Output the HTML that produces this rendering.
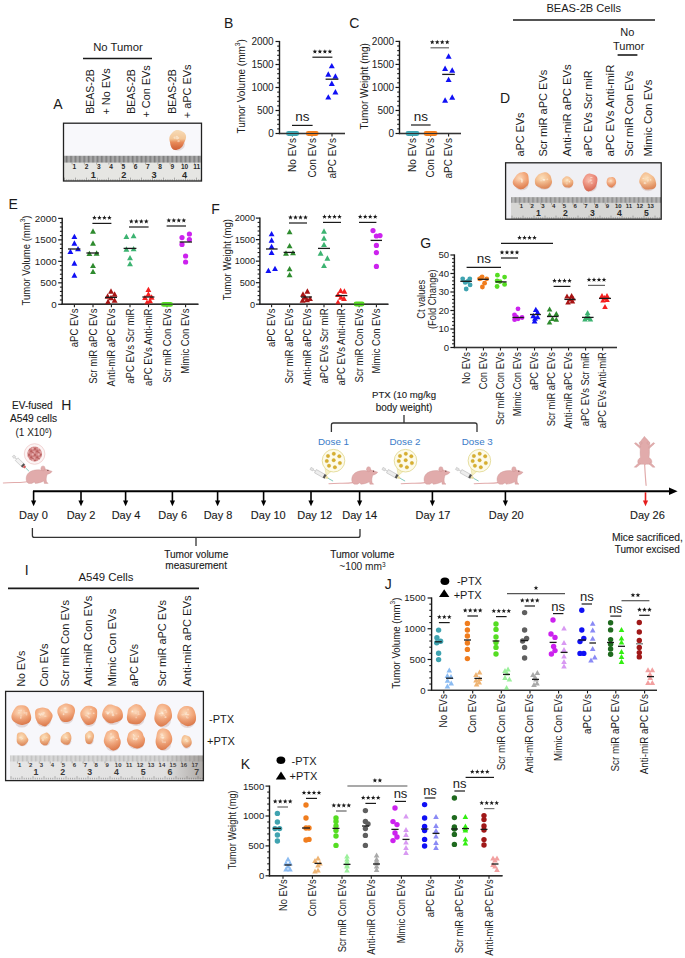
<!DOCTYPE html>
<html><head><meta charset="utf-8"><style>
html,body{margin:0;padding:0;background:#fff;overflow:hidden;width:685px;height:958px;}
svg{display:block;}
text{font-family:"Liberation Sans", sans-serif;}
</style></head><body>
<svg width="685" height="958" viewBox="0 0 685 958">
<rect width="685" height="958" fill="#fff"/>
<text x="53.30" y="109.00" font-size="14" fill="#1a1a1a">A</text>
<text x="224.00" y="28.00" font-size="14" fill="#1a1a1a">B</text>
<text x="349.30" y="28.00" font-size="14" fill="#1a1a1a">C</text>
<text x="499.90" y="103.00" font-size="14" fill="#1a1a1a">D</text>
<text x="8.50" y="208.90" font-size="14" fill="#1a1a1a">E</text>
<text x="211.30" y="213.60" font-size="14" fill="#1a1a1a">F</text>
<text x="420.30" y="248.00" font-size="14" fill="#1a1a1a">G</text>
<text x="61.30" y="410.00" font-size="14" fill="#1a1a1a">H</text>
<text x="24.70" y="575.00" font-size="14" fill="#1a1a1a">I</text>
<text x="384.70" y="588.50" font-size="14" fill="#1a1a1a">J</text>
<text x="240.80" y="768.60" font-size="14" fill="#1a1a1a">K</text>
<line x1="279.50" y1="134.10" x2="279.50" y2="40.90" stroke="#1a1a1a" stroke-width="1.4"/>
<line x1="275.50" y1="133.50" x2="279.50" y2="133.50" stroke="#1a1a1a" stroke-width="1.2"/>
<text x="273.70" y="137.10" font-size="10" fill="#1a1a1a" text-anchor="end">0</text>
<line x1="277.20" y1="128.90" x2="279.50" y2="128.90" stroke="#1a1a1a" stroke-width="1.1"/>
<line x1="277.20" y1="124.30" x2="279.50" y2="124.30" stroke="#1a1a1a" stroke-width="1.1"/>
<line x1="277.20" y1="119.70" x2="279.50" y2="119.70" stroke="#1a1a1a" stroke-width="1.1"/>
<line x1="277.20" y1="115.10" x2="279.50" y2="115.10" stroke="#1a1a1a" stroke-width="1.1"/>
<line x1="275.50" y1="110.50" x2="279.50" y2="110.50" stroke="#1a1a1a" stroke-width="1.2"/>
<text x="273.70" y="114.10" font-size="10" fill="#1a1a1a" text-anchor="end">500</text>
<line x1="277.20" y1="105.90" x2="279.50" y2="105.90" stroke="#1a1a1a" stroke-width="1.1"/>
<line x1="277.20" y1="101.30" x2="279.50" y2="101.30" stroke="#1a1a1a" stroke-width="1.1"/>
<line x1="277.20" y1="96.70" x2="279.50" y2="96.70" stroke="#1a1a1a" stroke-width="1.1"/>
<line x1="277.20" y1="92.10" x2="279.50" y2="92.10" stroke="#1a1a1a" stroke-width="1.1"/>
<line x1="275.50" y1="87.50" x2="279.50" y2="87.50" stroke="#1a1a1a" stroke-width="1.2"/>
<text x="273.70" y="91.10" font-size="10" fill="#1a1a1a" text-anchor="end">1000</text>
<line x1="277.20" y1="82.90" x2="279.50" y2="82.90" stroke="#1a1a1a" stroke-width="1.1"/>
<line x1="277.20" y1="78.30" x2="279.50" y2="78.30" stroke="#1a1a1a" stroke-width="1.1"/>
<line x1="277.20" y1="73.70" x2="279.50" y2="73.70" stroke="#1a1a1a" stroke-width="1.1"/>
<line x1="277.20" y1="69.10" x2="279.50" y2="69.10" stroke="#1a1a1a" stroke-width="1.1"/>
<line x1="275.50" y1="64.50" x2="279.50" y2="64.50" stroke="#1a1a1a" stroke-width="1.2"/>
<text x="273.70" y="68.10" font-size="10" fill="#1a1a1a" text-anchor="end">1500</text>
<line x1="277.20" y1="59.90" x2="279.50" y2="59.90" stroke="#1a1a1a" stroke-width="1.1"/>
<line x1="277.20" y1="55.30" x2="279.50" y2="55.30" stroke="#1a1a1a" stroke-width="1.1"/>
<line x1="277.20" y1="50.70" x2="279.50" y2="50.70" stroke="#1a1a1a" stroke-width="1.1"/>
<line x1="277.20" y1="46.10" x2="279.50" y2="46.10" stroke="#1a1a1a" stroke-width="1.1"/>
<line x1="275.50" y1="41.50" x2="279.50" y2="41.50" stroke="#1a1a1a" stroke-width="1.2"/>
<text x="273.70" y="45.10" font-size="10" fill="#1a1a1a" text-anchor="end">2000</text>
<line x1="278.80" y1="133.50" x2="345.00" y2="133.50" stroke="#1a1a1a" stroke-width="1.4"/>
<line x1="292.40" y1="133.50" x2="292.40" y2="136.50" stroke="#1a1a1a" stroke-width="1.1"/>
<text transform="translate(296.00,138.00) rotate(-90)" font-size="10" fill="#1a1a1a" text-anchor="end">No EVs</text>
<line x1="312.00" y1="133.50" x2="312.00" y2="136.50" stroke="#1a1a1a" stroke-width="1.1"/>
<text transform="translate(315.60,138.00) rotate(-90)" font-size="10" fill="#1a1a1a" text-anchor="end">Con EVs</text>
<line x1="332.00" y1="133.50" x2="332.00" y2="136.50" stroke="#1a1a1a" stroke-width="1.1"/>
<text transform="translate(335.60,138.00) rotate(-90)" font-size="10" fill="#1a1a1a" text-anchor="end">aPC EVs</text>
<text transform="translate(244.60,133.60) rotate(-90)" font-size="10" fill="#1a1a1a">Tumor Volume (mm<tspan font-size="6.8" dy="-5">3</tspan><tspan dy="5">)</tspan></text>
<rect x="286.00" y="131.10" width="13.20" height="4.8" rx="2.4" fill="#3fa3b0"/>
<rect x="305.80" y="131.10" width="12.90" height="4.8" rx="2.4" fill="#f07d1e"/>
<line x1="279.50" y1="133.50" x2="345.00" y2="133.50" stroke="#333" stroke-width="1.1"/>
<line x1="292.00" y1="125.40" x2="312.60" y2="125.40" stroke="#1a1a1a" stroke-width="1.2"/>
<text x="302.30" y="121.40" font-size="13.5" fill="#1a1a1a" text-anchor="middle">ns</text>
<line x1="312.40" y1="57.20" x2="332.40" y2="57.20" stroke="#1a1a1a" stroke-width="1.2"/>
<polygon points="314.90,49.15 315.52,50.75 317.23,50.84 315.90,51.92 316.34,53.58 314.90,52.65 313.46,53.58 313.90,51.92 312.57,50.84 314.28,50.75" fill="#1a1a1a"/>
<polygon points="319.90,49.15 320.52,50.75 322.23,50.84 320.90,51.92 321.34,53.58 319.90,52.65 318.46,53.58 318.90,51.92 317.57,50.84 319.28,50.75" fill="#1a1a1a"/>
<polygon points="324.90,49.15 325.52,50.75 327.23,50.84 325.90,51.92 326.34,53.58 324.90,52.65 323.46,53.58 323.90,51.92 322.57,50.84 324.28,50.75" fill="#1a1a1a"/>
<polygon points="329.90,49.15 330.52,50.75 332.23,50.84 330.90,51.92 331.34,53.58 329.90,52.65 328.46,53.58 328.90,51.92 327.57,50.84 329.28,50.75" fill="#1a1a1a"/>
<path d="M331.80 62.90L334.80 68.30L328.80 68.30Z" fill="#1010f5"/>
<path d="M328.30 71.30L331.30 76.70L325.30 76.70Z" fill="#1010f5"/>
<path d="M335.40 73.30L338.40 78.70L332.40 78.70Z" fill="#1010f5"/>
<path d="M331.80 80.60L334.80 86.00L328.80 86.00Z" fill="#1010f5"/>
<path d="M335.40 89.10L338.40 94.50L332.40 94.50Z" fill="#1010f5"/>
<path d="M328.30 94.20L331.30 99.60L325.30 99.60Z" fill="#1010f5"/>
<line x1="325.60" y1="79.20" x2="338.40" y2="79.20" stroke="#1a1a1a" stroke-width="1.3"/>
<line x1="399.50" y1="134.10" x2="399.50" y2="40.80" stroke="#1a1a1a" stroke-width="1.4"/>
<line x1="395.50" y1="133.50" x2="399.50" y2="133.50" stroke="#1a1a1a" stroke-width="1.2"/>
<text x="394.10" y="137.10" font-size="10" fill="#1a1a1a" text-anchor="end">0</text>
<line x1="397.20" y1="128.90" x2="399.50" y2="128.90" stroke="#1a1a1a" stroke-width="1.1"/>
<line x1="397.20" y1="124.29" x2="399.50" y2="124.29" stroke="#1a1a1a" stroke-width="1.1"/>
<line x1="397.20" y1="119.69" x2="399.50" y2="119.69" stroke="#1a1a1a" stroke-width="1.1"/>
<line x1="397.20" y1="115.08" x2="399.50" y2="115.08" stroke="#1a1a1a" stroke-width="1.1"/>
<line x1="395.50" y1="110.47" x2="399.50" y2="110.47" stroke="#1a1a1a" stroke-width="1.2"/>
<text x="394.10" y="114.07" font-size="10" fill="#1a1a1a" text-anchor="end">500</text>
<line x1="397.20" y1="105.87" x2="399.50" y2="105.87" stroke="#1a1a1a" stroke-width="1.1"/>
<line x1="397.20" y1="101.27" x2="399.50" y2="101.27" stroke="#1a1a1a" stroke-width="1.1"/>
<line x1="397.20" y1="96.66" x2="399.50" y2="96.66" stroke="#1a1a1a" stroke-width="1.1"/>
<line x1="397.20" y1="92.06" x2="399.50" y2="92.06" stroke="#1a1a1a" stroke-width="1.1"/>
<line x1="395.50" y1="87.45" x2="399.50" y2="87.45" stroke="#1a1a1a" stroke-width="1.2"/>
<text x="394.10" y="91.05" font-size="10" fill="#1a1a1a" text-anchor="end">1000</text>
<line x1="397.20" y1="82.84" x2="399.50" y2="82.84" stroke="#1a1a1a" stroke-width="1.1"/>
<line x1="397.20" y1="78.24" x2="399.50" y2="78.24" stroke="#1a1a1a" stroke-width="1.1"/>
<line x1="397.20" y1="73.64" x2="399.50" y2="73.64" stroke="#1a1a1a" stroke-width="1.1"/>
<line x1="397.20" y1="69.03" x2="399.50" y2="69.03" stroke="#1a1a1a" stroke-width="1.1"/>
<line x1="395.50" y1="64.42" x2="399.50" y2="64.42" stroke="#1a1a1a" stroke-width="1.2"/>
<text x="394.10" y="68.02" font-size="10" fill="#1a1a1a" text-anchor="end">1500</text>
<line x1="397.20" y1="59.82" x2="399.50" y2="59.82" stroke="#1a1a1a" stroke-width="1.1"/>
<line x1="397.20" y1="55.22" x2="399.50" y2="55.22" stroke="#1a1a1a" stroke-width="1.1"/>
<line x1="397.20" y1="50.61" x2="399.50" y2="50.61" stroke="#1a1a1a" stroke-width="1.1"/>
<line x1="397.20" y1="46.00" x2="399.50" y2="46.00" stroke="#1a1a1a" stroke-width="1.1"/>
<line x1="395.50" y1="41.40" x2="399.50" y2="41.40" stroke="#1a1a1a" stroke-width="1.2"/>
<text x="394.10" y="45.00" font-size="10" fill="#1a1a1a" text-anchor="end">2000</text>
<line x1="398.80" y1="133.50" x2="461.00" y2="133.50" stroke="#1a1a1a" stroke-width="1.4"/>
<line x1="412.50" y1="133.50" x2="412.50" y2="136.50" stroke="#1a1a1a" stroke-width="1.1"/>
<text transform="translate(416.10,138.00) rotate(-90)" font-size="10" fill="#1a1a1a" text-anchor="end">No EVs</text>
<line x1="430.60" y1="133.50" x2="430.60" y2="136.50" stroke="#1a1a1a" stroke-width="1.1"/>
<text transform="translate(434.20,138.00) rotate(-90)" font-size="10" fill="#1a1a1a" text-anchor="end">Con EVs</text>
<line x1="448.60" y1="133.50" x2="448.60" y2="136.50" stroke="#1a1a1a" stroke-width="1.1"/>
<text transform="translate(452.20,138.00) rotate(-90)" font-size="10" fill="#1a1a1a" text-anchor="end">aPC EVs</text>
<text transform="translate(367.70,129.50) rotate(-90)" font-size="10.1" fill="#1a1a1a">Tumor Weight (mg)</text>
<rect x="405.50" y="131.10" width="14.00" height="4.8" rx="2.4" fill="#3fa3b0"/>
<rect x="423.60" y="131.10" width="14.00" height="4.8" rx="2.4" fill="#f07d1e"/>
<line x1="399.50" y1="133.50" x2="461.00" y2="133.50" stroke="#333" stroke-width="1.1"/>
<line x1="411.00" y1="125.00" x2="430.60" y2="125.00" stroke="#1a1a1a" stroke-width="1.2"/>
<text x="420.80" y="121.00" font-size="13.5" fill="#1a1a1a" text-anchor="middle">ns</text>
<line x1="430.50" y1="47.80" x2="449.00" y2="47.80" stroke="#666" stroke-width="1.2"/>
<polygon points="432.25,39.75 432.87,41.35 434.58,41.44 433.25,42.52 433.69,44.18 432.25,43.25 430.81,44.18 431.25,42.52 429.92,41.44 431.63,41.35" fill="#1a1a1a"/>
<polygon points="437.25,39.75 437.87,41.35 439.58,41.44 438.25,42.52 438.69,44.18 437.25,43.25 435.81,44.18 436.25,42.52 434.92,41.44 436.63,41.35" fill="#1a1a1a"/>
<polygon points="442.25,39.75 442.87,41.35 444.58,41.44 443.25,42.52 443.69,44.18 442.25,43.25 440.81,44.18 441.25,42.52 439.92,41.44 441.63,41.35" fill="#1a1a1a"/>
<polygon points="447.25,39.75 447.87,41.35 449.58,41.44 448.25,42.52 448.69,44.18 447.25,43.25 445.81,44.18 446.25,42.52 444.92,41.44 446.63,41.35" fill="#1a1a1a"/>
<path d="M448.60 53.30L451.60 58.70L445.60 58.70Z" fill="#1010f5"/>
<path d="M445.10 65.60L448.10 71.00L442.10 71.00Z" fill="#1010f5"/>
<path d="M452.20 67.30L455.20 72.70L449.20 72.70Z" fill="#1010f5"/>
<path d="M448.60 76.70L451.60 82.10L445.60 82.10Z" fill="#1010f5"/>
<path d="M445.10 97.30L448.10 102.70L442.10 102.70Z" fill="#1010f5"/>
<path d="M452.20 94.30L455.20 99.70L449.20 99.70Z" fill="#1010f5"/>
<line x1="442.20" y1="74.40" x2="454.80" y2="74.40" stroke="#1a1a1a" stroke-width="1.3"/>
<line x1="62.20" y1="304.90" x2="62.20" y2="217.80" stroke="#1a1a1a" stroke-width="1.4"/>
<line x1="58.20" y1="304.30" x2="62.20" y2="304.30" stroke="#1a1a1a" stroke-width="1.2"/>
<text x="56.60" y="307.83" font-size="9.8" fill="#1a1a1a" text-anchor="end">0</text>
<line x1="59.90" y1="300.00" x2="62.20" y2="300.00" stroke="#1a1a1a" stroke-width="1.1"/>
<line x1="59.90" y1="295.71" x2="62.20" y2="295.71" stroke="#1a1a1a" stroke-width="1.1"/>
<line x1="59.90" y1="291.42" x2="62.20" y2="291.42" stroke="#1a1a1a" stroke-width="1.1"/>
<line x1="59.90" y1="287.12" x2="62.20" y2="287.12" stroke="#1a1a1a" stroke-width="1.1"/>
<line x1="58.20" y1="282.82" x2="62.20" y2="282.82" stroke="#1a1a1a" stroke-width="1.2"/>
<text x="56.60" y="286.35" font-size="9.8" fill="#1a1a1a" text-anchor="end">500</text>
<line x1="59.90" y1="278.53" x2="62.20" y2="278.53" stroke="#1a1a1a" stroke-width="1.1"/>
<line x1="59.90" y1="274.24" x2="62.20" y2="274.24" stroke="#1a1a1a" stroke-width="1.1"/>
<line x1="59.90" y1="269.94" x2="62.20" y2="269.94" stroke="#1a1a1a" stroke-width="1.1"/>
<line x1="59.90" y1="265.64" x2="62.20" y2="265.64" stroke="#1a1a1a" stroke-width="1.1"/>
<line x1="58.20" y1="261.35" x2="62.20" y2="261.35" stroke="#1a1a1a" stroke-width="1.2"/>
<text x="56.60" y="264.88" font-size="9.8" fill="#1a1a1a" text-anchor="end">1000</text>
<line x1="59.90" y1="257.06" x2="62.20" y2="257.06" stroke="#1a1a1a" stroke-width="1.1"/>
<line x1="59.90" y1="252.76" x2="62.20" y2="252.76" stroke="#1a1a1a" stroke-width="1.1"/>
<line x1="59.90" y1="248.47" x2="62.20" y2="248.47" stroke="#1a1a1a" stroke-width="1.1"/>
<line x1="59.90" y1="244.17" x2="62.20" y2="244.17" stroke="#1a1a1a" stroke-width="1.1"/>
<line x1="58.20" y1="239.88" x2="62.20" y2="239.88" stroke="#1a1a1a" stroke-width="1.2"/>
<text x="56.60" y="243.40" font-size="9.8" fill="#1a1a1a" text-anchor="end">1500</text>
<line x1="59.90" y1="235.58" x2="62.20" y2="235.58" stroke="#1a1a1a" stroke-width="1.1"/>
<line x1="59.90" y1="231.29" x2="62.20" y2="231.29" stroke="#1a1a1a" stroke-width="1.1"/>
<line x1="59.90" y1="226.99" x2="62.20" y2="226.99" stroke="#1a1a1a" stroke-width="1.1"/>
<line x1="59.90" y1="222.69" x2="62.20" y2="222.69" stroke="#1a1a1a" stroke-width="1.1"/>
<line x1="58.20" y1="218.40" x2="62.20" y2="218.40" stroke="#1a1a1a" stroke-width="1.2"/>
<text x="56.60" y="221.93" font-size="9.8" fill="#1a1a1a" text-anchor="end">2000</text>
<line x1="61.50" y1="304.30" x2="198.40" y2="304.30" stroke="#1a1a1a" stroke-width="1.4"/>
<line x1="74.40" y1="304.30" x2="74.40" y2="307.30" stroke="#1a1a1a" stroke-width="1.1"/>
<text transform="translate(78.00,308.50) rotate(-90) scale(0.955,1)" font-size="10" fill="#1a1a1a" text-anchor="end">aPC EVs</text>
<line x1="93.00" y1="304.30" x2="93.00" y2="307.30" stroke="#1a1a1a" stroke-width="1.1"/>
<text transform="translate(96.60,308.50) rotate(-90) scale(0.955,1)" font-size="10" fill="#1a1a1a" text-anchor="end">Scr miR aPC EVs</text>
<line x1="111.40" y1="304.30" x2="111.40" y2="307.30" stroke="#1a1a1a" stroke-width="1.1"/>
<text transform="translate(115.00,308.50) rotate(-90) scale(0.955,1)" font-size="10" fill="#1a1a1a" text-anchor="end">Anti-miR aPC EVs</text>
<line x1="130.00" y1="304.30" x2="130.00" y2="307.30" stroke="#1a1a1a" stroke-width="1.1"/>
<text transform="translate(133.60,308.50) rotate(-90) scale(0.955,1)" font-size="10" fill="#1a1a1a" text-anchor="end">aPC EVs Scr miR</text>
<line x1="148.50" y1="304.30" x2="148.50" y2="307.30" stroke="#1a1a1a" stroke-width="1.1"/>
<text transform="translate(152.10,308.50) rotate(-90) scale(0.955,1)" font-size="10" fill="#1a1a1a" text-anchor="end">aPC EVs Anti-miR</text>
<line x1="167.00" y1="304.30" x2="167.00" y2="307.30" stroke="#1a1a1a" stroke-width="1.1"/>
<text transform="translate(170.60,308.50) rotate(-90) scale(0.955,1)" font-size="10" fill="#1a1a1a" text-anchor="end">Scr miR Con EVs</text>
<line x1="185.60" y1="304.30" x2="185.60" y2="307.30" stroke="#1a1a1a" stroke-width="1.1"/>
<text transform="translate(189.20,308.50) rotate(-90) scale(0.955,1)" font-size="10" fill="#1a1a1a" text-anchor="end">Mimic Con EVs</text>
<text transform="translate(29.60,305.50) rotate(-90) scale(0.953,1)" font-size="10" fill="#1a1a1a">Tumor Volume (mm<tspan font-size="6.8" dy="-5">3</tspan><tspan dy="5">)</tspan></text>
<path d="M74.40 233.75L77.35 239.05L71.45 239.05Z" fill="#1010f5"/>
<path d="M74.40 240.35L77.35 245.65L71.45 245.65Z" fill="#1010f5"/>
<path d="M70.40 248.75L73.35 254.05L67.45 254.05Z" fill="#1010f5"/>
<path d="M78.00 245.95L80.95 251.25L75.05 251.25Z" fill="#1010f5"/>
<path d="M74.40 260.35L77.35 265.65L71.45 265.65Z" fill="#1010f5"/>
<path d="M74.40 272.35L77.35 277.65L71.45 277.65Z" fill="#1010f5"/>
<line x1="68.00" y1="249.00" x2="80.40" y2="249.00" stroke="#1a1a1a" stroke-width="1.3"/>
<path d="M93.00 228.35L95.95 233.65L90.05 233.65Z" fill="#2e8b2e"/>
<path d="M93.00 240.35L95.95 245.65L90.05 245.65Z" fill="#2e8b2e"/>
<path d="M89.40 250.75L92.35 256.05L86.45 256.05Z" fill="#2e8b2e"/>
<path d="M96.60 250.35L99.55 255.65L93.65 255.65Z" fill="#2e8b2e"/>
<path d="M93.00 262.75L95.95 268.05L90.05 268.05Z" fill="#2e8b2e"/>
<path d="M93.00 268.75L95.95 274.05L90.05 274.05Z" fill="#2e8b2e"/>
<line x1="86.40" y1="253.00" x2="99.00" y2="253.00" stroke="#1a1a1a" stroke-width="1.3"/>
<path d="M111.00 288.35L113.95 293.65L108.05 293.65Z" fill="#a81414"/>
<path d="M114.60 291.35L117.55 296.65L111.65 296.65Z" fill="#a81414"/>
<path d="M108.00 298.85L110.95 304.15L105.05 304.15Z" fill="#a81414"/>
<path d="M114.60 297.55L117.55 302.85L111.65 302.85Z" fill="#a81414"/>
<path d="M111.00 294.85L113.95 300.15L108.05 300.15Z" fill="#a81414"/>
<path d="M107.60 293.35L110.55 298.65L104.65 298.65Z" fill="#a81414"/>
<line x1="105.00" y1="297.40" x2="117.00" y2="297.40" stroke="#1a1a1a" stroke-width="1.3"/>
<path d="M126.40 233.75L129.35 239.05L123.45 239.05Z" fill="#3cb371"/>
<path d="M133.60 232.95L136.55 238.25L130.65 238.25Z" fill="#3cb371"/>
<path d="M126.40 246.35L129.35 251.65L123.45 251.65Z" fill="#3cb371"/>
<path d="M133.60 245.95L136.55 251.25L130.65 251.25Z" fill="#3cb371"/>
<path d="M130.00 254.95L132.95 260.25L127.05 260.25Z" fill="#3cb371"/>
<path d="M130.00 260.95L132.95 266.25L127.05 266.25Z" fill="#3cb371"/>
<line x1="123.60" y1="248.40" x2="136.40" y2="248.40" stroke="#1a1a1a" stroke-width="1.3"/>
<path d="M148.40 286.75L151.35 292.05L145.45 292.05Z" fill="#f52020"/>
<path d="M148.40 291.35L151.35 296.65L145.45 296.65Z" fill="#f52020"/>
<path d="M145.00 294.75L147.95 300.05L142.05 300.05Z" fill="#f52020"/>
<path d="M151.60 294.35L154.55 299.65L148.65 299.65Z" fill="#f52020"/>
<path d="M147.00 299.55L149.95 304.85L144.05 304.85Z" fill="#f52020"/>
<path d="M150.00 297.85L152.95 303.15L147.05 303.15Z" fill="#f52020"/>
<line x1="142.40" y1="297.00" x2="154.40" y2="297.00" stroke="#1a1a1a" stroke-width="1.3"/>
<rect x="161.00" y="302.00" width="12.00" height="4.8" rx="2.4" fill="#55dd22"/>
<circle cx="182.00" cy="237.60" r="2.6" fill="#cc22ee"/>
<circle cx="189.40" cy="234.00" r="2.6" fill="#cc22ee"/>
<circle cx="189.40" cy="239.60" r="2.6" fill="#cc22ee"/>
<circle cx="182.00" cy="244.40" r="2.6" fill="#cc22ee"/>
<circle cx="185.60" cy="256.00" r="2.6" fill="#cc22ee"/>
<circle cx="185.60" cy="262.00" r="2.6" fill="#cc22ee"/>
<line x1="179.60" y1="242.00" x2="192.00" y2="242.00" stroke="#1a1a1a" stroke-width="1.3"/>
<line x1="62.20" y1="304.30" x2="198.40" y2="304.30" stroke="#333" stroke-width="1.1"/>
<line x1="92.40" y1="223.40" x2="111.40" y2="223.40" stroke="#1a1a1a" stroke-width="1.2"/>
<polygon points="94.40,215.35 95.02,216.95 96.73,217.04 95.40,218.12 95.84,219.78 94.40,218.85 92.96,219.78 93.40,218.12 92.07,217.04 93.78,216.95" fill="#1a1a1a"/>
<polygon points="99.40,215.35 100.02,216.95 101.73,217.04 100.40,218.12 100.84,219.78 99.40,218.85 97.96,219.78 98.40,218.12 97.07,217.04 98.78,216.95" fill="#1a1a1a"/>
<polygon points="104.40,215.35 105.02,216.95 106.73,217.04 105.40,218.12 105.84,219.78 104.40,218.85 102.96,219.78 103.40,218.12 102.07,217.04 103.78,216.95" fill="#1a1a1a"/>
<polygon points="109.40,215.35 110.02,216.95 111.73,217.04 110.40,218.12 110.84,219.78 109.40,218.85 107.96,219.78 108.40,218.12 107.07,217.04 108.78,216.95" fill="#1a1a1a"/>
<line x1="129.00" y1="227.00" x2="148.60" y2="227.00" stroke="#1a1a1a" stroke-width="1.2"/>
<polygon points="131.30,218.95 131.92,220.55 133.63,220.64 132.30,221.72 132.74,223.38 131.30,222.45 129.86,223.38 130.30,221.72 128.97,220.64 130.68,220.55" fill="#1a1a1a"/>
<polygon points="136.30,218.95 136.92,220.55 138.63,220.64 137.30,221.72 137.74,223.38 136.30,222.45 134.86,223.38 135.30,221.72 133.97,220.64 135.68,220.55" fill="#1a1a1a"/>
<polygon points="141.30,218.95 141.92,220.55 143.63,220.64 142.30,221.72 142.74,223.38 141.30,222.45 139.86,223.38 140.30,221.72 138.97,220.64 140.68,220.55" fill="#1a1a1a"/>
<polygon points="146.30,218.95 146.92,220.55 148.63,220.64 147.30,221.72 147.74,223.38 146.30,222.45 144.86,223.38 145.30,221.72 143.97,220.64 145.68,220.55" fill="#1a1a1a"/>
<line x1="166.60" y1="226.00" x2="186.00" y2="226.00" stroke="#1a1a1a" stroke-width="1.2"/>
<polygon points="168.80,217.95 169.42,219.55 171.13,219.64 169.80,220.72 170.24,222.38 168.80,221.45 167.36,222.38 167.80,220.72 166.47,219.64 168.18,219.55" fill="#1a1a1a"/>
<polygon points="173.80,217.95 174.42,219.55 176.13,219.64 174.80,220.72 175.24,222.38 173.80,221.45 172.36,222.38 172.80,220.72 171.47,219.64 173.18,219.55" fill="#1a1a1a"/>
<polygon points="178.80,217.95 179.42,219.55 181.13,219.64 179.80,220.72 180.24,222.38 178.80,221.45 177.36,222.38 177.80,220.72 176.47,219.64 178.18,219.55" fill="#1a1a1a"/>
<polygon points="183.80,217.95 184.42,219.55 186.13,219.64 184.80,220.72 185.24,222.38 183.80,221.45 182.36,222.38 182.80,220.72 181.47,219.64 183.18,219.55" fill="#1a1a1a"/>
<line x1="259.90" y1="304.80" x2="259.90" y2="217.50" stroke="#1a1a1a" stroke-width="1.4"/>
<line x1="255.90" y1="304.20" x2="259.90" y2="304.20" stroke="#1a1a1a" stroke-width="1.2"/>
<text x="255.10" y="307.51" font-size="9.2" fill="#1a1a1a" text-anchor="end">0</text>
<line x1="257.60" y1="299.89" x2="259.90" y2="299.89" stroke="#1a1a1a" stroke-width="1.1"/>
<line x1="257.60" y1="295.59" x2="259.90" y2="295.59" stroke="#1a1a1a" stroke-width="1.1"/>
<line x1="257.60" y1="291.28" x2="259.90" y2="291.28" stroke="#1a1a1a" stroke-width="1.1"/>
<line x1="257.60" y1="286.98" x2="259.90" y2="286.98" stroke="#1a1a1a" stroke-width="1.1"/>
<line x1="255.90" y1="282.68" x2="259.90" y2="282.68" stroke="#1a1a1a" stroke-width="1.2"/>
<text x="255.10" y="285.99" font-size="9.2" fill="#1a1a1a" text-anchor="end">500</text>
<line x1="257.60" y1="278.37" x2="259.90" y2="278.37" stroke="#1a1a1a" stroke-width="1.1"/>
<line x1="257.60" y1="274.06" x2="259.90" y2="274.06" stroke="#1a1a1a" stroke-width="1.1"/>
<line x1="257.60" y1="269.76" x2="259.90" y2="269.76" stroke="#1a1a1a" stroke-width="1.1"/>
<line x1="257.60" y1="265.45" x2="259.90" y2="265.45" stroke="#1a1a1a" stroke-width="1.1"/>
<line x1="255.90" y1="261.15" x2="259.90" y2="261.15" stroke="#1a1a1a" stroke-width="1.2"/>
<text x="255.10" y="264.46" font-size="9.2" fill="#1a1a1a" text-anchor="end">1000</text>
<line x1="257.60" y1="256.84" x2="259.90" y2="256.84" stroke="#1a1a1a" stroke-width="1.1"/>
<line x1="257.60" y1="252.54" x2="259.90" y2="252.54" stroke="#1a1a1a" stroke-width="1.1"/>
<line x1="257.60" y1="248.24" x2="259.90" y2="248.24" stroke="#1a1a1a" stroke-width="1.1"/>
<line x1="257.60" y1="243.93" x2="259.90" y2="243.93" stroke="#1a1a1a" stroke-width="1.1"/>
<line x1="255.90" y1="239.62" x2="259.90" y2="239.62" stroke="#1a1a1a" stroke-width="1.2"/>
<text x="255.10" y="242.94" font-size="9.2" fill="#1a1a1a" text-anchor="end">1500</text>
<line x1="257.60" y1="235.32" x2="259.90" y2="235.32" stroke="#1a1a1a" stroke-width="1.1"/>
<line x1="257.60" y1="231.01" x2="259.90" y2="231.01" stroke="#1a1a1a" stroke-width="1.1"/>
<line x1="257.60" y1="226.71" x2="259.90" y2="226.71" stroke="#1a1a1a" stroke-width="1.1"/>
<line x1="257.60" y1="222.40" x2="259.90" y2="222.40" stroke="#1a1a1a" stroke-width="1.1"/>
<line x1="255.90" y1="218.10" x2="259.90" y2="218.10" stroke="#1a1a1a" stroke-width="1.2"/>
<text x="255.10" y="221.41" font-size="9.2" fill="#1a1a1a" text-anchor="end">2000</text>
<line x1="259.20" y1="304.20" x2="388.40" y2="304.20" stroke="#1a1a1a" stroke-width="1.4"/>
<line x1="271.60" y1="304.20" x2="271.60" y2="307.20" stroke="#1a1a1a" stroke-width="1.1"/>
<text transform="translate(275.20,308.50) rotate(-90) scale(0.95,1)" font-size="10" fill="#1a1a1a" text-anchor="end">aPC EVs</text>
<line x1="289.60" y1="304.20" x2="289.60" y2="307.20" stroke="#1a1a1a" stroke-width="1.1"/>
<text transform="translate(293.20,308.50) rotate(-90) scale(0.95,1)" font-size="10" fill="#1a1a1a" text-anchor="end">Scr miR aPC EVs</text>
<line x1="307.00" y1="304.20" x2="307.00" y2="307.20" stroke="#1a1a1a" stroke-width="1.1"/>
<text transform="translate(310.60,308.50) rotate(-90) scale(0.95,1)" font-size="10" fill="#1a1a1a" text-anchor="end">Anti-miR aPC EVs</text>
<line x1="324.00" y1="304.20" x2="324.00" y2="307.20" stroke="#1a1a1a" stroke-width="1.1"/>
<text transform="translate(327.60,308.50) rotate(-90) scale(0.95,1)" font-size="10" fill="#1a1a1a" text-anchor="end">aPC EVs Scr miR</text>
<line x1="341.60" y1="304.20" x2="341.60" y2="307.20" stroke="#1a1a1a" stroke-width="1.1"/>
<text transform="translate(345.20,308.50) rotate(-90) scale(0.95,1)" font-size="10" fill="#1a1a1a" text-anchor="end">aPC EVs Anti-miR</text>
<line x1="359.10" y1="304.20" x2="359.10" y2="307.20" stroke="#1a1a1a" stroke-width="1.1"/>
<text transform="translate(362.70,308.50) rotate(-90) scale(0.95,1)" font-size="10" fill="#1a1a1a" text-anchor="end">Scr miR Con EVs</text>
<line x1="376.40" y1="304.20" x2="376.40" y2="307.20" stroke="#1a1a1a" stroke-width="1.1"/>
<text transform="translate(380.00,308.50) rotate(-90) scale(0.95,1)" font-size="10" fill="#1a1a1a" text-anchor="end">Mimic Con EVs</text>
<text transform="translate(230.70,300.30) rotate(-90) scale(0.95,1)" font-size="10" fill="#1a1a1a">Tumor Weight (mg)</text>
<path d="M271.60 230.95L274.55 236.25L268.65 236.25Z" fill="#1010f5"/>
<path d="M271.60 237.35L274.55 242.65L268.65 242.65Z" fill="#1010f5"/>
<path d="M271.60 243.75L274.55 249.05L268.65 249.05Z" fill="#1010f5"/>
<path d="M271.60 249.75L274.55 255.05L268.65 255.05Z" fill="#1010f5"/>
<path d="M268.40 267.75L271.35 273.05L265.45 273.05Z" fill="#1010f5"/>
<path d="M275.00 265.75L277.95 271.05L272.05 271.05Z" fill="#1010f5"/>
<line x1="266.00" y1="249.00" x2="277.60" y2="249.00" stroke="#1a1a1a" stroke-width="1.3"/>
<path d="M289.60 228.95L292.55 234.25L286.65 234.25Z" fill="#2e8b2e"/>
<path d="M289.60 242.95L292.55 248.25L286.65 248.25Z" fill="#2e8b2e"/>
<path d="M286.00 250.35L288.95 255.65L283.05 255.65Z" fill="#2e8b2e"/>
<path d="M293.00 249.95L295.95 255.25L290.05 255.25Z" fill="#2e8b2e"/>
<path d="M289.60 265.95L292.55 271.25L286.65 271.25Z" fill="#2e8b2e"/>
<path d="M289.60 271.95L292.55 277.25L286.65 277.25Z" fill="#2e8b2e"/>
<line x1="283.60" y1="252.40" x2="295.00" y2="252.40" stroke="#1a1a1a" stroke-width="1.3"/>
<path d="M307.40 288.35L310.35 293.65L304.45 293.65Z" fill="#a81414"/>
<path d="M303.00 291.35L305.95 296.65L300.05 296.65Z" fill="#a81414"/>
<path d="M310.00 295.75L312.95 301.05L307.05 301.05Z" fill="#a81414"/>
<path d="M302.60 297.35L305.55 302.65L299.65 302.65Z" fill="#a81414"/>
<path d="M307.00 296.95L309.95 302.25L304.05 302.25Z" fill="#a81414"/>
<path d="M305.00 294.35L307.95 299.65L302.05 299.65Z" fill="#a81414"/>
<line x1="301.00" y1="297.00" x2="312.00" y2="297.00" stroke="#1a1a1a" stroke-width="1.3"/>
<path d="M324.00 228.35L326.95 233.65L321.05 233.65Z" fill="#3cb371"/>
<path d="M324.00 235.35L326.95 240.65L321.05 240.65Z" fill="#3cb371"/>
<path d="M324.00 241.75L326.95 247.05L321.05 247.05Z" fill="#3cb371"/>
<path d="M320.60 250.35L323.55 255.65L317.65 255.65Z" fill="#3cb371"/>
<path d="M327.40 255.35L330.35 260.65L324.45 260.65Z" fill="#3cb371"/>
<path d="M324.00 262.75L326.95 268.05L321.05 268.05Z" fill="#3cb371"/>
<line x1="318.00" y1="248.40" x2="330.00" y2="248.40" stroke="#1a1a1a" stroke-width="1.3"/>
<path d="M340.60 287.75L343.55 293.05L337.65 293.05Z" fill="#f52020"/>
<path d="M344.40 288.35L347.35 293.65L341.45 293.65Z" fill="#f52020"/>
<path d="M338.00 291.75L340.95 297.05L335.05 297.05Z" fill="#f52020"/>
<path d="M344.00 295.75L346.95 301.05L341.05 301.05Z" fill="#f52020"/>
<path d="M338.00 299.35L340.95 304.65L335.05 304.65Z" fill="#f52020"/>
<path d="M341.00 294.35L343.95 299.65L338.05 299.65Z" fill="#f52020"/>
<line x1="335.60" y1="295.60" x2="347.40" y2="295.60" stroke="#1a1a1a" stroke-width="1.3"/>
<rect x="353.60" y="301.60" width="11.00" height="4.8" rx="2.4" fill="#55dd22"/>
<circle cx="373.00" cy="230.60" r="2.6" fill="#cc22ee"/>
<circle cx="376.40" cy="236.00" r="2.6" fill="#cc22ee"/>
<circle cx="380.00" cy="235.60" r="2.6" fill="#cc22ee"/>
<circle cx="376.40" cy="245.40" r="2.6" fill="#cc22ee"/>
<circle cx="376.40" cy="252.60" r="2.6" fill="#cc22ee"/>
<circle cx="376.40" cy="266.40" r="2.6" fill="#cc22ee"/>
<line x1="370.60" y1="240.40" x2="382.00" y2="240.40" stroke="#1a1a1a" stroke-width="1.3"/>
<line x1="259.90" y1="304.20" x2="388.40" y2="304.20" stroke="#333" stroke-width="1.1"/>
<line x1="289.00" y1="223.00" x2="307.00" y2="223.00" stroke="#1a1a1a" stroke-width="1.2"/>
<polygon points="290.50,214.95 291.12,216.55 292.83,216.64 291.50,217.72 291.94,219.38 290.50,218.45 289.06,219.38 289.50,217.72 288.17,216.64 289.88,216.55" fill="#1a1a1a"/>
<polygon points="295.50,214.95 296.12,216.55 297.83,216.64 296.50,217.72 296.94,219.38 295.50,218.45 294.06,219.38 294.50,217.72 293.17,216.64 294.88,216.55" fill="#1a1a1a"/>
<polygon points="300.50,214.95 301.12,216.55 302.83,216.64 301.50,217.72 301.94,219.38 300.50,218.45 299.06,219.38 299.50,217.72 298.17,216.64 299.88,216.55" fill="#1a1a1a"/>
<polygon points="305.50,214.95 306.12,216.55 307.83,216.64 306.50,217.72 306.94,219.38 305.50,218.45 304.06,219.38 304.50,217.72 303.17,216.64 304.88,216.55" fill="#1a1a1a"/>
<line x1="323.00" y1="222.40" x2="341.00" y2="222.40" stroke="#1a1a1a" stroke-width="1.2"/>
<polygon points="324.50,214.35 325.12,215.95 326.83,216.04 325.50,217.12 325.94,218.78 324.50,217.85 323.06,218.78 323.50,217.12 322.17,216.04 323.88,215.95" fill="#1a1a1a"/>
<polygon points="329.50,214.35 330.12,215.95 331.83,216.04 330.50,217.12 330.94,218.78 329.50,217.85 328.06,218.78 328.50,217.12 327.17,216.04 328.88,215.95" fill="#1a1a1a"/>
<polygon points="334.50,214.35 335.12,215.95 336.83,216.04 335.50,217.12 335.94,218.78 334.50,217.85 333.06,218.78 333.50,217.12 332.17,216.04 333.88,215.95" fill="#1a1a1a"/>
<polygon points="339.50,214.35 340.12,215.95 341.83,216.04 340.50,217.12 340.94,218.78 339.50,217.85 338.06,218.78 338.50,217.12 337.17,216.04 338.88,215.95" fill="#1a1a1a"/>
<line x1="359.00" y1="222.40" x2="376.40" y2="222.40" stroke="#1a1a1a" stroke-width="1.2"/>
<polygon points="360.20,214.35 360.82,215.95 362.53,216.04 361.20,217.12 361.64,218.78 360.20,217.85 358.76,218.78 359.20,217.12 357.87,216.04 359.58,215.95" fill="#1a1a1a"/>
<polygon points="365.20,214.35 365.82,215.95 367.53,216.04 366.20,217.12 366.64,218.78 365.20,217.85 363.76,218.78 364.20,217.12 362.87,216.04 364.58,215.95" fill="#1a1a1a"/>
<polygon points="370.20,214.35 370.82,215.95 372.53,216.04 371.20,217.12 371.64,218.78 370.20,217.85 368.76,218.78 369.20,217.12 367.87,216.04 369.58,215.95" fill="#1a1a1a"/>
<polygon points="375.20,214.35 375.82,215.95 377.53,216.04 376.20,217.12 376.64,218.78 375.20,217.85 373.76,218.78 374.20,217.12 372.87,216.04 374.58,215.95" fill="#1a1a1a"/>
<line x1="454.40" y1="348.10" x2="454.40" y2="254.40" stroke="#1a1a1a" stroke-width="1.4"/>
<line x1="450.40" y1="347.50" x2="454.40" y2="347.50" stroke="#1a1a1a" stroke-width="1.2"/>
<text x="449.20" y="350.96" font-size="9.6" fill="#1a1a1a" text-anchor="end">0</text>
<line x1="452.10" y1="343.80" x2="454.40" y2="343.80" stroke="#1a1a1a" stroke-width="1.1"/>
<line x1="452.10" y1="340.10" x2="454.40" y2="340.10" stroke="#1a1a1a" stroke-width="1.1"/>
<line x1="452.10" y1="336.40" x2="454.40" y2="336.40" stroke="#1a1a1a" stroke-width="1.1"/>
<line x1="452.10" y1="332.70" x2="454.40" y2="332.70" stroke="#1a1a1a" stroke-width="1.1"/>
<line x1="450.40" y1="329.00" x2="454.40" y2="329.00" stroke="#1a1a1a" stroke-width="1.2"/>
<text x="449.20" y="332.46" font-size="9.6" fill="#1a1a1a" text-anchor="end">10</text>
<line x1="452.10" y1="325.30" x2="454.40" y2="325.30" stroke="#1a1a1a" stroke-width="1.1"/>
<line x1="452.10" y1="321.60" x2="454.40" y2="321.60" stroke="#1a1a1a" stroke-width="1.1"/>
<line x1="452.10" y1="317.90" x2="454.40" y2="317.90" stroke="#1a1a1a" stroke-width="1.1"/>
<line x1="452.10" y1="314.20" x2="454.40" y2="314.20" stroke="#1a1a1a" stroke-width="1.1"/>
<line x1="450.40" y1="310.50" x2="454.40" y2="310.50" stroke="#1a1a1a" stroke-width="1.2"/>
<text x="449.20" y="313.96" font-size="9.6" fill="#1a1a1a" text-anchor="end">20</text>
<line x1="452.10" y1="306.80" x2="454.40" y2="306.80" stroke="#1a1a1a" stroke-width="1.1"/>
<line x1="452.10" y1="303.10" x2="454.40" y2="303.10" stroke="#1a1a1a" stroke-width="1.1"/>
<line x1="452.10" y1="299.40" x2="454.40" y2="299.40" stroke="#1a1a1a" stroke-width="1.1"/>
<line x1="452.10" y1="295.70" x2="454.40" y2="295.70" stroke="#1a1a1a" stroke-width="1.1"/>
<line x1="450.40" y1="292.00" x2="454.40" y2="292.00" stroke="#1a1a1a" stroke-width="1.2"/>
<text x="449.20" y="295.46" font-size="9.6" fill="#1a1a1a" text-anchor="end">30</text>
<line x1="452.10" y1="288.30" x2="454.40" y2="288.30" stroke="#1a1a1a" stroke-width="1.1"/>
<line x1="452.10" y1="284.60" x2="454.40" y2="284.60" stroke="#1a1a1a" stroke-width="1.1"/>
<line x1="452.10" y1="280.90" x2="454.40" y2="280.90" stroke="#1a1a1a" stroke-width="1.1"/>
<line x1="452.10" y1="277.20" x2="454.40" y2="277.20" stroke="#1a1a1a" stroke-width="1.1"/>
<line x1="450.40" y1="273.50" x2="454.40" y2="273.50" stroke="#1a1a1a" stroke-width="1.2"/>
<text x="449.20" y="276.96" font-size="9.6" fill="#1a1a1a" text-anchor="end">40</text>
<line x1="452.10" y1="269.80" x2="454.40" y2="269.80" stroke="#1a1a1a" stroke-width="1.1"/>
<line x1="452.10" y1="266.10" x2="454.40" y2="266.10" stroke="#1a1a1a" stroke-width="1.1"/>
<line x1="452.10" y1="262.40" x2="454.40" y2="262.40" stroke="#1a1a1a" stroke-width="1.1"/>
<line x1="452.10" y1="258.70" x2="454.40" y2="258.70" stroke="#1a1a1a" stroke-width="1.1"/>
<line x1="450.40" y1="255.00" x2="454.40" y2="255.00" stroke="#1a1a1a" stroke-width="1.2"/>
<text x="449.20" y="258.46" font-size="9.6" fill="#1a1a1a" text-anchor="end">50</text>
<line x1="453.70" y1="347.50" x2="617.00" y2="347.50" stroke="#1a1a1a" stroke-width="1.4"/>
<line x1="466.40" y1="347.50" x2="466.40" y2="350.50" stroke="#1a1a1a" stroke-width="1.1"/>
<text transform="translate(470.10,352.10) rotate(-90) scale(0.94,1)" font-size="10" fill="#1a1a1a" text-anchor="end">No EVs</text>
<line x1="483.43" y1="347.50" x2="483.43" y2="350.50" stroke="#1a1a1a" stroke-width="1.1"/>
<text transform="translate(487.13,352.10) rotate(-90) scale(0.94,1)" font-size="10" fill="#1a1a1a" text-anchor="end">Con EVs</text>
<line x1="500.46" y1="347.50" x2="500.46" y2="350.50" stroke="#1a1a1a" stroke-width="1.1"/>
<text transform="translate(504.16,352.10) rotate(-90) scale(0.94,1)" font-size="10" fill="#1a1a1a" text-anchor="end">Scr miR Con EVs</text>
<line x1="517.49" y1="347.50" x2="517.49" y2="350.50" stroke="#1a1a1a" stroke-width="1.1"/>
<text transform="translate(521.19,352.10) rotate(-90) scale(0.94,1)" font-size="10" fill="#1a1a1a" text-anchor="end">Mimic Con EVs</text>
<line x1="534.52" y1="347.50" x2="534.52" y2="350.50" stroke="#1a1a1a" stroke-width="1.1"/>
<text transform="translate(538.22,352.10) rotate(-90) scale(0.94,1)" font-size="10" fill="#1a1a1a" text-anchor="end">aPC EVs</text>
<line x1="551.55" y1="347.50" x2="551.55" y2="350.50" stroke="#1a1a1a" stroke-width="1.1"/>
<text transform="translate(555.25,352.10) rotate(-90) scale(0.94,1)" font-size="10" fill="#1a1a1a" text-anchor="end">Scr miR aPC EVs</text>
<line x1="568.58" y1="347.50" x2="568.58" y2="350.50" stroke="#1a1a1a" stroke-width="1.1"/>
<text transform="translate(572.28,352.10) rotate(-90) scale(0.94,1)" font-size="10" fill="#1a1a1a" text-anchor="end">Anti-miR aPC EVs</text>
<line x1="585.61" y1="347.50" x2="585.61" y2="350.50" stroke="#1a1a1a" stroke-width="1.1"/>
<text transform="translate(589.31,352.10) rotate(-90) scale(0.94,1)" font-size="10" fill="#1a1a1a" text-anchor="end">aPC EVs Scr miR</text>
<line x1="602.64" y1="347.50" x2="602.64" y2="350.50" stroke="#1a1a1a" stroke-width="1.1"/>
<text transform="translate(606.34,352.10) rotate(-90) scale(0.94,1)" font-size="10" fill="#1a1a1a" text-anchor="end">aPC EVs Anti-miR</text>
<text transform="translate(424.50,318.70) rotate(-90) scale(0.935,1)" font-size="10" fill="#1a1a1a">Ct values</text>
<text transform="translate(436.20,329.10) rotate(-90) scale(0.937,1)" font-size="10" fill="#1a1a1a">(Fold Change)</text>
<circle cx="462.70" cy="278.80" r="2.4" fill="#3fa3b0"/>
<circle cx="469.80" cy="278.80" r="2.4" fill="#3fa3b0"/>
<circle cx="465.20" cy="282.40" r="2.4" fill="#3fa3b0"/>
<circle cx="470.10" cy="284.90" r="2.4" fill="#3fa3b0"/>
<circle cx="466.20" cy="289.00" r="2.4" fill="#3fa3b0"/>
<circle cx="467.80" cy="281.30" r="2.4" fill="#3fa3b0"/>
<line x1="460.30" y1="281.30" x2="471.90" y2="281.30" stroke="#1a1a1a" stroke-width="1.3"/>
<circle cx="482.10" cy="276.80" r="2.4" fill="#f07d1e"/>
<circle cx="479.50" cy="278.80" r="2.4" fill="#f07d1e"/>
<circle cx="486.70" cy="278.80" r="2.4" fill="#f07d1e"/>
<circle cx="484.60" cy="283.20" r="2.4" fill="#f07d1e"/>
<circle cx="482.40" cy="287.00" r="2.4" fill="#f07d1e"/>
<circle cx="481.00" cy="278.30" r="2.4" fill="#f07d1e"/>
<line x1="478.00" y1="279.30" x2="488.70" y2="279.30" stroke="#1a1a1a" stroke-width="1.3"/>
<circle cx="497.40" cy="275.20" r="2.4" fill="#55dd22"/>
<circle cx="504.60" cy="277.10" r="2.4" fill="#55dd22"/>
<circle cx="497.10" cy="280.80" r="2.4" fill="#55dd22"/>
<circle cx="504.60" cy="284.40" r="2.4" fill="#55dd22"/>
<circle cx="497.10" cy="286.50" r="2.4" fill="#55dd22"/>
<circle cx="500.00" cy="281.60" r="2.4" fill="#55dd22"/>
<line x1="495.40" y1="281.90" x2="506.60" y2="281.90" stroke="#1a1a1a" stroke-width="1.3"/>
<circle cx="518.00" cy="308.80" r="2.4" fill="#cc22ee"/>
<circle cx="514.50" cy="314.90" r="2.4" fill="#cc22ee"/>
<circle cx="514.60" cy="319.70" r="2.4" fill="#cc22ee"/>
<circle cx="518.10" cy="318.80" r="2.4" fill="#cc22ee"/>
<circle cx="522.10" cy="317.50" r="2.4" fill="#cc22ee"/>
<circle cx="516.40" cy="317.00" r="2.4" fill="#cc22ee"/>
<line x1="512.40" y1="317.50" x2="523.80" y2="317.50" stroke="#1a1a1a" stroke-width="1.3"/>
<path d="M535.80 306.65L538.70 311.95L532.90 311.95Z" fill="#1010f5"/>
<path d="M537.60 309.35L540.50 314.65L534.70 314.65Z" fill="#1010f5"/>
<path d="M533.30 312.85L536.20 318.15L530.40 318.15Z" fill="#1010f5"/>
<path d="M537.60 313.95L540.50 319.25L534.70 319.25Z" fill="#1010f5"/>
<path d="M535.00 315.55L537.90 320.85L532.10 320.85Z" fill="#1010f5"/>
<path d="M534.60 318.15L537.50 323.45L531.70 323.45Z" fill="#1010f5"/>
<line x1="530.00" y1="314.50" x2="540.90" y2="314.50" stroke="#1a1a1a" stroke-width="1.3"/>
<path d="M549.60 306.60L552.40 311.60L546.80 311.60Z" fill="#2e8b2e"/>
<path d="M549.60 312.00L552.40 317.00L546.80 317.00Z" fill="#2e8b2e"/>
<path d="M556.30 311.10L559.10 316.10L553.50 316.10Z" fill="#2e8b2e"/>
<path d="M552.50 316.10L555.30 321.10L549.70 321.10Z" fill="#2e8b2e"/>
<path d="M556.30 316.80L559.10 321.80L553.50 321.80Z" fill="#2e8b2e"/>
<path d="M549.50 319.50L552.30 324.50L546.70 324.50Z" fill="#2e8b2e"/>
<line x1="547.00" y1="316.50" x2="558.60" y2="316.50" stroke="#1a1a1a" stroke-width="1.3"/>
<path d="M567.00 293.50L569.80 298.50L564.20 298.50Z" fill="#a81414"/>
<path d="M571.60 292.90L574.40 297.90L568.80 297.90Z" fill="#a81414"/>
<path d="M568.00 299.50L570.80 304.50L565.20 304.50Z" fill="#a81414"/>
<path d="M572.40 298.50L575.20 303.50L569.60 303.50Z" fill="#a81414"/>
<path d="M570.00 296.50L572.80 301.50L567.20 301.50Z" fill="#a81414"/>
<path d="M573.00 295.50L575.80 300.50L570.20 300.50Z" fill="#a81414"/>
<line x1="564.40" y1="299.40" x2="575.60" y2="299.40" stroke="#1a1a1a" stroke-width="1.3"/>
<path d="M587.60 309.90L590.40 314.90L584.80 314.90Z" fill="#3cb371"/>
<path d="M585.00 316.50L587.80 321.50L582.20 321.50Z" fill="#3cb371"/>
<path d="M590.40 316.50L593.20 321.50L587.60 321.50Z" fill="#3cb371"/>
<path d="M587.60 313.50L590.40 318.50L584.80 318.50Z" fill="#3cb371"/>
<path d="M586.00 315.00L588.80 320.00L583.20 320.00Z" fill="#3cb371"/>
<path d="M589.00 315.00L591.80 320.00L586.20 320.00Z" fill="#3cb371"/>
<line x1="582.00" y1="317.40" x2="593.60" y2="317.40" stroke="#1a1a1a" stroke-width="1.3"/>
<path d="M602.00 293.10L604.80 298.10L599.20 298.10Z" fill="#f52020"/>
<path d="M607.00 293.10L609.80 298.10L604.20 298.10Z" fill="#f52020"/>
<path d="M604.50 295.00L607.30 300.00L601.70 300.00Z" fill="#f52020"/>
<path d="M605.00 304.10L607.80 309.10L602.20 309.10Z" fill="#f52020"/>
<path d="M603.00 297.50L605.80 302.50L600.20 302.50Z" fill="#f52020"/>
<path d="M607.00 297.10L609.80 302.10L604.20 302.10Z" fill="#f52020"/>
<line x1="599.00" y1="298.40" x2="611.00" y2="298.40" stroke="#1a1a1a" stroke-width="1.3"/>
<line x1="454.40" y1="347.50" x2="617.00" y2="347.50" stroke="#333" stroke-width="1.1"/>
<line x1="466.60" y1="267.30" x2="501.00" y2="267.30" stroke="#1a1a1a" stroke-width="1.2"/>
<text x="483.80" y="263.30" font-size="13.5" fill="#1a1a1a" text-anchor="middle">ns</text>
<line x1="501.00" y1="258.00" x2="518.00" y2="258.00" stroke="#1a1a1a" stroke-width="1.2"/>
<polygon points="502.00,249.95 502.62,251.55 504.33,251.64 503.00,252.72 503.44,254.38 502.00,253.45 500.56,254.38 501.00,252.72 499.67,251.64 501.38,251.55" fill="#1a1a1a"/>
<polygon points="507.00,249.95 507.62,251.55 509.33,251.64 508.00,252.72 508.44,254.38 507.00,253.45 505.56,254.38 506.00,252.72 504.67,251.64 506.38,251.55" fill="#1a1a1a"/>
<polygon points="512.00,249.95 512.62,251.55 514.33,251.64 513.00,252.72 513.44,254.38 512.00,253.45 510.56,254.38 511.00,252.72 509.67,251.64 511.38,251.55" fill="#1a1a1a"/>
<polygon points="517.00,249.95 517.62,251.55 519.33,251.64 518.00,252.72 518.44,254.38 517.00,253.45 515.56,254.38 516.00,252.72 514.67,251.64 516.38,251.55" fill="#1a1a1a"/>
<line x1="501.00" y1="243.40" x2="553.00" y2="243.40" stroke="#1a1a1a" stroke-width="1.2"/>
<polygon points="519.50,235.35 520.12,236.95 521.83,237.04 520.50,238.12 520.94,239.78 519.50,238.85 518.06,239.78 518.50,238.12 517.17,237.04 518.88,236.95" fill="#1a1a1a"/>
<polygon points="524.50,235.35 525.12,236.95 526.83,237.04 525.50,238.12 525.94,239.78 524.50,238.85 523.06,239.78 523.50,238.12 522.17,237.04 523.88,236.95" fill="#1a1a1a"/>
<polygon points="529.50,235.35 530.12,236.95 531.83,237.04 530.50,238.12 530.94,239.78 529.50,238.85 528.06,239.78 528.50,238.12 527.17,237.04 528.88,236.95" fill="#1a1a1a"/>
<polygon points="534.50,235.35 535.12,236.95 536.83,237.04 535.50,238.12 535.94,239.78 534.50,238.85 533.06,239.78 533.50,238.12 532.17,237.04 533.88,236.95" fill="#1a1a1a"/>
<line x1="553.60" y1="286.40" x2="570.40" y2="286.40" stroke="#1a1a1a" stroke-width="1.2"/>
<polygon points="554.50,278.35 555.12,279.95 556.83,280.04 555.50,281.12 555.94,282.78 554.50,281.85 553.06,282.78 553.50,281.12 552.17,280.04 553.88,279.95" fill="#1a1a1a"/>
<polygon points="559.50,278.35 560.12,279.95 561.83,280.04 560.50,281.12 560.94,282.78 559.50,281.85 558.06,282.78 558.50,281.12 557.17,280.04 558.88,279.95" fill="#1a1a1a"/>
<polygon points="564.50,278.35 565.12,279.95 566.83,280.04 565.50,281.12 565.94,282.78 564.50,281.85 563.06,282.78 563.50,281.12 562.17,280.04 563.88,279.95" fill="#1a1a1a"/>
<polygon points="569.50,278.35 570.12,279.95 571.83,280.04 570.50,281.12 570.94,282.78 569.50,281.85 568.06,282.78 568.50,281.12 567.17,280.04 568.88,279.95" fill="#1a1a1a"/>
<line x1="588.00" y1="285.40" x2="605.00" y2="285.40" stroke="#666" stroke-width="1.2"/>
<polygon points="589.00,277.35 589.62,278.95 591.33,279.04 590.00,280.12 590.44,281.78 589.00,280.85 587.56,281.78 588.00,280.12 586.67,279.04 588.38,278.95" fill="#1a1a1a"/>
<polygon points="594.00,277.35 594.62,278.95 596.33,279.04 595.00,280.12 595.44,281.78 594.00,280.85 592.56,281.78 593.00,280.12 591.67,279.04 593.38,278.95" fill="#1a1a1a"/>
<polygon points="599.00,277.35 599.62,278.95 601.33,279.04 600.00,280.12 600.44,281.78 599.00,280.85 597.56,281.78 598.00,280.12 596.67,279.04 598.38,278.95" fill="#1a1a1a"/>
<polygon points="604.00,277.35 604.62,278.95 606.33,279.04 605.00,280.12 605.44,281.78 604.00,280.85 602.56,281.78 603.00,280.12 601.67,279.04 603.38,278.95" fill="#1a1a1a"/>
<defs>
<radialGradient id="tum" cx="0.42" cy="0.36" r="0.68">
<stop offset="0" stop-color="#fbd9ba"/><stop offset="0.5" stop-color="#f5b187"/><stop offset="0.9" stop-color="#ec9463"/><stop offset="1" stop-color="#e38656"/>
</radialGradient>
<radialGradient id="tum2" cx="0.42" cy="0.36" r="0.68">
<stop offset="0" stop-color="#f8bfae"/><stop offset="0.5" stop-color="#ef9584"/><stop offset="1" stop-color="#dc6e62"/>
</radialGradient>
<radialGradient id="tumy" cx="0.42" cy="0.36" r="0.68">
<stop offset="0" stop-color="#fbe0bc"/><stop offset="0.5" stop-color="#f5c092"/><stop offset="1" stop-color="#e89e6c"/>
</radialGradient>
<linearGradient id="rulerI" x1="0" y1="0" x2="1" y2="0">
<stop offset="0" stop-color="#5a5048" stop-opacity="0"/><stop offset="0.8" stop-color="#5a5048" stop-opacity="0.04"/><stop offset="1" stop-color="#5a5048" stop-opacity="0.4"/>
</linearGradient>
<linearGradient id="tumA" x1="0" y1="0" x2="0" y2="1">
<stop offset="0" stop-color="#f7dcb8"/><stop offset="0.45" stop-color="#f3c696"/><stop offset="0.62" stop-color="#ee9460"/><stop offset="1" stop-color="#d8693e"/>
</linearGradient>
<linearGradient id="tumshade" x1="0" y1="0" x2="0" y2="1">
<stop offset="0.45" stop-color="#c0502a" stop-opacity="0"/><stop offset="1" stop-color="#c0502a" stop-opacity="0.35"/>
</linearGradient>
<linearGradient id="rulA" x1="0" y1="0" x2="0" y2="1">
<stop offset="0" stop-color="#8c8c8c"/><stop offset="1" stop-color="#a9a9a9"/>
</linearGradient>
<pattern id="stripes" width="4.4" height="10" patternUnits="userSpaceOnUse">
<rect width="4.4" height="10" fill="#9c9c9c"/><rect x="0" width="1.3" height="10" fill="#7c7c7c"/><rect x="2.4" width="0.8" height="10" fill="#b4b4b4"/>
</pattern>
<pattern id="stripesM" width="4.4" height="10" patternUnits="userSpaceOnUse">
<rect width="4.4" height="10" fill="#a9a9a9"/><rect width="1.2" height="10" fill="#8c8c8c"/><rect x="2.4" width="0.8" height="10" fill="#bdbdbd"/>
</pattern>
<pattern id="stripesL" width="4.4" height="10" patternUnits="userSpaceOnUse">
<rect width="4.4" height="10" fill="#d4d4d4"/><rect width="1.2" height="10" fill="#c0c0c0"/><rect x="2.4" width="0.8" height="10" fill="#dedede"/>
</pattern>
<pattern id="cells" width="6" height="6" patternUnits="userSpaceOnUse">
<rect width="6" height="6" fill="#cf8080"/><circle cx="1.2" cy="1.3" r="1.1" fill="#b85c5c"/><circle cx="4.2" cy="2" r="1.2" fill="#e0a2a2"/><circle cx="2.6" cy="4.4" r="1.1" fill="#e8b4b4"/><circle cx="5" cy="4.9" r="0.9" fill="#b25656"/><circle cx="3" cy="2.6" r="0.6" fill="#a84c4c"/><circle cx="0.6" cy="4" r="0.6" fill="#d99494"/>
</pattern>
</defs>
<text x="118.00" y="51.00" font-size="11.3" fill="#1a1a1a" text-anchor="middle">No Tumor</text>
<line x1="83.00" y1="58.40" x2="152.00" y2="58.40" stroke="#1a1a1a" stroke-width="1.5"/>
<text transform="translate(94.40,91.50) rotate(-90)" font-size="10.5" fill="#1a1a1a" text-anchor="middle">BEAS-2B</text>
<text transform="translate(109.60,91.40) rotate(-90)" font-size="10.9" fill="#1a1a1a" text-anchor="middle">+ No EVs</text>
<text transform="translate(135.20,91.50) rotate(-90)" font-size="10.5" fill="#1a1a1a" text-anchor="middle">BEAS-2B</text>
<text transform="translate(150.40,91.40) rotate(-90)" font-size="10.9" fill="#1a1a1a" text-anchor="middle">+ Con EVs</text>
<text transform="translate(175.50,91.50) rotate(-90)" font-size="10.5" fill="#1a1a1a" text-anchor="middle">BEAS-2B</text>
<text transform="translate(190.70,91.40) rotate(-90)" font-size="10.9" fill="#1a1a1a" text-anchor="middle">+ aPC EVs</text>
<rect x="63.5" y="123.2" width="138" height="57.8" fill="#f8f8fb"/>
<rect x="63.50" y="155.80" width="138.00" height="25.20" fill="#e6e6e3"/>
<rect x="63.50" y="155.80" width="138.00" height="6.80" fill="url(#stripes)"/>
<line x1="64.50" y1="180.80" x2="64.50" y2="177.60" stroke="#777" stroke-width="0.55"/>
<line x1="66.70" y1="180.80" x2="66.70" y2="179.20" stroke="#777" stroke-width="0.55"/>
<line x1="68.90" y1="180.80" x2="68.90" y2="179.20" stroke="#777" stroke-width="0.55"/>
<line x1="71.10" y1="180.80" x2="71.10" y2="179.20" stroke="#777" stroke-width="0.55"/>
<line x1="73.30" y1="180.80" x2="73.30" y2="179.20" stroke="#777" stroke-width="0.55"/>
<line x1="75.50" y1="180.80" x2="75.50" y2="177.60" stroke="#777" stroke-width="0.55"/>
<line x1="77.70" y1="180.80" x2="77.70" y2="179.20" stroke="#777" stroke-width="0.55"/>
<line x1="79.90" y1="180.80" x2="79.90" y2="179.20" stroke="#777" stroke-width="0.55"/>
<line x1="82.10" y1="180.80" x2="82.10" y2="179.20" stroke="#777" stroke-width="0.55"/>
<line x1="84.30" y1="180.80" x2="84.30" y2="179.20" stroke="#777" stroke-width="0.55"/>
<line x1="86.50" y1="180.80" x2="86.50" y2="177.60" stroke="#777" stroke-width="0.55"/>
<line x1="88.70" y1="180.80" x2="88.70" y2="179.20" stroke="#777" stroke-width="0.55"/>
<line x1="90.90" y1="180.80" x2="90.90" y2="179.20" stroke="#777" stroke-width="0.55"/>
<line x1="93.10" y1="180.80" x2="93.10" y2="179.20" stroke="#777" stroke-width="0.55"/>
<line x1="95.30" y1="180.80" x2="95.30" y2="179.20" stroke="#777" stroke-width="0.55"/>
<line x1="97.50" y1="180.80" x2="97.50" y2="177.60" stroke="#777" stroke-width="0.55"/>
<line x1="99.70" y1="180.80" x2="99.70" y2="179.20" stroke="#777" stroke-width="0.55"/>
<line x1="101.90" y1="180.80" x2="101.90" y2="179.20" stroke="#777" stroke-width="0.55"/>
<line x1="104.10" y1="180.80" x2="104.10" y2="179.20" stroke="#777" stroke-width="0.55"/>
<line x1="106.30" y1="180.80" x2="106.30" y2="179.20" stroke="#777" stroke-width="0.55"/>
<line x1="108.50" y1="180.80" x2="108.50" y2="177.60" stroke="#777" stroke-width="0.55"/>
<line x1="110.70" y1="180.80" x2="110.70" y2="179.20" stroke="#777" stroke-width="0.55"/>
<line x1="112.90" y1="180.80" x2="112.90" y2="179.20" stroke="#777" stroke-width="0.55"/>
<line x1="115.10" y1="180.80" x2="115.10" y2="179.20" stroke="#777" stroke-width="0.55"/>
<line x1="117.30" y1="180.80" x2="117.30" y2="179.20" stroke="#777" stroke-width="0.55"/>
<line x1="119.50" y1="180.80" x2="119.50" y2="177.60" stroke="#777" stroke-width="0.55"/>
<line x1="121.70" y1="180.80" x2="121.70" y2="179.20" stroke="#777" stroke-width="0.55"/>
<line x1="123.90" y1="180.80" x2="123.90" y2="179.20" stroke="#777" stroke-width="0.55"/>
<line x1="126.10" y1="180.80" x2="126.10" y2="179.20" stroke="#777" stroke-width="0.55"/>
<line x1="128.30" y1="180.80" x2="128.30" y2="179.20" stroke="#777" stroke-width="0.55"/>
<line x1="130.50" y1="180.80" x2="130.50" y2="177.60" stroke="#777" stroke-width="0.55"/>
<line x1="132.70" y1="180.80" x2="132.70" y2="179.20" stroke="#777" stroke-width="0.55"/>
<line x1="134.90" y1="180.80" x2="134.90" y2="179.20" stroke="#777" stroke-width="0.55"/>
<line x1="137.10" y1="180.80" x2="137.10" y2="179.20" stroke="#777" stroke-width="0.55"/>
<line x1="139.30" y1="180.80" x2="139.30" y2="179.20" stroke="#777" stroke-width="0.55"/>
<line x1="141.50" y1="180.80" x2="141.50" y2="177.60" stroke="#777" stroke-width="0.55"/>
<line x1="143.70" y1="180.80" x2="143.70" y2="179.20" stroke="#777" stroke-width="0.55"/>
<line x1="145.90" y1="180.80" x2="145.90" y2="179.20" stroke="#777" stroke-width="0.55"/>
<line x1="148.10" y1="180.80" x2="148.10" y2="179.20" stroke="#777" stroke-width="0.55"/>
<line x1="150.30" y1="180.80" x2="150.30" y2="179.20" stroke="#777" stroke-width="0.55"/>
<line x1="152.50" y1="180.80" x2="152.50" y2="177.60" stroke="#777" stroke-width="0.55"/>
<line x1="154.70" y1="180.80" x2="154.70" y2="179.20" stroke="#777" stroke-width="0.55"/>
<line x1="156.90" y1="180.80" x2="156.90" y2="179.20" stroke="#777" stroke-width="0.55"/>
<line x1="159.10" y1="180.80" x2="159.10" y2="179.20" stroke="#777" stroke-width="0.55"/>
<line x1="161.30" y1="180.80" x2="161.30" y2="179.20" stroke="#777" stroke-width="0.55"/>
<line x1="163.50" y1="180.80" x2="163.50" y2="177.60" stroke="#777" stroke-width="0.55"/>
<line x1="165.70" y1="180.80" x2="165.70" y2="179.20" stroke="#777" stroke-width="0.55"/>
<line x1="167.90" y1="180.80" x2="167.90" y2="179.20" stroke="#777" stroke-width="0.55"/>
<line x1="170.10" y1="180.80" x2="170.10" y2="179.20" stroke="#777" stroke-width="0.55"/>
<line x1="172.30" y1="180.80" x2="172.30" y2="179.20" stroke="#777" stroke-width="0.55"/>
<line x1="174.50" y1="180.80" x2="174.50" y2="177.60" stroke="#777" stroke-width="0.55"/>
<line x1="176.70" y1="180.80" x2="176.70" y2="179.20" stroke="#777" stroke-width="0.55"/>
<line x1="178.90" y1="180.80" x2="178.90" y2="179.20" stroke="#777" stroke-width="0.55"/>
<line x1="181.10" y1="180.80" x2="181.10" y2="179.20" stroke="#777" stroke-width="0.55"/>
<line x1="183.30" y1="180.80" x2="183.30" y2="179.20" stroke="#777" stroke-width="0.55"/>
<line x1="185.50" y1="180.80" x2="185.50" y2="177.60" stroke="#777" stroke-width="0.55"/>
<line x1="187.70" y1="180.80" x2="187.70" y2="179.20" stroke="#777" stroke-width="0.55"/>
<line x1="189.90" y1="180.80" x2="189.90" y2="179.20" stroke="#777" stroke-width="0.55"/>
<line x1="192.10" y1="180.80" x2="192.10" y2="179.20" stroke="#777" stroke-width="0.55"/>
<line x1="194.30" y1="180.80" x2="194.30" y2="179.20" stroke="#777" stroke-width="0.55"/>
<line x1="196.50" y1="180.80" x2="196.50" y2="177.60" stroke="#777" stroke-width="0.55"/>
<line x1="198.70" y1="180.80" x2="198.70" y2="179.20" stroke="#777" stroke-width="0.55"/>
<line x1="200.90" y1="180.80" x2="200.90" y2="179.20" stroke="#777" stroke-width="0.55"/>
<line x1="72.10" y1="162.60" x2="72.10" y2="164.60" stroke="#777" stroke-width="0.5"/>
<text x="74.30" y="168.80" font-size="6.6" fill="#2a2a2a" text-anchor="middle" font-weight="bold">1</text>
<line x1="84.35" y1="162.60" x2="84.35" y2="164.60" stroke="#777" stroke-width="0.5"/>
<text x="86.55" y="168.80" font-size="6.6" fill="#2a2a2a" text-anchor="middle" font-weight="bold">2</text>
<line x1="96.60" y1="162.60" x2="96.60" y2="164.60" stroke="#777" stroke-width="0.5"/>
<text x="98.80" y="168.80" font-size="6.6" fill="#2a2a2a" text-anchor="middle" font-weight="bold">3</text>
<line x1="108.85" y1="162.60" x2="108.85" y2="164.60" stroke="#777" stroke-width="0.5"/>
<text x="111.05" y="168.80" font-size="6.6" fill="#2a2a2a" text-anchor="middle" font-weight="bold">4</text>
<line x1="121.10" y1="162.60" x2="121.10" y2="164.60" stroke="#777" stroke-width="0.5"/>
<text x="123.30" y="168.80" font-size="6.6" fill="#2a2a2a" text-anchor="middle" font-weight="bold">5</text>
<line x1="133.35" y1="162.60" x2="133.35" y2="164.60" stroke="#777" stroke-width="0.5"/>
<text x="135.55" y="168.80" font-size="6.6" fill="#2a2a2a" text-anchor="middle" font-weight="bold">6</text>
<line x1="145.60" y1="162.60" x2="145.60" y2="164.60" stroke="#777" stroke-width="0.5"/>
<text x="147.80" y="168.80" font-size="6.6" fill="#2a2a2a" text-anchor="middle" font-weight="bold">7</text>
<line x1="157.85" y1="162.60" x2="157.85" y2="164.60" stroke="#777" stroke-width="0.5"/>
<text x="160.05" y="168.80" font-size="6.6" fill="#2a2a2a" text-anchor="middle" font-weight="bold">8</text>
<line x1="170.10" y1="162.60" x2="170.10" y2="164.60" stroke="#777" stroke-width="0.5"/>
<text x="172.30" y="168.80" font-size="6.6" fill="#2a2a2a" text-anchor="middle" font-weight="bold">9</text>
<line x1="182.35" y1="162.60" x2="182.35" y2="164.60" stroke="#777" stroke-width="0.5"/>
<text x="184.55" y="168.80" font-size="6.6" fill="#2a2a2a" text-anchor="middle" font-weight="bold">10</text>
<line x1="194.60" y1="162.60" x2="194.60" y2="164.60" stroke="#777" stroke-width="0.5"/>
<text x="196.80" y="168.80" font-size="6.6" fill="#2a2a2a" text-anchor="middle" font-weight="bold">11</text>
<text x="93.30" y="178.00" font-size="9.2" fill="#2a2a2a" text-anchor="middle" font-weight="bold">1</text>
<text x="123.70" y="178.00" font-size="9.2" fill="#2a2a2a" text-anchor="middle" font-weight="bold">2</text>
<text x="154.10" y="178.00" font-size="9.2" fill="#2a2a2a" text-anchor="middle" font-weight="bold">3</text>
<text x="184.50" y="178.00" font-size="9.2" fill="#2a2a2a" text-anchor="middle" font-weight="bold">4</text>
<ellipse cx="177.80" cy="143.92" rx="7.14" ry="6.72" fill="#9a6a60" opacity="0.22"/>
<path d="M185.88 138.46Q185.60 139.60 185.14 140.55Q184.68 141.50 184.29 142.34Q183.90 143.18 183.58 144.06Q183.26 144.94 182.77 145.77Q182.29 146.60 181.59 147.24Q180.88 147.87 180.07 148.38Q179.25 148.88 178.33 149.31Q177.40 149.74 176.36 149.90Q175.31 150.06 174.28 149.77Q173.24 149.47 172.42 148.69Q171.60 147.92 171.14 146.82Q170.68 145.73 170.47 144.63Q170.27 143.53 170.04 142.55Q169.81 141.58 169.56 140.59Q169.31 139.60 169.32 138.55Q169.33 137.49 169.68 136.52Q170.03 135.54 170.58 134.72Q171.13 133.89 171.78 133.19Q172.43 132.48 173.15 131.86Q173.88 131.24 174.70 130.73Q175.53 130.21 176.46 130.00Q177.40 129.79 178.34 129.97Q179.28 130.16 180.18 130.53Q181.07 130.89 181.99 131.30Q182.92 131.70 183.80 132.32Q184.69 132.95 185.29 133.94Q185.88 134.93 186.02 136.12Q186.15 137.32 185.88 138.46Z" fill="url(#tumA)"/>
<path d="M185.88 138.46Q185.60 139.60 185.14 140.55Q184.68 141.50 184.29 142.34Q183.90 143.18 183.58 144.06Q183.26 144.94 182.77 145.77Q182.29 146.60 181.59 147.24Q180.88 147.87 180.07 148.38Q179.25 148.88 178.33 149.31Q177.40 149.74 176.36 149.90Q175.31 150.06 174.28 149.77Q173.24 149.47 172.42 148.69Q171.60 147.92 171.14 146.82Q170.68 145.73 170.47 144.63Q170.27 143.53 170.04 142.55Q169.81 141.58 169.56 140.59Q169.31 139.60 169.32 138.55Q169.33 137.49 169.68 136.52Q170.03 135.54 170.58 134.72Q171.13 133.89 171.78 133.19Q172.43 132.48 173.15 131.86Q173.88 131.24 174.70 130.73Q175.53 130.21 176.46 130.00Q177.40 129.79 178.34 129.97Q179.28 130.16 180.18 130.53Q181.07 130.89 181.99 131.30Q182.92 131.70 183.80 132.32Q184.69 132.95 185.29 133.94Q185.88 134.93 186.02 136.12Q186.15 137.32 185.88 138.46Z" fill="url(#tumshade)"/>
<ellipse cx="178.80" cy="140.93" rx="0.90" ry="0.62" fill="#fff4e6" opacity="0.42"/>
<ellipse cx="174.98" cy="138.24" rx="1.01" ry="0.66" fill="#fff4e6" opacity="0.34"/>
<ellipse cx="176.82" cy="136.76" rx="1.21" ry="0.97" fill="#fff4e6" opacity="0.55"/>
<ellipse cx="178.51" cy="137.79" rx="0.81" ry="0.94" fill="#fff4e6" opacity="0.45"/>
<ellipse cx="178.42" cy="141.14" rx="1.39" ry="1.00" fill="#fff4e6" opacity="0.33"/>
<ellipse cx="177.39" cy="138.19" rx="1.48" ry="0.63" fill="#fff4e6" opacity="0.50"/>
<ellipse cx="174.49" cy="137.51" rx="1.07" ry="1.00" fill="#fff4e6" opacity="0.46"/>
<ellipse cx="177.21" cy="138.66" rx="1.03" ry="1.05" fill="#fff4e6" opacity="0.30"/>
<rect x="63.5" y="123.2" width="138" height="57.8" fill="none" stroke="#222" stroke-width="1.3"/>
<text x="583.70" y="12.40" font-size="11.1" fill="#1a1a1a" text-anchor="middle">BEAS-2B Cells</text>
<line x1="513.00" y1="20.00" x2="655.00" y2="20.00" stroke="#1a1a1a" stroke-width="1.6"/>
<text x="627.40" y="36.00" font-size="11" fill="#1a1a1a" text-anchor="middle">No</text>
<text x="628.70" y="50.40" font-size="11" fill="#1a1a1a" text-anchor="middle">Tumor</text>
<line x1="617.60" y1="55.00" x2="637.40" y2="55.00" stroke="#1a1a1a" stroke-width="1.6"/>
<text transform="translate(524.00,156.60) rotate(-90)" font-size="10.84" fill="#1a1a1a">aPC EVs</text>
<text transform="translate(547.00,156.60) rotate(-90)" font-size="11.03" fill="#1a1a1a">Scr miR aPC EVs</text>
<text transform="translate(570.80,156.60) rotate(-90)" font-size="11.31" fill="#1a1a1a">Anti-miR aPC EVs</text>
<text transform="translate(592.20,156.60) rotate(-90)" font-size="10.93" fill="#1a1a1a">aPC EVs Scr miR</text>
<text transform="translate(614.10,156.60) rotate(-90)" font-size="11.33" fill="#1a1a1a">aPC EVs Anti-miR</text>
<text transform="translate(633.10,156.60) rotate(-90)" font-size="11.06" fill="#1a1a1a">Scr miR Con EVs</text>
<text transform="translate(651.80,156.60) rotate(-90)" font-size="11.27" fill="#1a1a1a">Mimic Con EVs</text>
<rect x="505.6" y="162.8" width="155.6" height="56.4" fill="#f0f0f4"/>
<rect x="511.00" y="197.20" width="150.00" height="21.80" fill="#d6d6d4"/>
<rect x="511.00" y="197.20" width="150.00" height="5.60" fill="url(#stripesM)"/>
<line x1="512.00" y1="218.80" x2="512.00" y2="215.60" stroke="#777" stroke-width="0.55"/>
<line x1="514.20" y1="218.80" x2="514.20" y2="217.20" stroke="#777" stroke-width="0.55"/>
<line x1="516.40" y1="218.80" x2="516.40" y2="217.20" stroke="#777" stroke-width="0.55"/>
<line x1="518.60" y1="218.80" x2="518.60" y2="217.20" stroke="#777" stroke-width="0.55"/>
<line x1="520.80" y1="218.80" x2="520.80" y2="217.20" stroke="#777" stroke-width="0.55"/>
<line x1="523.00" y1="218.80" x2="523.00" y2="215.60" stroke="#777" stroke-width="0.55"/>
<line x1="525.20" y1="218.80" x2="525.20" y2="217.20" stroke="#777" stroke-width="0.55"/>
<line x1="527.40" y1="218.80" x2="527.40" y2="217.20" stroke="#777" stroke-width="0.55"/>
<line x1="529.60" y1="218.80" x2="529.60" y2="217.20" stroke="#777" stroke-width="0.55"/>
<line x1="531.80" y1="218.80" x2="531.80" y2="217.20" stroke="#777" stroke-width="0.55"/>
<line x1="534.00" y1="218.80" x2="534.00" y2="215.60" stroke="#777" stroke-width="0.55"/>
<line x1="536.20" y1="218.80" x2="536.20" y2="217.20" stroke="#777" stroke-width="0.55"/>
<line x1="538.40" y1="218.80" x2="538.40" y2="217.20" stroke="#777" stroke-width="0.55"/>
<line x1="540.60" y1="218.80" x2="540.60" y2="217.20" stroke="#777" stroke-width="0.55"/>
<line x1="542.80" y1="218.80" x2="542.80" y2="217.20" stroke="#777" stroke-width="0.55"/>
<line x1="545.00" y1="218.80" x2="545.00" y2="215.60" stroke="#777" stroke-width="0.55"/>
<line x1="547.20" y1="218.80" x2="547.20" y2="217.20" stroke="#777" stroke-width="0.55"/>
<line x1="549.40" y1="218.80" x2="549.40" y2="217.20" stroke="#777" stroke-width="0.55"/>
<line x1="551.60" y1="218.80" x2="551.60" y2="217.20" stroke="#777" stroke-width="0.55"/>
<line x1="553.80" y1="218.80" x2="553.80" y2="217.20" stroke="#777" stroke-width="0.55"/>
<line x1="556.00" y1="218.80" x2="556.00" y2="215.60" stroke="#777" stroke-width="0.55"/>
<line x1="558.20" y1="218.80" x2="558.20" y2="217.20" stroke="#777" stroke-width="0.55"/>
<line x1="560.40" y1="218.80" x2="560.40" y2="217.20" stroke="#777" stroke-width="0.55"/>
<line x1="562.60" y1="218.80" x2="562.60" y2="217.20" stroke="#777" stroke-width="0.55"/>
<line x1="564.80" y1="218.80" x2="564.80" y2="217.20" stroke="#777" stroke-width="0.55"/>
<line x1="567.00" y1="218.80" x2="567.00" y2="215.60" stroke="#777" stroke-width="0.55"/>
<line x1="569.20" y1="218.80" x2="569.20" y2="217.20" stroke="#777" stroke-width="0.55"/>
<line x1="571.40" y1="218.80" x2="571.40" y2="217.20" stroke="#777" stroke-width="0.55"/>
<line x1="573.60" y1="218.80" x2="573.60" y2="217.20" stroke="#777" stroke-width="0.55"/>
<line x1="575.80" y1="218.80" x2="575.80" y2="217.20" stroke="#777" stroke-width="0.55"/>
<line x1="578.00" y1="218.80" x2="578.00" y2="215.60" stroke="#777" stroke-width="0.55"/>
<line x1="580.20" y1="218.80" x2="580.20" y2="217.20" stroke="#777" stroke-width="0.55"/>
<line x1="582.40" y1="218.80" x2="582.40" y2="217.20" stroke="#777" stroke-width="0.55"/>
<line x1="584.60" y1="218.80" x2="584.60" y2="217.20" stroke="#777" stroke-width="0.55"/>
<line x1="586.80" y1="218.80" x2="586.80" y2="217.20" stroke="#777" stroke-width="0.55"/>
<line x1="589.00" y1="218.80" x2="589.00" y2="215.60" stroke="#777" stroke-width="0.55"/>
<line x1="591.20" y1="218.80" x2="591.20" y2="217.20" stroke="#777" stroke-width="0.55"/>
<line x1="593.40" y1="218.80" x2="593.40" y2="217.20" stroke="#777" stroke-width="0.55"/>
<line x1="595.60" y1="218.80" x2="595.60" y2="217.20" stroke="#777" stroke-width="0.55"/>
<line x1="597.80" y1="218.80" x2="597.80" y2="217.20" stroke="#777" stroke-width="0.55"/>
<line x1="600.00" y1="218.80" x2="600.00" y2="215.60" stroke="#777" stroke-width="0.55"/>
<line x1="602.20" y1="218.80" x2="602.20" y2="217.20" stroke="#777" stroke-width="0.55"/>
<line x1="604.40" y1="218.80" x2="604.40" y2="217.20" stroke="#777" stroke-width="0.55"/>
<line x1="606.60" y1="218.80" x2="606.60" y2="217.20" stroke="#777" stroke-width="0.55"/>
<line x1="608.80" y1="218.80" x2="608.80" y2="217.20" stroke="#777" stroke-width="0.55"/>
<line x1="611.00" y1="218.80" x2="611.00" y2="215.60" stroke="#777" stroke-width="0.55"/>
<line x1="613.20" y1="218.80" x2="613.20" y2="217.20" stroke="#777" stroke-width="0.55"/>
<line x1="615.40" y1="218.80" x2="615.40" y2="217.20" stroke="#777" stroke-width="0.55"/>
<line x1="617.60" y1="218.80" x2="617.60" y2="217.20" stroke="#777" stroke-width="0.55"/>
<line x1="619.80" y1="218.80" x2="619.80" y2="217.20" stroke="#777" stroke-width="0.55"/>
<line x1="622.00" y1="218.80" x2="622.00" y2="215.60" stroke="#777" stroke-width="0.55"/>
<line x1="624.20" y1="218.80" x2="624.20" y2="217.20" stroke="#777" stroke-width="0.55"/>
<line x1="626.40" y1="218.80" x2="626.40" y2="217.20" stroke="#777" stroke-width="0.55"/>
<line x1="628.60" y1="218.80" x2="628.60" y2="217.20" stroke="#777" stroke-width="0.55"/>
<line x1="630.80" y1="218.80" x2="630.80" y2="217.20" stroke="#777" stroke-width="0.55"/>
<line x1="633.00" y1="218.80" x2="633.00" y2="215.60" stroke="#777" stroke-width="0.55"/>
<line x1="635.20" y1="218.80" x2="635.20" y2="217.20" stroke="#777" stroke-width="0.55"/>
<line x1="637.40" y1="218.80" x2="637.40" y2="217.20" stroke="#777" stroke-width="0.55"/>
<line x1="639.60" y1="218.80" x2="639.60" y2="217.20" stroke="#777" stroke-width="0.55"/>
<line x1="641.80" y1="218.80" x2="641.80" y2="217.20" stroke="#777" stroke-width="0.55"/>
<line x1="644.00" y1="218.80" x2="644.00" y2="215.60" stroke="#777" stroke-width="0.55"/>
<line x1="646.20" y1="218.80" x2="646.20" y2="217.20" stroke="#777" stroke-width="0.55"/>
<line x1="648.40" y1="218.80" x2="648.40" y2="217.20" stroke="#777" stroke-width="0.55"/>
<line x1="650.60" y1="218.80" x2="650.60" y2="217.20" stroke="#777" stroke-width="0.55"/>
<line x1="652.80" y1="218.80" x2="652.80" y2="217.20" stroke="#777" stroke-width="0.55"/>
<line x1="655.00" y1="218.80" x2="655.00" y2="215.60" stroke="#777" stroke-width="0.55"/>
<line x1="657.20" y1="218.80" x2="657.20" y2="217.20" stroke="#777" stroke-width="0.55"/>
<line x1="659.40" y1="218.80" x2="659.40" y2="217.20" stroke="#777" stroke-width="0.55"/>
<line x1="519.30" y1="202.80" x2="519.30" y2="204.80" stroke="#777" stroke-width="0.5"/>
<text x="521.50" y="208.00" font-size="6" fill="#2a2a2a" text-anchor="middle" font-weight="bold">1</text>
<line x1="530.05" y1="202.80" x2="530.05" y2="204.80" stroke="#777" stroke-width="0.5"/>
<text x="532.25" y="208.00" font-size="6" fill="#2a2a2a" text-anchor="middle" font-weight="bold">2</text>
<line x1="540.80" y1="202.80" x2="540.80" y2="204.80" stroke="#777" stroke-width="0.5"/>
<text x="543.00" y="208.00" font-size="6" fill="#2a2a2a" text-anchor="middle" font-weight="bold">3</text>
<line x1="551.55" y1="202.80" x2="551.55" y2="204.80" stroke="#777" stroke-width="0.5"/>
<text x="553.75" y="208.00" font-size="6" fill="#2a2a2a" text-anchor="middle" font-weight="bold">4</text>
<line x1="562.30" y1="202.80" x2="562.30" y2="204.80" stroke="#777" stroke-width="0.5"/>
<text x="564.50" y="208.00" font-size="6" fill="#2a2a2a" text-anchor="middle" font-weight="bold">5</text>
<line x1="573.05" y1="202.80" x2="573.05" y2="204.80" stroke="#777" stroke-width="0.5"/>
<text x="575.25" y="208.00" font-size="6" fill="#2a2a2a" text-anchor="middle" font-weight="bold">6</text>
<line x1="583.80" y1="202.80" x2="583.80" y2="204.80" stroke="#777" stroke-width="0.5"/>
<text x="586.00" y="208.00" font-size="6" fill="#2a2a2a" text-anchor="middle" font-weight="bold">7</text>
<line x1="594.55" y1="202.80" x2="594.55" y2="204.80" stroke="#777" stroke-width="0.5"/>
<text x="596.75" y="208.00" font-size="6" fill="#2a2a2a" text-anchor="middle" font-weight="bold">8</text>
<line x1="605.30" y1="202.80" x2="605.30" y2="204.80" stroke="#777" stroke-width="0.5"/>
<text x="607.50" y="208.00" font-size="6" fill="#2a2a2a" text-anchor="middle" font-weight="bold">9</text>
<line x1="616.05" y1="202.80" x2="616.05" y2="204.80" stroke="#777" stroke-width="0.5"/>
<text x="618.25" y="208.00" font-size="6" fill="#2a2a2a" text-anchor="middle" font-weight="bold">10</text>
<line x1="626.80" y1="202.80" x2="626.80" y2="204.80" stroke="#777" stroke-width="0.5"/>
<text x="629.00" y="208.00" font-size="6" fill="#2a2a2a" text-anchor="middle" font-weight="bold">11</text>
<line x1="637.55" y1="202.80" x2="637.55" y2="204.80" stroke="#777" stroke-width="0.5"/>
<text x="639.75" y="208.00" font-size="6" fill="#2a2a2a" text-anchor="middle" font-weight="bold">12</text>
<line x1="648.30" y1="202.80" x2="648.30" y2="204.80" stroke="#777" stroke-width="0.5"/>
<text x="650.50" y="208.00" font-size="6" fill="#2a2a2a" text-anchor="middle" font-weight="bold">13</text>
<text x="538.30" y="216.40" font-size="8.6" fill="#2a2a2a" text-anchor="middle" font-weight="bold">1</text>
<text x="565.30" y="216.40" font-size="8.6" fill="#2a2a2a" text-anchor="middle" font-weight="bold">2</text>
<text x="592.30" y="216.40" font-size="8.6" fill="#2a2a2a" text-anchor="middle" font-weight="bold">3</text>
<text x="619.30" y="216.40" font-size="8.6" fill="#2a2a2a" text-anchor="middle" font-weight="bold">4</text>
<text x="646.30" y="216.40" font-size="8.6" fill="#2a2a2a" text-anchor="middle" font-weight="bold">5</text>
<ellipse cx="521.70" cy="184.48" rx="6.80" ry="5.88" fill="#9a6a60" opacity="0.22"/>
<path d="M528.71 179.82Q528.78 180.70 528.77 181.59Q528.76 182.49 528.53 183.36Q528.29 184.24 527.81 184.99Q527.32 185.74 526.67 186.33Q526.02 186.92 525.32 187.43Q524.62 187.94 523.85 188.41Q523.08 188.88 522.19 189.12Q521.30 189.36 520.39 189.22Q519.48 189.07 518.66 188.66Q517.83 188.26 517.05 187.79Q516.27 187.32 515.49 186.77Q514.71 186.22 514.04 185.46Q513.37 184.71 513.01 183.74Q512.65 182.77 512.78 181.74Q512.90 180.70 513.38 179.81Q513.86 178.92 514.37 178.19Q514.88 177.46 515.32 176.76Q515.75 176.06 516.26 175.39Q516.76 174.73 517.42 174.20Q518.08 173.67 518.84 173.28Q519.60 172.90 520.45 172.61Q521.30 172.33 522.25 172.17Q523.19 172.00 524.21 172.07Q525.22 172.14 526.14 172.64Q527.05 173.13 527.60 174.04Q528.16 174.96 528.34 176.01Q528.51 177.05 528.57 178.00Q528.63 178.94 528.71 179.82Z" fill="url(#tum)"/>
<path d="M528.71 179.82Q528.78 180.70 528.77 181.59Q528.76 182.49 528.53 183.36Q528.29 184.24 527.81 184.99Q527.32 185.74 526.67 186.33Q526.02 186.92 525.32 187.43Q524.62 187.94 523.85 188.41Q523.08 188.88 522.19 189.12Q521.30 189.36 520.39 189.22Q519.48 189.07 518.66 188.66Q517.83 188.26 517.05 187.79Q516.27 187.32 515.49 186.77Q514.71 186.22 514.04 185.46Q513.37 184.71 513.01 183.74Q512.65 182.77 512.78 181.74Q512.90 180.70 513.38 179.81Q513.86 178.92 514.37 178.19Q514.88 177.46 515.32 176.76Q515.75 176.06 516.26 175.39Q516.76 174.73 517.42 174.20Q518.08 173.67 518.84 173.28Q519.60 172.90 520.45 172.61Q521.30 172.33 522.25 172.17Q523.19 172.00 524.21 172.07Q525.22 172.14 526.14 172.64Q527.05 173.13 527.60 174.04Q528.16 174.96 528.34 176.01Q528.51 177.05 528.57 178.00Q528.63 178.94 528.71 179.82Z" fill="url(#tumshade)"/>
<ellipse cx="521.84" cy="179.47" rx="0.95" ry="0.91" fill="#fff4e6" opacity="0.30"/>
<ellipse cx="522.15" cy="180.05" rx="1.28" ry="0.59" fill="#fff4e6" opacity="0.51"/>
<ellipse cx="520.96" cy="178.97" rx="1.08" ry="0.77" fill="#fff4e6" opacity="0.39"/>
<ellipse cx="521.75" cy="179.43" rx="0.62" ry="1.06" fill="#fff4e6" opacity="0.39"/>
<ellipse cx="521.80" cy="180.70" rx="0.93" ry="1.07" fill="#fff4e6" opacity="0.32"/>
<ellipse cx="521.88" cy="181.75" rx="1.09" ry="1.07" fill="#fff4e6" opacity="0.54"/>
<ellipse cx="544.00" cy="184.21" rx="7.65" ry="5.46" fill="#9a6a60" opacity="0.22"/>
<path d="M551.69 179.93Q551.96 180.70 552.06 181.55Q552.15 182.39 551.77 183.17Q551.40 183.96 550.95 184.71Q550.50 185.47 550.00 186.30Q549.51 187.12 548.66 187.69Q547.80 188.27 546.75 188.45Q545.69 188.64 544.65 188.69Q543.60 188.74 542.59 188.56Q541.58 188.37 540.71 187.91Q539.85 187.45 538.99 187.04Q538.14 186.63 537.20 186.20Q536.27 185.77 535.70 185.00Q535.13 184.24 535.03 183.33Q534.92 182.42 534.88 181.56Q534.84 180.70 534.95 179.86Q535.06 179.01 535.52 178.26Q535.98 177.52 536.48 176.83Q536.99 176.13 537.54 175.43Q538.10 174.72 538.92 174.25Q539.75 173.77 540.69 173.48Q541.62 173.18 542.61 172.79Q543.60 172.39 544.73 172.24Q545.87 172.09 546.88 172.53Q547.89 172.98 548.65 173.68Q549.41 174.39 550.01 175.12Q550.60 175.86 550.89 176.70Q551.17 177.54 551.29 178.35Q551.41 179.15 551.69 179.93Z" fill="url(#tumy)"/>
<path d="M551.69 179.93Q551.96 180.70 552.06 181.55Q552.15 182.39 551.77 183.17Q551.40 183.96 550.95 184.71Q550.50 185.47 550.00 186.30Q549.51 187.12 548.66 187.69Q547.80 188.27 546.75 188.45Q545.69 188.64 544.65 188.69Q543.60 188.74 542.59 188.56Q541.58 188.37 540.71 187.91Q539.85 187.45 538.99 187.04Q538.14 186.63 537.20 186.20Q536.27 185.77 535.70 185.00Q535.13 184.24 535.03 183.33Q534.92 182.42 534.88 181.56Q534.84 180.70 534.95 179.86Q535.06 179.01 535.52 178.26Q535.98 177.52 536.48 176.83Q536.99 176.13 537.54 175.43Q538.10 174.72 538.92 174.25Q539.75 173.77 540.69 173.48Q541.62 173.18 542.61 172.79Q543.60 172.39 544.73 172.24Q545.87 172.09 546.88 172.53Q547.89 172.98 548.65 173.68Q549.41 174.39 550.01 175.12Q550.60 175.86 550.89 176.70Q551.17 177.54 551.29 178.35Q551.41 179.15 551.69 179.93Z" fill="url(#tumshade)"/>
<ellipse cx="541.14" cy="180.63" rx="1.38" ry="0.61" fill="#fff4e6" opacity="0.33"/>
<ellipse cx="544.22" cy="179.61" rx="0.61" ry="0.59" fill="#fff4e6" opacity="0.43"/>
<ellipse cx="547.34" cy="179.36" rx="0.94" ry="0.74" fill="#fff4e6" opacity="0.49"/>
<ellipse cx="543.42" cy="179.77" rx="1.36" ry="0.87" fill="#fff4e6" opacity="0.29"/>
<ellipse cx="544.06" cy="179.68" rx="1.46" ry="0.56" fill="#fff4e6" opacity="0.47"/>
<ellipse cx="543.79" cy="179.51" rx="0.95" ry="0.79" fill="#fff4e6" opacity="0.57"/>
<ellipse cx="544.13" cy="180.43" rx="0.82" ry="0.53" fill="#fff4e6" opacity="0.49"/>
<ellipse cx="568.00" cy="184.62" rx="4.76" ry="3.92" fill="#9a6a60" opacity="0.22"/>
<path d="M573.25 181.46Q573.32 182.10 573.30 182.75Q573.28 183.40 573.13 184.04Q572.98 184.69 572.57 185.22Q572.17 185.74 571.69 186.18Q571.20 186.62 570.67 187.00Q570.15 187.38 569.50 187.48Q568.85 187.58 568.22 187.44Q567.60 187.31 567.01 187.28Q566.43 187.25 565.80 187.19Q565.17 187.14 564.64 186.81Q564.10 186.49 563.69 186.02Q563.28 185.55 562.93 185.03Q562.58 184.52 562.44 183.91Q562.30 183.31 562.30 182.70Q562.31 182.10 562.23 181.48Q562.15 180.86 562.21 180.19Q562.26 179.53 562.66 179.00Q563.05 178.47 563.55 178.06Q564.05 177.65 564.55 177.22Q565.05 176.80 565.66 176.56Q566.28 176.32 566.94 176.35Q567.60 176.38 568.22 176.51Q568.85 176.63 569.40 176.92Q569.95 177.21 570.34 177.70Q570.72 178.19 571.09 178.60Q571.46 179.02 571.97 179.39Q572.47 179.75 572.83 180.29Q573.18 180.83 573.25 181.46Z" fill="url(#tumy)"/>
<path d="M573.25 181.46Q573.32 182.10 573.30 182.75Q573.28 183.40 573.13 184.04Q572.98 184.69 572.57 185.22Q572.17 185.74 571.69 186.18Q571.20 186.62 570.67 187.00Q570.15 187.38 569.50 187.48Q568.85 187.58 568.22 187.44Q567.60 187.31 567.01 187.28Q566.43 187.25 565.80 187.19Q565.17 187.14 564.64 186.81Q564.10 186.49 563.69 186.02Q563.28 185.55 562.93 185.03Q562.58 184.52 562.44 183.91Q562.30 183.31 562.30 182.70Q562.31 182.10 562.23 181.48Q562.15 180.86 562.21 180.19Q562.26 179.53 562.66 179.00Q563.05 178.47 563.55 178.06Q564.05 177.65 564.55 177.22Q565.05 176.80 565.66 176.56Q566.28 176.32 566.94 176.35Q567.60 176.38 568.22 176.51Q568.85 176.63 569.40 176.92Q569.95 177.21 570.34 177.70Q570.72 178.19 571.09 178.60Q571.46 179.02 571.97 179.39Q572.47 179.75 572.83 180.29Q573.18 180.83 573.25 181.46Z" fill="url(#tumshade)"/>
<ellipse cx="569.51" cy="181.68" rx="0.62" ry="0.81" fill="#fff4e6" opacity="0.59"/>
<ellipse cx="566.78" cy="183.80" rx="1.17" ry="1.03" fill="#fff4e6" opacity="0.26"/>
<ellipse cx="567.44" cy="179.88" rx="1.14" ry="0.73" fill="#fff4e6" opacity="0.59"/>
<ellipse cx="590.40" cy="185.88" rx="6.54" ry="5.88" fill="#9a6a60" opacity="0.22"/>
<path d="M597.29 181.17Q597.14 182.10 596.96 182.94Q596.77 183.79 596.53 184.60Q596.30 185.41 595.95 186.19Q595.61 186.98 595.09 187.67Q594.57 188.35 593.90 188.88Q593.23 189.41 592.48 189.89Q591.73 190.37 590.87 190.82Q590.00 191.26 589.02 191.37Q588.04 191.48 587.14 191.05Q586.24 190.62 585.59 189.83Q584.93 189.03 584.52 188.13Q584.10 187.24 583.80 186.37Q583.51 185.51 583.24 184.68Q582.97 183.85 582.78 182.98Q582.60 182.10 582.69 181.20Q582.79 180.30 583.14 179.49Q583.49 178.68 583.90 177.92Q584.32 177.16 584.78 176.38Q585.25 175.60 585.90 174.95Q586.56 174.30 587.39 173.93Q588.22 173.57 589.11 173.52Q590.00 173.46 590.86 173.66Q591.73 173.85 592.56 174.14Q593.38 174.43 594.24 174.79Q595.09 175.14 595.85 175.75Q596.61 176.35 597.01 177.28Q597.41 178.21 597.43 179.23Q597.44 180.25 597.29 181.17Z" fill="url(#tum2)"/>
<path d="M597.29 181.17Q597.14 182.10 596.96 182.94Q596.77 183.79 596.53 184.60Q596.30 185.41 595.95 186.19Q595.61 186.98 595.09 187.67Q594.57 188.35 593.90 188.88Q593.23 189.41 592.48 189.89Q591.73 190.37 590.87 190.82Q590.00 191.26 589.02 191.37Q588.04 191.48 587.14 191.05Q586.24 190.62 585.59 189.83Q584.93 189.03 584.52 188.13Q584.10 187.24 583.80 186.37Q583.51 185.51 583.24 184.68Q582.97 183.85 582.78 182.98Q582.60 182.10 582.69 181.20Q582.79 180.30 583.14 179.49Q583.49 178.68 583.90 177.92Q584.32 177.16 584.78 176.38Q585.25 175.60 585.90 174.95Q586.56 174.30 587.39 173.93Q588.22 173.57 589.11 173.52Q590.00 173.46 590.86 173.66Q591.73 173.85 592.56 174.14Q593.38 174.43 594.24 174.79Q595.09 175.14 595.85 175.75Q596.61 176.35 597.01 177.28Q597.41 178.21 597.43 179.23Q597.44 180.25 597.29 181.17Z" fill="url(#tumshade)"/>
<ellipse cx="591.15" cy="180.20" rx="1.01" ry="0.58" fill="#fff4e6" opacity="0.60"/>
<ellipse cx="591.76" cy="183.08" rx="1.14" ry="0.93" fill="#fff4e6" opacity="0.39"/>
<ellipse cx="588.65" cy="181.94" rx="0.67" ry="0.69" fill="#fff4e6" opacity="0.35"/>
<ellipse cx="590.40" cy="179.08" rx="0.69" ry="0.52" fill="#fff4e6" opacity="0.37"/>
<ellipse cx="590.12" cy="180.83" rx="1.01" ry="0.96" fill="#fff4e6" opacity="0.29"/>
<ellipse cx="591.35" cy="177.48" rx="1.34" ry="0.58" fill="#fff4e6" opacity="0.58"/>
<ellipse cx="611.70" cy="184.43" rx="3.91" ry="3.78" fill="#9a6a60" opacity="0.22"/>
<path d="M616.09 181.37Q616.18 182.00 616.08 182.63Q615.98 183.25 615.72 183.80Q615.45 184.35 615.10 184.79Q614.75 185.23 614.38 185.61Q614.01 185.98 613.62 186.34Q613.23 186.70 612.78 186.99Q612.33 187.29 611.81 187.38Q611.30 187.47 610.80 187.33Q610.29 187.18 609.84 186.93Q609.38 186.67 608.95 186.38Q608.52 186.09 608.12 185.72Q607.71 185.36 607.38 184.88Q607.05 184.40 606.85 183.82Q606.65 183.25 606.60 182.62Q606.56 182.00 606.63 181.38Q606.71 180.77 606.85 180.17Q606.99 179.57 607.25 179.01Q607.51 178.45 607.93 178.06Q608.36 177.67 608.87 177.49Q609.37 177.31 609.87 177.24Q610.36 177.18 610.83 177.14Q611.30 177.11 611.78 177.09Q612.26 177.06 612.77 177.12Q613.28 177.17 613.77 177.41Q614.26 177.65 614.64 178.08Q615.02 178.52 615.30 179.05Q615.57 179.58 615.79 180.16Q616.00 180.74 616.09 181.37Z" fill="url(#tum)"/>
<path d="M616.09 181.37Q616.18 182.00 616.08 182.63Q615.98 183.25 615.72 183.80Q615.45 184.35 615.10 184.79Q614.75 185.23 614.38 185.61Q614.01 185.98 613.62 186.34Q613.23 186.70 612.78 186.99Q612.33 187.29 611.81 187.38Q611.30 187.47 610.80 187.33Q610.29 187.18 609.84 186.93Q609.38 186.67 608.95 186.38Q608.52 186.09 608.12 185.72Q607.71 185.36 607.38 184.88Q607.05 184.40 606.85 183.82Q606.65 183.25 606.60 182.62Q606.56 182.00 606.63 181.38Q606.71 180.77 606.85 180.17Q606.99 179.57 607.25 179.01Q607.51 178.45 607.93 178.06Q608.36 177.67 608.87 177.49Q609.37 177.31 609.87 177.24Q610.36 177.18 610.83 177.14Q611.30 177.11 611.78 177.09Q612.26 177.06 612.77 177.12Q613.28 177.17 613.77 177.41Q614.26 177.65 614.64 178.08Q615.02 178.52 615.30 179.05Q615.57 179.58 615.79 180.16Q616.00 180.74 616.09 181.37Z" fill="url(#tumshade)"/>
<ellipse cx="608.94" cy="181.24" rx="0.68" ry="0.73" fill="#fff4e6" opacity="0.27"/>
<ellipse cx="610.99" cy="180.79" rx="0.88" ry="0.99" fill="#fff4e6" opacity="0.27"/>
<ellipse cx="648.10" cy="185.28" rx="7.14" ry="5.88" fill="#9a6a60" opacity="0.22"/>
<path d="M655.54 180.63Q655.77 181.50 655.96 182.47Q656.16 183.43 656.19 184.52Q656.21 185.60 655.76 186.58Q655.30 187.56 654.39 188.16Q653.48 188.75 652.45 188.99Q651.42 189.23 650.47 189.34Q649.52 189.46 648.61 189.54Q647.70 189.62 646.78 189.58Q645.86 189.54 644.99 189.24Q644.11 188.95 643.42 188.34Q642.73 187.74 642.22 187.01Q641.71 186.28 641.20 185.58Q640.69 184.88 640.17 184.11Q639.66 183.34 639.41 182.42Q639.16 181.50 639.29 180.56Q639.43 179.61 639.79 178.74Q640.14 177.86 640.60 177.03Q641.05 176.20 641.59 175.36Q642.13 174.52 642.87 173.76Q643.60 172.99 644.59 172.60Q645.58 172.21 646.64 172.41Q647.70 172.60 648.59 173.14Q649.49 173.67 650.23 174.18Q650.98 174.69 651.68 175.16Q652.39 175.62 653.03 176.18Q653.66 176.75 654.16 177.45Q654.65 178.15 654.98 178.96Q655.32 179.76 655.54 180.63Z" fill="url(#tumy)"/>
<path d="M655.54 180.63Q655.77 181.50 655.96 182.47Q656.16 183.43 656.19 184.52Q656.21 185.60 655.76 186.58Q655.30 187.56 654.39 188.16Q653.48 188.75 652.45 188.99Q651.42 189.23 650.47 189.34Q649.52 189.46 648.61 189.54Q647.70 189.62 646.78 189.58Q645.86 189.54 644.99 189.24Q644.11 188.95 643.42 188.34Q642.73 187.74 642.22 187.01Q641.71 186.28 641.20 185.58Q640.69 184.88 640.17 184.11Q639.66 183.34 639.41 182.42Q639.16 181.50 639.29 180.56Q639.43 179.61 639.79 178.74Q640.14 177.86 640.60 177.03Q641.05 176.20 641.59 175.36Q642.13 174.52 642.87 173.76Q643.60 172.99 644.59 172.60Q645.58 172.21 646.64 172.41Q647.70 172.60 648.59 173.14Q649.49 173.67 650.23 174.18Q650.98 174.69 651.68 175.16Q652.39 175.62 653.03 176.18Q653.66 176.75 654.16 177.45Q654.65 178.15 654.98 178.96Q655.32 179.76 655.54 180.63Z" fill="url(#tumshade)"/>
<ellipse cx="644.56" cy="182.90" rx="0.96" ry="0.62" fill="#fff4e6" opacity="0.54"/>
<ellipse cx="647.89" cy="177.43" rx="0.62" ry="0.74" fill="#fff4e6" opacity="0.36"/>
<ellipse cx="647.65" cy="181.61" rx="0.85" ry="0.80" fill="#fff4e6" opacity="0.25"/>
<ellipse cx="643.32" cy="178.41" rx="1.04" ry="0.69" fill="#fff4e6" opacity="0.49"/>
<ellipse cx="645.09" cy="183.25" rx="1.39" ry="0.98" fill="#fff4e6" opacity="0.43"/>
<ellipse cx="648.00" cy="180.28" rx="0.99" ry="1.00" fill="#fff4e6" opacity="0.38"/>
<ellipse cx="650.65" cy="179.95" rx="0.70" ry="0.83" fill="#fff4e6" opacity="0.59"/>
<rect x="505.6" y="162.8" width="155.6" height="56.4" fill="none" stroke="#222" stroke-width="1.3"/>
<text x="106.00" y="581.00" font-size="11.4" fill="#1a1a1a" text-anchor="middle">A549 Cells</text>
<line x1="8.00" y1="588.40" x2="199.00" y2="588.40" stroke="#1a1a1a" stroke-width="1.6"/>
<text transform="translate(25.00,686.60) rotate(-90)" font-size="10.62" fill="#1a1a1a">No EVs</text>
<text transform="translate(48.00,686.60) rotate(-90)" font-size="10.9" fill="#1a1a1a">Con EVs</text>
<text transform="translate(69.00,686.60) rotate(-90)" font-size="11.13" fill="#1a1a1a">Scr miR Con EVs</text>
<text transform="translate(92.40,686.60) rotate(-90)" font-size="11.29" fill="#1a1a1a">Anti-miR Con EVs</text>
<text transform="translate(116.40,686.60) rotate(-90)" font-size="11.41" fill="#1a1a1a">Mimic Con EVs</text>
<text transform="translate(138.40,686.60) rotate(-90)" font-size="10.5" fill="#1a1a1a">aPC EVs</text>
<text transform="translate(166.40,686.60) rotate(-90)" font-size="10.98" fill="#1a1a1a">Scr miR aPC EVs</text>
<text transform="translate(191.00,686.60) rotate(-90)" font-size="11.16" fill="#1a1a1a">Anti-miR aPC EVs</text>
<rect x="5.6" y="691.4" width="197.8" height="89.2" fill="#f7f7fb"/>
<rect x="10.00" y="755.50" width="193.40" height="24.10" fill="#e6e6e6"/>
<rect x="10.00" y="755.50" width="193.40" height="6.00" fill="url(#stripesL)"/>
<line x1="11.00" y1="779.40" x2="11.00" y2="776.20" stroke="#777" stroke-width="0.55"/>
<line x1="13.20" y1="779.40" x2="13.20" y2="777.80" stroke="#777" stroke-width="0.55"/>
<line x1="15.40" y1="779.40" x2="15.40" y2="777.80" stroke="#777" stroke-width="0.55"/>
<line x1="17.60" y1="779.40" x2="17.60" y2="777.80" stroke="#777" stroke-width="0.55"/>
<line x1="19.80" y1="779.40" x2="19.80" y2="777.80" stroke="#777" stroke-width="0.55"/>
<line x1="22.00" y1="779.40" x2="22.00" y2="776.20" stroke="#777" stroke-width="0.55"/>
<line x1="24.20" y1="779.40" x2="24.20" y2="777.80" stroke="#777" stroke-width="0.55"/>
<line x1="26.40" y1="779.40" x2="26.40" y2="777.80" stroke="#777" stroke-width="0.55"/>
<line x1="28.60" y1="779.40" x2="28.60" y2="777.80" stroke="#777" stroke-width="0.55"/>
<line x1="30.80" y1="779.40" x2="30.80" y2="777.80" stroke="#777" stroke-width="0.55"/>
<line x1="33.00" y1="779.40" x2="33.00" y2="776.20" stroke="#777" stroke-width="0.55"/>
<line x1="35.20" y1="779.40" x2="35.20" y2="777.80" stroke="#777" stroke-width="0.55"/>
<line x1="37.40" y1="779.40" x2="37.40" y2="777.80" stroke="#777" stroke-width="0.55"/>
<line x1="39.60" y1="779.40" x2="39.60" y2="777.80" stroke="#777" stroke-width="0.55"/>
<line x1="41.80" y1="779.40" x2="41.80" y2="777.80" stroke="#777" stroke-width="0.55"/>
<line x1="44.00" y1="779.40" x2="44.00" y2="776.20" stroke="#777" stroke-width="0.55"/>
<line x1="46.20" y1="779.40" x2="46.20" y2="777.80" stroke="#777" stroke-width="0.55"/>
<line x1="48.40" y1="779.40" x2="48.40" y2="777.80" stroke="#777" stroke-width="0.55"/>
<line x1="50.60" y1="779.40" x2="50.60" y2="777.80" stroke="#777" stroke-width="0.55"/>
<line x1="52.80" y1="779.40" x2="52.80" y2="777.80" stroke="#777" stroke-width="0.55"/>
<line x1="55.00" y1="779.40" x2="55.00" y2="776.20" stroke="#777" stroke-width="0.55"/>
<line x1="57.20" y1="779.40" x2="57.20" y2="777.80" stroke="#777" stroke-width="0.55"/>
<line x1="59.40" y1="779.40" x2="59.40" y2="777.80" stroke="#777" stroke-width="0.55"/>
<line x1="61.60" y1="779.40" x2="61.60" y2="777.80" stroke="#777" stroke-width="0.55"/>
<line x1="63.80" y1="779.40" x2="63.80" y2="777.80" stroke="#777" stroke-width="0.55"/>
<line x1="66.00" y1="779.40" x2="66.00" y2="776.20" stroke="#777" stroke-width="0.55"/>
<line x1="68.20" y1="779.40" x2="68.20" y2="777.80" stroke="#777" stroke-width="0.55"/>
<line x1="70.40" y1="779.40" x2="70.40" y2="777.80" stroke="#777" stroke-width="0.55"/>
<line x1="72.60" y1="779.40" x2="72.60" y2="777.80" stroke="#777" stroke-width="0.55"/>
<line x1="74.80" y1="779.40" x2="74.80" y2="777.80" stroke="#777" stroke-width="0.55"/>
<line x1="77.00" y1="779.40" x2="77.00" y2="776.20" stroke="#777" stroke-width="0.55"/>
<line x1="79.20" y1="779.40" x2="79.20" y2="777.80" stroke="#777" stroke-width="0.55"/>
<line x1="81.40" y1="779.40" x2="81.40" y2="777.80" stroke="#777" stroke-width="0.55"/>
<line x1="83.60" y1="779.40" x2="83.60" y2="777.80" stroke="#777" stroke-width="0.55"/>
<line x1="85.80" y1="779.40" x2="85.80" y2="777.80" stroke="#777" stroke-width="0.55"/>
<line x1="88.00" y1="779.40" x2="88.00" y2="776.20" stroke="#777" stroke-width="0.55"/>
<line x1="90.20" y1="779.40" x2="90.20" y2="777.80" stroke="#777" stroke-width="0.55"/>
<line x1="92.40" y1="779.40" x2="92.40" y2="777.80" stroke="#777" stroke-width="0.55"/>
<line x1="94.60" y1="779.40" x2="94.60" y2="777.80" stroke="#777" stroke-width="0.55"/>
<line x1="96.80" y1="779.40" x2="96.80" y2="777.80" stroke="#777" stroke-width="0.55"/>
<line x1="99.00" y1="779.40" x2="99.00" y2="776.20" stroke="#777" stroke-width="0.55"/>
<line x1="101.20" y1="779.40" x2="101.20" y2="777.80" stroke="#777" stroke-width="0.55"/>
<line x1="103.40" y1="779.40" x2="103.40" y2="777.80" stroke="#777" stroke-width="0.55"/>
<line x1="105.60" y1="779.40" x2="105.60" y2="777.80" stroke="#777" stroke-width="0.55"/>
<line x1="107.80" y1="779.40" x2="107.80" y2="777.80" stroke="#777" stroke-width="0.55"/>
<line x1="110.00" y1="779.40" x2="110.00" y2="776.20" stroke="#777" stroke-width="0.55"/>
<line x1="112.20" y1="779.40" x2="112.20" y2="777.80" stroke="#777" stroke-width="0.55"/>
<line x1="114.40" y1="779.40" x2="114.40" y2="777.80" stroke="#777" stroke-width="0.55"/>
<line x1="116.60" y1="779.40" x2="116.60" y2="777.80" stroke="#777" stroke-width="0.55"/>
<line x1="118.80" y1="779.40" x2="118.80" y2="777.80" stroke="#777" stroke-width="0.55"/>
<line x1="121.00" y1="779.40" x2="121.00" y2="776.20" stroke="#777" stroke-width="0.55"/>
<line x1="123.20" y1="779.40" x2="123.20" y2="777.80" stroke="#777" stroke-width="0.55"/>
<line x1="125.40" y1="779.40" x2="125.40" y2="777.80" stroke="#777" stroke-width="0.55"/>
<line x1="127.60" y1="779.40" x2="127.60" y2="777.80" stroke="#777" stroke-width="0.55"/>
<line x1="129.80" y1="779.40" x2="129.80" y2="777.80" stroke="#777" stroke-width="0.55"/>
<line x1="132.00" y1="779.40" x2="132.00" y2="776.20" stroke="#777" stroke-width="0.55"/>
<line x1="134.20" y1="779.40" x2="134.20" y2="777.80" stroke="#777" stroke-width="0.55"/>
<line x1="136.40" y1="779.40" x2="136.40" y2="777.80" stroke="#777" stroke-width="0.55"/>
<line x1="138.60" y1="779.40" x2="138.60" y2="777.80" stroke="#777" stroke-width="0.55"/>
<line x1="140.80" y1="779.40" x2="140.80" y2="777.80" stroke="#777" stroke-width="0.55"/>
<line x1="143.00" y1="779.40" x2="143.00" y2="776.20" stroke="#777" stroke-width="0.55"/>
<line x1="145.20" y1="779.40" x2="145.20" y2="777.80" stroke="#777" stroke-width="0.55"/>
<line x1="147.40" y1="779.40" x2="147.40" y2="777.80" stroke="#777" stroke-width="0.55"/>
<line x1="149.60" y1="779.40" x2="149.60" y2="777.80" stroke="#777" stroke-width="0.55"/>
<line x1="151.80" y1="779.40" x2="151.80" y2="777.80" stroke="#777" stroke-width="0.55"/>
<line x1="154.00" y1="779.40" x2="154.00" y2="776.20" stroke="#777" stroke-width="0.55"/>
<line x1="156.20" y1="779.40" x2="156.20" y2="777.80" stroke="#777" stroke-width="0.55"/>
<line x1="158.40" y1="779.40" x2="158.40" y2="777.80" stroke="#777" stroke-width="0.55"/>
<line x1="160.60" y1="779.40" x2="160.60" y2="777.80" stroke="#777" stroke-width="0.55"/>
<line x1="162.80" y1="779.40" x2="162.80" y2="777.80" stroke="#777" stroke-width="0.55"/>
<line x1="165.00" y1="779.40" x2="165.00" y2="776.20" stroke="#777" stroke-width="0.55"/>
<line x1="167.20" y1="779.40" x2="167.20" y2="777.80" stroke="#777" stroke-width="0.55"/>
<line x1="169.40" y1="779.40" x2="169.40" y2="777.80" stroke="#777" stroke-width="0.55"/>
<line x1="171.60" y1="779.40" x2="171.60" y2="777.80" stroke="#777" stroke-width="0.55"/>
<line x1="173.80" y1="779.40" x2="173.80" y2="777.80" stroke="#777" stroke-width="0.55"/>
<line x1="176.00" y1="779.40" x2="176.00" y2="776.20" stroke="#777" stroke-width="0.55"/>
<line x1="178.20" y1="779.40" x2="178.20" y2="777.80" stroke="#777" stroke-width="0.55"/>
<line x1="180.40" y1="779.40" x2="180.40" y2="777.80" stroke="#777" stroke-width="0.55"/>
<line x1="182.60" y1="779.40" x2="182.60" y2="777.80" stroke="#777" stroke-width="0.55"/>
<line x1="184.80" y1="779.40" x2="184.80" y2="777.80" stroke="#777" stroke-width="0.55"/>
<line x1="187.00" y1="779.40" x2="187.00" y2="776.20" stroke="#777" stroke-width="0.55"/>
<line x1="189.20" y1="779.40" x2="189.20" y2="777.80" stroke="#777" stroke-width="0.55"/>
<line x1="191.40" y1="779.40" x2="191.40" y2="777.80" stroke="#777" stroke-width="0.55"/>
<line x1="193.60" y1="779.40" x2="193.60" y2="777.80" stroke="#777" stroke-width="0.55"/>
<line x1="195.80" y1="779.40" x2="195.80" y2="777.80" stroke="#777" stroke-width="0.55"/>
<line x1="198.00" y1="779.40" x2="198.00" y2="776.20" stroke="#777" stroke-width="0.55"/>
<line x1="200.20" y1="779.40" x2="200.20" y2="777.80" stroke="#777" stroke-width="0.55"/>
<line x1="202.40" y1="779.40" x2="202.40" y2="777.80" stroke="#777" stroke-width="0.55"/>
<line x1="17.40" y1="761.50" x2="17.40" y2="763.50" stroke="#777" stroke-width="0.5"/>
<text x="19.60" y="767.20" font-size="6" fill="#3a3a3a" text-anchor="middle" font-weight="bold">1</text>
<line x1="28.35" y1="761.50" x2="28.35" y2="763.50" stroke="#777" stroke-width="0.5"/>
<text x="30.55" y="767.20" font-size="6" fill="#3a3a3a" text-anchor="middle" font-weight="bold">2</text>
<line x1="39.30" y1="761.50" x2="39.30" y2="763.50" stroke="#777" stroke-width="0.5"/>
<text x="41.50" y="767.20" font-size="6" fill="#3a3a3a" text-anchor="middle" font-weight="bold">3</text>
<line x1="50.25" y1="761.50" x2="50.25" y2="763.50" stroke="#777" stroke-width="0.5"/>
<text x="52.45" y="767.20" font-size="6" fill="#3a3a3a" text-anchor="middle" font-weight="bold">4</text>
<line x1="61.20" y1="761.50" x2="61.20" y2="763.50" stroke="#777" stroke-width="0.5"/>
<text x="63.40" y="767.20" font-size="6" fill="#3a3a3a" text-anchor="middle" font-weight="bold">5</text>
<line x1="72.15" y1="761.50" x2="72.15" y2="763.50" stroke="#777" stroke-width="0.5"/>
<text x="74.35" y="767.20" font-size="6" fill="#3a3a3a" text-anchor="middle" font-weight="bold">6</text>
<line x1="83.10" y1="761.50" x2="83.10" y2="763.50" stroke="#777" stroke-width="0.5"/>
<text x="85.30" y="767.20" font-size="6" fill="#3a3a3a" text-anchor="middle" font-weight="bold">7</text>
<line x1="94.05" y1="761.50" x2="94.05" y2="763.50" stroke="#777" stroke-width="0.5"/>
<text x="96.25" y="767.20" font-size="6" fill="#3a3a3a" text-anchor="middle" font-weight="bold">8</text>
<line x1="105.00" y1="761.50" x2="105.00" y2="763.50" stroke="#777" stroke-width="0.5"/>
<text x="107.20" y="767.20" font-size="6" fill="#3a3a3a" text-anchor="middle" font-weight="bold">9</text>
<line x1="115.95" y1="761.50" x2="115.95" y2="763.50" stroke="#777" stroke-width="0.5"/>
<text x="118.15" y="767.20" font-size="6" fill="#3a3a3a" text-anchor="middle" font-weight="bold">10</text>
<line x1="126.90" y1="761.50" x2="126.90" y2="763.50" stroke="#777" stroke-width="0.5"/>
<text x="129.10" y="767.20" font-size="6" fill="#3a3a3a" text-anchor="middle" font-weight="bold">11</text>
<line x1="137.85" y1="761.50" x2="137.85" y2="763.50" stroke="#777" stroke-width="0.5"/>
<text x="140.05" y="767.20" font-size="6" fill="#3a3a3a" text-anchor="middle" font-weight="bold">12</text>
<line x1="148.80" y1="761.50" x2="148.80" y2="763.50" stroke="#777" stroke-width="0.5"/>
<text x="151.00" y="767.20" font-size="6" fill="#3a3a3a" text-anchor="middle" font-weight="bold">13</text>
<line x1="159.75" y1="761.50" x2="159.75" y2="763.50" stroke="#777" stroke-width="0.5"/>
<text x="161.95" y="767.20" font-size="6" fill="#3a3a3a" text-anchor="middle" font-weight="bold">14</text>
<line x1="170.70" y1="761.50" x2="170.70" y2="763.50" stroke="#777" stroke-width="0.5"/>
<text x="172.90" y="767.20" font-size="6" fill="#3a3a3a" text-anchor="middle" font-weight="bold">15</text>
<line x1="181.65" y1="761.50" x2="181.65" y2="763.50" stroke="#777" stroke-width="0.5"/>
<text x="183.85" y="767.20" font-size="6" fill="#3a3a3a" text-anchor="middle" font-weight="bold">16</text>
<line x1="192.60" y1="761.50" x2="192.60" y2="763.50" stroke="#777" stroke-width="0.5"/>
<text x="194.80" y="767.20" font-size="6" fill="#3a3a3a" text-anchor="middle" font-weight="bold">17</text>
<text x="36.00" y="775.40" font-size="8.8" fill="#3a3a3a" text-anchor="middle" font-weight="bold">1</text>
<text x="62.80" y="775.40" font-size="8.8" fill="#3a3a3a" text-anchor="middle" font-weight="bold">2</text>
<text x="89.60" y="775.40" font-size="8.8" fill="#3a3a3a" text-anchor="middle" font-weight="bold">3</text>
<text x="116.40" y="775.40" font-size="8.8" fill="#3a3a3a" text-anchor="middle" font-weight="bold">4</text>
<text x="143.20" y="775.40" font-size="8.8" fill="#3a3a3a" text-anchor="middle" font-weight="bold">5</text>
<text x="170.00" y="775.40" font-size="8.8" fill="#3a3a3a" text-anchor="middle" font-weight="bold">6</text>
<text x="196.80" y="775.40" font-size="8.8" fill="#3a3a3a" text-anchor="middle" font-weight="bold">7</text>
<rect x="10" y="755.5" width="193.4" height="24.1" fill="url(#rulerI)"/>
<ellipse cx="21.90" cy="720.06" rx="7.65" ry="7.56" fill="#9a6a60" opacity="0.22"/>
<path d="M30.53 714.02Q30.93 715.20 31.12 716.54Q31.31 717.89 31.01 719.21Q30.72 720.53 29.93 721.52Q29.15 722.52 28.14 723.10Q27.13 723.67 26.15 724.00Q25.17 724.33 24.25 724.57Q23.33 724.81 22.41 724.90Q21.50 724.99 20.60 724.82Q19.70 724.65 18.85 724.28Q18.00 723.91 17.13 723.50Q16.26 723.08 15.30 722.57Q14.33 722.06 13.42 721.23Q12.50 720.40 11.96 719.18Q11.41 717.96 11.44 716.58Q11.46 715.20 11.92 713.95Q12.37 712.70 12.94 711.64Q13.51 710.58 14.08 709.61Q14.64 708.63 15.30 707.75Q15.96 706.87 16.82 706.26Q17.67 705.65 18.63 705.42Q19.59 705.18 20.55 705.16Q21.50 705.15 22.45 705.20Q23.39 705.25 24.36 705.45Q25.33 705.65 26.23 706.18Q27.14 706.72 27.81 707.62Q28.48 708.52 28.93 709.59Q29.37 710.65 29.75 711.74Q30.14 712.83 30.53 714.02Z" fill="url(#tum)"/>
<path d="M30.53 714.02Q30.93 715.20 31.12 716.54Q31.31 717.89 31.01 719.21Q30.72 720.53 29.93 721.52Q29.15 722.52 28.14 723.10Q27.13 723.67 26.15 724.00Q25.17 724.33 24.25 724.57Q23.33 724.81 22.41 724.90Q21.50 724.99 20.60 724.82Q19.70 724.65 18.85 724.28Q18.00 723.91 17.13 723.50Q16.26 723.08 15.30 722.57Q14.33 722.06 13.42 721.23Q12.50 720.40 11.96 719.18Q11.41 717.96 11.44 716.58Q11.46 715.20 11.92 713.95Q12.37 712.70 12.94 711.64Q13.51 710.58 14.08 709.61Q14.64 708.63 15.30 707.75Q15.96 706.87 16.82 706.26Q17.67 705.65 18.63 705.42Q19.59 705.18 20.55 705.16Q21.50 705.15 22.45 705.20Q23.39 705.25 24.36 705.45Q25.33 705.65 26.23 706.18Q27.14 706.72 27.81 707.62Q28.48 708.52 28.93 709.59Q29.37 710.65 29.75 711.74Q30.14 712.83 30.53 714.02Z" fill="url(#tumshade)"/>
<ellipse cx="21.04" cy="715.92" rx="1.09" ry="0.56" fill="#fff4e6" opacity="0.43"/>
<ellipse cx="24.43" cy="712.79" rx="1.07" ry="0.97" fill="#fff4e6" opacity="0.41"/>
<ellipse cx="20.79" cy="717.87" rx="0.75" ry="1.03" fill="#fff4e6" opacity="0.56"/>
<ellipse cx="18.84" cy="712.78" rx="0.66" ry="0.60" fill="#fff4e6" opacity="0.52"/>
<ellipse cx="21.05" cy="710.38" rx="0.72" ry="0.93" fill="#fff4e6" opacity="0.60"/>
<ellipse cx="23.99" cy="711.09" rx="1.00" ry="0.75" fill="#fff4e6" opacity="0.30"/>
<ellipse cx="26.55" cy="714.85" rx="0.96" ry="0.73" fill="#fff4e6" opacity="0.42"/>
<ellipse cx="26.41" cy="713.08" rx="1.22" ry="0.97" fill="#fff4e6" opacity="0.43"/>
<ellipse cx="18.95" cy="710.26" rx="1.20" ry="0.53" fill="#fff4e6" opacity="0.41"/>
<ellipse cx="43.90" cy="720.63" rx="7.22" ry="6.58" fill="#9a6a60" opacity="0.22"/>
<path d="M52.60 715.27Q52.74 716.40 52.34 717.47Q51.95 718.53 51.51 719.48Q51.07 720.43 50.55 721.30Q50.04 722.16 49.36 722.88Q48.69 723.59 47.98 724.33Q47.27 725.06 46.40 725.66Q45.54 726.26 44.52 726.20Q43.50 726.15 42.59 725.67Q41.68 725.20 40.83 724.85Q39.97 724.51 39.15 724.03Q38.34 723.56 37.78 722.74Q37.23 721.93 36.81 721.06Q36.39 720.18 35.99 719.29Q35.58 718.40 35.40 717.40Q35.22 716.40 35.14 715.34Q35.06 714.27 35.00 713.05Q34.93 711.84 35.35 710.71Q35.78 709.59 36.78 709.03Q37.77 708.46 38.81 708.23Q39.84 708.00 40.76 707.79Q41.68 707.58 42.59 707.61Q43.50 707.63 44.36 707.83Q45.23 708.03 46.11 708.22Q46.98 708.40 47.80 708.85Q48.61 709.31 49.21 710.07Q49.81 710.83 50.46 711.59Q51.11 712.35 51.79 713.24Q52.47 714.14 52.60 715.27Z" fill="url(#tum)"/>
<path d="M52.60 715.27Q52.74 716.40 52.34 717.47Q51.95 718.53 51.51 719.48Q51.07 720.43 50.55 721.30Q50.04 722.16 49.36 722.88Q48.69 723.59 47.98 724.33Q47.27 725.06 46.40 725.66Q45.54 726.26 44.52 726.20Q43.50 726.15 42.59 725.67Q41.68 725.20 40.83 724.85Q39.97 724.51 39.15 724.03Q38.34 723.56 37.78 722.74Q37.23 721.93 36.81 721.06Q36.39 720.18 35.99 719.29Q35.58 718.40 35.40 717.40Q35.22 716.40 35.14 715.34Q35.06 714.27 35.00 713.05Q34.93 711.84 35.35 710.71Q35.78 709.59 36.78 709.03Q37.77 708.46 38.81 708.23Q39.84 708.00 40.76 707.79Q41.68 707.58 42.59 707.61Q43.50 707.63 44.36 707.83Q45.23 708.03 46.11 708.22Q46.98 708.40 47.80 708.85Q48.61 709.31 49.21 710.07Q49.81 710.83 50.46 711.59Q51.11 712.35 51.79 713.24Q52.47 714.14 52.60 715.27Z" fill="url(#tumshade)"/>
<ellipse cx="40.46" cy="714.82" rx="0.87" ry="1.06" fill="#fff4e6" opacity="0.51"/>
<ellipse cx="43.66" cy="712.93" rx="1.35" ry="0.94" fill="#fff4e6" opacity="0.46"/>
<ellipse cx="45.31" cy="716.24" rx="1.47" ry="0.83" fill="#fff4e6" opacity="0.38"/>
<ellipse cx="43.00" cy="714.53" rx="0.90" ry="0.97" fill="#fff4e6" opacity="0.41"/>
<ellipse cx="39.73" cy="717.85" rx="1.07" ry="0.77" fill="#fff4e6" opacity="0.28"/>
<ellipse cx="41.43" cy="713.73" rx="0.85" ry="1.06" fill="#fff4e6" opacity="0.47"/>
<ellipse cx="39.24" cy="714.03" rx="0.96" ry="1.09" fill="#fff4e6" opacity="0.49"/>
<ellipse cx="66.60" cy="717.10" rx="6.97" ry="7.00" fill="#9a6a60" opacity="0.22"/>
<path d="M75.01 711.35Q74.86 712.60 74.48 713.70Q74.10 714.80 73.75 715.81Q73.40 716.83 72.96 717.79Q72.53 718.76 71.88 719.52Q71.22 720.28 70.42 720.78Q69.63 721.28 68.78 721.56Q67.93 721.85 67.07 721.96Q66.20 722.08 65.31 722.07Q64.43 722.07 63.52 721.87Q62.62 721.67 61.83 721.08Q61.04 720.49 60.48 719.60Q59.93 718.70 59.47 717.76Q59.01 716.82 58.51 715.85Q58.02 714.88 57.67 713.74Q57.32 712.60 57.32 711.36Q57.32 710.13 57.72 708.99Q58.13 707.86 58.86 707.02Q59.60 706.19 60.46 705.66Q61.32 705.13 62.11 704.70Q62.91 704.27 63.71 703.91Q64.51 703.55 65.35 703.48Q66.20 703.41 67.03 703.59Q67.85 703.78 68.68 704.00Q69.51 704.22 70.40 704.52Q71.29 704.81 72.18 705.37Q73.06 705.93 73.78 706.83Q74.50 707.72 74.83 708.91Q75.17 710.10 75.01 711.35Z" fill="url(#tum)"/>
<path d="M75.01 711.35Q74.86 712.60 74.48 713.70Q74.10 714.80 73.75 715.81Q73.40 716.83 72.96 717.79Q72.53 718.76 71.88 719.52Q71.22 720.28 70.42 720.78Q69.63 721.28 68.78 721.56Q67.93 721.85 67.07 721.96Q66.20 722.08 65.31 722.07Q64.43 722.07 63.52 721.87Q62.62 721.67 61.83 721.08Q61.04 720.49 60.48 719.60Q59.93 718.70 59.47 717.76Q59.01 716.82 58.51 715.85Q58.02 714.88 57.67 713.74Q57.32 712.60 57.32 711.36Q57.32 710.13 57.72 708.99Q58.13 707.86 58.86 707.02Q59.60 706.19 60.46 705.66Q61.32 705.13 62.11 704.70Q62.91 704.27 63.71 703.91Q64.51 703.55 65.35 703.48Q66.20 703.41 67.03 703.59Q67.85 703.78 68.68 704.00Q69.51 704.22 70.40 704.52Q71.29 704.81 72.18 705.37Q73.06 705.93 73.78 706.83Q74.50 707.72 74.83 708.91Q75.17 710.10 75.01 711.35Z" fill="url(#tumshade)"/>
<ellipse cx="64.71" cy="708.47" rx="1.12" ry="0.79" fill="#fff4e6" opacity="0.54"/>
<ellipse cx="67.21" cy="712.03" rx="1.13" ry="0.59" fill="#fff4e6" opacity="0.47"/>
<ellipse cx="63.54" cy="714.19" rx="0.84" ry="1.00" fill="#fff4e6" opacity="0.58"/>
<ellipse cx="65.95" cy="712.31" rx="0.63" ry="0.67" fill="#fff4e6" opacity="0.34"/>
<ellipse cx="61.43" cy="710.44" rx="0.87" ry="0.93" fill="#fff4e6" opacity="0.37"/>
<ellipse cx="65.58" cy="712.02" rx="1.36" ry="1.08" fill="#fff4e6" opacity="0.33"/>
<ellipse cx="65.49" cy="707.72" rx="1.23" ry="0.73" fill="#fff4e6" opacity="0.29"/>
<ellipse cx="65.75" cy="708.87" rx="0.98" ry="0.98" fill="#fff4e6" opacity="0.31"/>
<ellipse cx="89.40" cy="719.59" rx="6.80" ry="7.14" fill="#9a6a60" opacity="0.22"/>
<path d="M97.16 713.80Q97.11 715.00 96.99 716.15Q96.87 717.29 96.51 718.34Q96.15 719.39 95.66 720.33Q95.16 721.26 94.56 722.10Q93.96 722.93 93.17 723.43Q92.38 723.94 91.53 724.16Q90.68 724.38 89.84 724.66Q89.00 724.94 88.09 725.03Q87.19 725.12 86.37 724.62Q85.56 724.12 84.91 723.35Q84.26 722.58 83.63 721.84Q83.00 721.10 82.44 720.24Q81.87 719.38 81.43 718.35Q80.98 717.33 80.62 716.17Q80.25 715.00 80.25 713.73Q80.25 712.45 80.80 711.38Q81.35 710.30 82.06 709.49Q82.77 708.67 83.43 707.91Q84.09 707.15 84.87 706.64Q85.65 706.14 86.51 706.01Q87.37 705.89 88.18 705.85Q89.00 705.81 89.82 705.84Q90.63 705.87 91.45 706.11Q92.27 706.35 93.15 706.65Q94.03 706.96 94.96 707.48Q95.89 708.00 96.47 709.03Q97.05 710.05 97.14 711.33Q97.22 712.61 97.16 713.80Z" fill="url(#tum)"/>
<path d="M97.16 713.80Q97.11 715.00 96.99 716.15Q96.87 717.29 96.51 718.34Q96.15 719.39 95.66 720.33Q95.16 721.26 94.56 722.10Q93.96 722.93 93.17 723.43Q92.38 723.94 91.53 724.16Q90.68 724.38 89.84 724.66Q89.00 724.94 88.09 725.03Q87.19 725.12 86.37 724.62Q85.56 724.12 84.91 723.35Q84.26 722.58 83.63 721.84Q83.00 721.10 82.44 720.24Q81.87 719.38 81.43 718.35Q80.98 717.33 80.62 716.17Q80.25 715.00 80.25 713.73Q80.25 712.45 80.80 711.38Q81.35 710.30 82.06 709.49Q82.77 708.67 83.43 707.91Q84.09 707.15 84.87 706.64Q85.65 706.14 86.51 706.01Q87.37 705.89 88.18 705.85Q89.00 705.81 89.82 705.84Q90.63 705.87 91.45 706.11Q92.27 706.35 93.15 706.65Q94.03 706.96 94.96 707.48Q95.89 708.00 96.47 709.03Q97.05 710.05 97.14 711.33Q97.22 712.61 97.16 713.80Z" fill="url(#tumshade)"/>
<ellipse cx="86.49" cy="715.24" rx="1.47" ry="0.52" fill="#fff4e6" opacity="0.49"/>
<ellipse cx="90.35" cy="713.28" rx="0.70" ry="0.80" fill="#fff4e6" opacity="0.28"/>
<ellipse cx="88.93" cy="717.49" rx="1.19" ry="0.92" fill="#fff4e6" opacity="0.40"/>
<ellipse cx="88.95" cy="713.50" rx="0.90" ry="0.91" fill="#fff4e6" opacity="0.26"/>
<ellipse cx="90.86" cy="709.22" rx="1.13" ry="0.84" fill="#fff4e6" opacity="0.43"/>
<ellipse cx="93.74" cy="713.22" rx="0.99" ry="0.76" fill="#fff4e6" opacity="0.57"/>
<ellipse cx="88.40" cy="713.61" rx="1.07" ry="1.03" fill="#fff4e6" opacity="0.44"/>
<ellipse cx="87.52" cy="716.55" rx="1.11" ry="0.65" fill="#fff4e6" opacity="0.48"/>
<ellipse cx="112.80" cy="718.32" rx="8.50" ry="6.72" fill="#9a6a60" opacity="0.22"/>
<path d="M122.64 712.90Q122.89 714.00 122.94 715.16Q122.99 716.32 122.71 717.48Q122.43 718.64 121.59 719.52Q120.76 720.40 119.62 720.86Q118.48 721.32 117.45 721.66Q116.41 721.99 115.44 722.36Q114.48 722.73 113.44 722.96Q112.40 723.19 111.31 723.20Q110.21 723.20 109.14 722.92Q108.07 722.63 107.18 722.00Q106.29 721.36 105.57 720.57Q104.84 719.78 104.11 718.98Q103.38 718.17 102.80 717.20Q102.23 716.23 102.16 715.11Q102.08 714.00 102.36 712.93Q102.63 711.86 102.99 710.84Q103.35 709.82 103.86 708.84Q104.38 707.86 105.11 706.98Q105.84 706.11 106.80 705.43Q107.76 704.75 108.92 704.51Q110.09 704.28 111.24 704.57Q112.40 704.86 113.39 705.25Q114.39 705.64 115.37 705.88Q116.35 706.13 117.33 706.51Q118.31 706.88 119.15 707.54Q119.99 708.19 120.68 709.02Q121.38 709.85 121.89 710.83Q122.40 711.81 122.64 712.90Z" fill="url(#tum)"/>
<path d="M122.64 712.90Q122.89 714.00 122.94 715.16Q122.99 716.32 122.71 717.48Q122.43 718.64 121.59 719.52Q120.76 720.40 119.62 720.86Q118.48 721.32 117.45 721.66Q116.41 721.99 115.44 722.36Q114.48 722.73 113.44 722.96Q112.40 723.19 111.31 723.20Q110.21 723.20 109.14 722.92Q108.07 722.63 107.18 722.00Q106.29 721.36 105.57 720.57Q104.84 719.78 104.11 718.98Q103.38 718.17 102.80 717.20Q102.23 716.23 102.16 715.11Q102.08 714.00 102.36 712.93Q102.63 711.86 102.99 710.84Q103.35 709.82 103.86 708.84Q104.38 707.86 105.11 706.98Q105.84 706.11 106.80 705.43Q107.76 704.75 108.92 704.51Q110.09 704.28 111.24 704.57Q112.40 704.86 113.39 705.25Q114.39 705.64 115.37 705.88Q116.35 706.13 117.33 706.51Q118.31 706.88 119.15 707.54Q119.99 708.19 120.68 709.02Q121.38 709.85 121.89 710.83Q122.40 711.81 122.64 712.90Z" fill="url(#tumshade)"/>
<ellipse cx="109.12" cy="712.27" rx="0.81" ry="1.04" fill="#fff4e6" opacity="0.47"/>
<ellipse cx="107.91" cy="713.00" rx="1.23" ry="1.03" fill="#fff4e6" opacity="0.42"/>
<ellipse cx="116.46" cy="713.56" rx="1.03" ry="0.87" fill="#fff4e6" opacity="0.28"/>
<ellipse cx="107.72" cy="713.15" rx="1.40" ry="1.00" fill="#fff4e6" opacity="0.52"/>
<ellipse cx="106.56" cy="711.82" rx="1.42" ry="1.04" fill="#fff4e6" opacity="0.39"/>
<ellipse cx="112.92" cy="714.11" rx="1.23" ry="0.82" fill="#fff4e6" opacity="0.40"/>
<ellipse cx="107.85" cy="713.92" rx="0.75" ry="0.73" fill="#fff4e6" opacity="0.52"/>
<ellipse cx="112.27" cy="712.40" rx="0.84" ry="1.06" fill="#fff4e6" opacity="0.46"/>
<ellipse cx="113.05" cy="715.23" rx="1.36" ry="1.07" fill="#fff4e6" opacity="0.53"/>
<ellipse cx="136.40" cy="719.10" rx="8.07" ry="7.00" fill="#9a6a60" opacity="0.22"/>
<path d="M145.92 713.43Q146.15 714.60 145.78 715.73Q145.41 716.86 144.84 717.83Q144.28 718.80 143.66 719.65Q143.03 720.50 142.31 721.24Q141.58 721.97 140.79 722.64Q139.99 723.32 139.05 723.81Q138.10 724.29 137.05 724.33Q136.00 724.37 134.98 724.20Q133.95 724.03 132.85 723.97Q131.74 723.91 130.57 723.61Q129.41 723.30 128.56 722.43Q127.71 721.56 127.33 720.37Q126.95 719.19 126.91 717.99Q126.87 716.79 127.07 715.70Q127.27 714.60 127.45 713.59Q127.63 712.59 127.72 711.52Q127.81 710.45 128.20 709.42Q128.60 708.39 129.41 707.68Q130.23 706.98 131.12 706.44Q132.02 705.90 132.94 705.31Q133.86 704.72 134.93 704.37Q136.00 704.03 137.12 704.13Q138.25 704.24 139.27 704.72Q140.30 705.20 141.09 706.02Q141.88 706.83 142.45 707.78Q143.01 708.72 143.65 709.56Q144.29 710.40 145.00 711.33Q145.70 712.27 145.92 713.43Z" fill="url(#tum)"/>
<path d="M145.92 713.43Q146.15 714.60 145.78 715.73Q145.41 716.86 144.84 717.83Q144.28 718.80 143.66 719.65Q143.03 720.50 142.31 721.24Q141.58 721.97 140.79 722.64Q139.99 723.32 139.05 723.81Q138.10 724.29 137.05 724.33Q136.00 724.37 134.98 724.20Q133.95 724.03 132.85 723.97Q131.74 723.91 130.57 723.61Q129.41 723.30 128.56 722.43Q127.71 721.56 127.33 720.37Q126.95 719.19 126.91 717.99Q126.87 716.79 127.07 715.70Q127.27 714.60 127.45 713.59Q127.63 712.59 127.72 711.52Q127.81 710.45 128.20 709.42Q128.60 708.39 129.41 707.68Q130.23 706.98 131.12 706.44Q132.02 705.90 132.94 705.31Q133.86 704.72 134.93 704.37Q136.00 704.03 137.12 704.13Q138.25 704.24 139.27 704.72Q140.30 705.20 141.09 706.02Q141.88 706.83 142.45 707.78Q143.01 708.72 143.65 709.56Q144.29 710.40 145.00 711.33Q145.70 712.27 145.92 713.43Z" fill="url(#tumshade)"/>
<ellipse cx="136.84" cy="711.10" rx="0.62" ry="0.72" fill="#fff4e6" opacity="0.33"/>
<ellipse cx="136.26" cy="717.40" rx="0.91" ry="0.89" fill="#fff4e6" opacity="0.38"/>
<ellipse cx="132.46" cy="711.75" rx="1.23" ry="0.86" fill="#fff4e6" opacity="0.49"/>
<ellipse cx="135.95" cy="713.03" rx="1.30" ry="0.57" fill="#fff4e6" opacity="0.44"/>
<ellipse cx="138.34" cy="713.91" rx="0.84" ry="0.65" fill="#fff4e6" opacity="0.49"/>
<ellipse cx="139.29" cy="714.24" rx="1.34" ry="0.52" fill="#fff4e6" opacity="0.33"/>
<ellipse cx="137.15" cy="715.01" rx="0.76" ry="0.80" fill="#fff4e6" opacity="0.26"/>
<ellipse cx="138.31" cy="712.01" rx="0.97" ry="1.06" fill="#fff4e6" opacity="0.33"/>
<ellipse cx="132.35" cy="711.07" rx="0.85" ry="0.90" fill="#fff4e6" opacity="0.59"/>
<ellipse cx="163.40" cy="719.95" rx="7.65" ry="7.70" fill="#9a6a60" opacity="0.22"/>
<path d="M171.89 713.79Q172.07 715.00 172.02 716.25Q171.97 717.50 171.49 718.61Q171.01 719.71 170.27 720.54Q169.53 721.36 168.78 722.04Q168.04 722.72 167.30 723.38Q166.56 724.04 165.74 724.68Q164.93 725.32 163.96 725.85Q163.00 726.39 161.91 726.54Q160.82 726.69 159.77 726.26Q158.73 725.84 157.84 725.06Q156.95 724.28 156.19 723.32Q155.44 722.37 154.96 721.19Q154.47 720.02 154.39 718.72Q154.32 717.42 154.50 716.21Q154.68 715.00 154.95 713.91Q155.21 712.83 155.51 711.80Q155.80 710.76 156.10 709.67Q156.40 708.57 156.86 707.43Q157.31 706.28 158.11 705.44Q158.90 704.59 159.91 704.24Q160.93 703.89 161.96 703.84Q163.00 703.78 164.03 703.89Q165.06 703.99 166.04 704.38Q167.03 704.77 167.90 705.46Q168.78 706.14 169.50 707.06Q170.21 707.97 170.69 709.08Q171.17 710.19 171.44 711.38Q171.71 712.57 171.89 713.79Z" fill="url(#tum)"/>
<path d="M171.89 713.79Q172.07 715.00 172.02 716.25Q171.97 717.50 171.49 718.61Q171.01 719.71 170.27 720.54Q169.53 721.36 168.78 722.04Q168.04 722.72 167.30 723.38Q166.56 724.04 165.74 724.68Q164.93 725.32 163.96 725.85Q163.00 726.39 161.91 726.54Q160.82 726.69 159.77 726.26Q158.73 725.84 157.84 725.06Q156.95 724.28 156.19 723.32Q155.44 722.37 154.96 721.19Q154.47 720.02 154.39 718.72Q154.32 717.42 154.50 716.21Q154.68 715.00 154.95 713.91Q155.21 712.83 155.51 711.80Q155.80 710.76 156.10 709.67Q156.40 708.57 156.86 707.43Q157.31 706.28 158.11 705.44Q158.90 704.59 159.91 704.24Q160.93 703.89 161.96 703.84Q163.00 703.78 164.03 703.89Q165.06 703.99 166.04 704.38Q167.03 704.77 167.90 705.46Q168.78 706.14 169.50 707.06Q170.21 707.97 170.69 709.08Q171.17 710.19 171.44 711.38Q171.71 712.57 171.89 713.79Z" fill="url(#tumshade)"/>
<ellipse cx="161.48" cy="715.37" rx="1.13" ry="0.85" fill="#fff4e6" opacity="0.26"/>
<ellipse cx="161.84" cy="712.72" rx="1.26" ry="1.09" fill="#fff4e6" opacity="0.51"/>
<ellipse cx="164.24" cy="715.39" rx="0.80" ry="0.70" fill="#fff4e6" opacity="0.34"/>
<ellipse cx="165.42" cy="710.34" rx="1.19" ry="0.77" fill="#fff4e6" opacity="0.57"/>
<ellipse cx="166.36" cy="712.03" rx="1.07" ry="0.74" fill="#fff4e6" opacity="0.46"/>
<ellipse cx="165.49" cy="717.08" rx="1.18" ry="0.92" fill="#fff4e6" opacity="0.59"/>
<ellipse cx="159.90" cy="713.69" rx="1.47" ry="0.72" fill="#fff4e6" opacity="0.47"/>
<ellipse cx="162.89" cy="713.78" rx="0.72" ry="0.93" fill="#fff4e6" opacity="0.57"/>
<ellipse cx="162.44" cy="713.29" rx="0.86" ry="0.75" fill="#fff4e6" opacity="0.54"/>
<ellipse cx="187.40" cy="720.73" rx="7.65" ry="7.35" fill="#9a6a60" opacity="0.22"/>
<path d="M195.73 714.87Q195.96 716.00 196.03 717.21Q196.10 718.42 195.93 719.67Q195.76 720.92 195.21 722.03Q194.66 723.13 193.78 723.87Q192.89 724.62 191.91 725.06Q190.93 725.51 189.95 725.81Q188.98 726.10 187.99 726.13Q187.00 726.15 186.07 725.84Q185.13 725.54 184.29 725.08Q183.44 724.62 182.64 724.09Q181.84 723.55 181.07 722.89Q180.30 722.23 179.54 721.43Q178.78 720.62 178.15 719.57Q177.53 718.52 177.35 717.26Q177.18 716.00 177.46 714.77Q177.75 713.54 178.23 712.44Q178.71 711.34 179.29 710.35Q179.87 709.37 180.62 708.57Q181.38 707.77 182.25 707.20Q183.13 706.62 184.08 706.29Q185.03 705.95 186.02 705.92Q187.00 705.89 187.96 706.06Q188.91 706.23 189.87 706.49Q190.82 706.74 191.73 707.25Q192.64 707.76 193.31 708.63Q193.98 709.51 194.40 710.56Q194.83 711.60 195.16 712.67Q195.49 713.74 195.73 714.87Z" fill="url(#tum)"/>
<path d="M195.73 714.87Q195.96 716.00 196.03 717.21Q196.10 718.42 195.93 719.67Q195.76 720.92 195.21 722.03Q194.66 723.13 193.78 723.87Q192.89 724.62 191.91 725.06Q190.93 725.51 189.95 725.81Q188.98 726.10 187.99 726.13Q187.00 726.15 186.07 725.84Q185.13 725.54 184.29 725.08Q183.44 724.62 182.64 724.09Q181.84 723.55 181.07 722.89Q180.30 722.23 179.54 721.43Q178.78 720.62 178.15 719.57Q177.53 718.52 177.35 717.26Q177.18 716.00 177.46 714.77Q177.75 713.54 178.23 712.44Q178.71 711.34 179.29 710.35Q179.87 709.37 180.62 708.57Q181.38 707.77 182.25 707.20Q183.13 706.62 184.08 706.29Q185.03 705.95 186.02 705.92Q187.00 705.89 187.96 706.06Q188.91 706.23 189.87 706.49Q190.82 706.74 191.73 707.25Q192.64 707.76 193.31 708.63Q193.98 709.51 194.40 710.56Q194.83 711.60 195.16 712.67Q195.49 713.74 195.73 714.87Z" fill="url(#tumshade)"/>
<ellipse cx="188.05" cy="714.71" rx="1.24" ry="0.59" fill="#fff4e6" opacity="0.55"/>
<ellipse cx="186.99" cy="714.48" rx="1.00" ry="0.60" fill="#fff4e6" opacity="0.26"/>
<ellipse cx="186.56" cy="716.71" rx="0.77" ry="1.01" fill="#fff4e6" opacity="0.36"/>
<ellipse cx="186.42" cy="712.74" rx="0.69" ry="0.76" fill="#fff4e6" opacity="0.49"/>
<ellipse cx="183.54" cy="714.69" rx="0.71" ry="0.58" fill="#fff4e6" opacity="0.30"/>
<ellipse cx="182.36" cy="714.65" rx="0.94" ry="0.99" fill="#fff4e6" opacity="0.29"/>
<ellipse cx="187.56" cy="717.78" rx="1.31" ry="0.98" fill="#fff4e6" opacity="0.30"/>
<ellipse cx="185.76" cy="714.12" rx="1.27" ry="0.85" fill="#fff4e6" opacity="0.49"/>
<ellipse cx="188.12" cy="709.57" rx="1.02" ry="1.10" fill="#fff4e6" opacity="0.35"/>
<ellipse cx="22.40" cy="741.88" rx="5.10" ry="4.48" fill="#9a6a60" opacity="0.22"/>
<path d="M27.85 738.34Q28.29 739.00 28.34 739.78Q28.39 740.56 28.00 741.22Q27.61 741.88 27.16 742.44Q26.71 743.00 26.25 743.53Q25.79 744.06 25.22 744.47Q24.65 744.88 24.02 745.20Q23.40 745.52 22.70 745.71Q22.00 745.89 21.31 745.67Q20.62 745.46 20.05 745.01Q19.48 744.57 18.92 744.23Q18.35 743.88 17.81 743.46Q17.26 743.03 17.01 742.36Q16.77 741.69 16.75 740.99Q16.73 740.28 16.71 739.64Q16.70 739.00 16.72 738.36Q16.73 737.72 16.77 737.02Q16.80 736.33 16.85 735.49Q16.90 734.66 17.26 733.90Q17.62 733.15 18.35 732.83Q19.07 732.51 19.83 732.45Q20.59 732.40 21.29 732.36Q22.00 732.31 22.68 732.47Q23.36 732.63 23.93 733.05Q24.50 733.47 24.97 733.94Q25.43 734.41 25.80 734.93Q26.17 735.45 26.43 736.02Q26.68 736.59 27.05 737.14Q27.41 737.68 27.85 738.34Z" fill="url(#tumy)"/>
<path d="M27.85 738.34Q28.29 739.00 28.34 739.78Q28.39 740.56 28.00 741.22Q27.61 741.88 27.16 742.44Q26.71 743.00 26.25 743.53Q25.79 744.06 25.22 744.47Q24.65 744.88 24.02 745.20Q23.40 745.52 22.70 745.71Q22.00 745.89 21.31 745.67Q20.62 745.46 20.05 745.01Q19.48 744.57 18.92 744.23Q18.35 743.88 17.81 743.46Q17.26 743.03 17.01 742.36Q16.77 741.69 16.75 740.99Q16.73 740.28 16.71 739.64Q16.70 739.00 16.72 738.36Q16.73 737.72 16.77 737.02Q16.80 736.33 16.85 735.49Q16.90 734.66 17.26 733.90Q17.62 733.15 18.35 732.83Q19.07 732.51 19.83 732.45Q20.59 732.40 21.29 732.36Q22.00 732.31 22.68 732.47Q23.36 732.63 23.93 733.05Q24.50 733.47 24.97 733.94Q25.43 734.41 25.80 734.93Q26.17 735.45 26.43 736.02Q26.68 736.59 27.05 737.14Q27.41 737.68 27.85 738.34Z" fill="url(#tumshade)"/>
<ellipse cx="22.46" cy="738.59" rx="0.62" ry="0.75" fill="#fff4e6" opacity="0.43"/>
<ellipse cx="21.54" cy="739.03" rx="1.07" ry="0.63" fill="#fff4e6" opacity="0.37"/>
<ellipse cx="20.41" cy="737.59" rx="1.32" ry="0.98" fill="#fff4e6" opacity="0.49"/>
<ellipse cx="45.40" cy="741.69" rx="4.59" ry="4.34" fill="#9a6a60" opacity="0.22"/>
<path d="M50.38 738.19Q50.31 738.90 50.13 739.55Q49.95 740.20 49.57 740.71Q49.19 741.22 48.89 741.70Q48.58 742.18 48.39 742.84Q48.20 743.50 47.81 744.08Q47.42 744.66 46.83 744.88Q46.23 745.11 45.62 745.19Q45.00 745.27 44.37 745.24Q43.74 745.22 43.17 744.93Q42.60 744.63 42.08 744.24Q41.56 743.85 41.04 743.43Q40.51 743.01 40.20 742.37Q39.88 741.73 39.85 740.99Q39.82 740.26 39.75 739.58Q39.68 738.90 39.62 738.19Q39.56 737.47 39.81 736.82Q40.07 736.18 40.52 735.70Q40.98 735.22 41.43 734.81Q41.88 734.41 42.39 734.16Q42.91 733.91 43.43 733.75Q43.95 733.60 44.47 733.27Q45.00 732.94 45.65 732.66Q46.30 732.38 46.94 732.57Q47.58 732.76 48.11 733.21Q48.64 733.66 49.15 734.14Q49.67 734.63 50.01 735.28Q50.36 735.94 50.40 736.71Q50.45 737.47 50.38 738.19Z" fill="url(#tumy)"/>
<path d="M50.38 738.19Q50.31 738.90 50.13 739.55Q49.95 740.20 49.57 740.71Q49.19 741.22 48.89 741.70Q48.58 742.18 48.39 742.84Q48.20 743.50 47.81 744.08Q47.42 744.66 46.83 744.88Q46.23 745.11 45.62 745.19Q45.00 745.27 44.37 745.24Q43.74 745.22 43.17 744.93Q42.60 744.63 42.08 744.24Q41.56 743.85 41.04 743.43Q40.51 743.01 40.20 742.37Q39.88 741.73 39.85 740.99Q39.82 740.26 39.75 739.58Q39.68 738.90 39.62 738.19Q39.56 737.47 39.81 736.82Q40.07 736.18 40.52 735.70Q40.98 735.22 41.43 734.81Q41.88 734.41 42.39 734.16Q42.91 733.91 43.43 733.75Q43.95 733.60 44.47 733.27Q45.00 732.94 45.65 732.66Q46.30 732.38 46.94 732.57Q47.58 732.76 48.11 733.21Q48.64 733.66 49.15 734.14Q49.67 734.63 50.01 735.28Q50.36 735.94 50.40 736.71Q50.45 737.47 50.38 738.19Z" fill="url(#tumshade)"/>
<ellipse cx="42.24" cy="738.23" rx="1.10" ry="0.86" fill="#fff4e6" opacity="0.27"/>
<ellipse cx="42.95" cy="740.05" rx="0.95" ry="1.08" fill="#fff4e6" opacity="0.54"/>
<ellipse cx="46.67" cy="737.36" rx="0.91" ry="0.55" fill="#fff4e6" opacity="0.37"/>
<ellipse cx="66.60" cy="741.30" rx="4.76" ry="4.20" fill="#9a6a60" opacity="0.22"/>
<path d="M71.40 737.96Q71.40 738.60 71.29 739.21Q71.18 739.82 70.94 740.37Q70.70 740.92 70.45 741.47Q70.19 742.01 69.93 742.64Q69.67 743.26 69.23 743.81Q68.78 744.35 68.15 744.57Q67.52 744.79 66.86 744.76Q66.20 744.72 65.58 744.59Q64.95 744.45 64.36 744.24Q63.76 744.02 63.17 743.74Q62.58 743.46 62.02 743.06Q61.46 742.65 61.10 742.03Q60.75 741.41 60.69 740.69Q60.64 739.96 60.70 739.28Q60.76 738.60 60.84 737.96Q60.93 737.31 61.18 736.72Q61.42 736.14 61.82 735.67Q62.22 735.20 62.66 734.82Q63.10 734.44 63.56 734.10Q64.02 733.76 64.52 733.42Q65.02 733.07 65.61 732.68Q66.20 732.28 66.92 732.05Q67.64 731.83 68.34 732.05Q69.04 732.28 69.55 732.85Q70.06 733.42 70.41 734.06Q70.76 734.70 70.99 735.35Q71.23 736.01 71.32 736.67Q71.41 737.33 71.40 737.96Z" fill="url(#tumy)"/>
<path d="M71.40 737.96Q71.40 738.60 71.29 739.21Q71.18 739.82 70.94 740.37Q70.70 740.92 70.45 741.47Q70.19 742.01 69.93 742.64Q69.67 743.26 69.23 743.81Q68.78 744.35 68.15 744.57Q67.52 744.79 66.86 744.76Q66.20 744.72 65.58 744.59Q64.95 744.45 64.36 744.24Q63.76 744.02 63.17 743.74Q62.58 743.46 62.02 743.06Q61.46 742.65 61.10 742.03Q60.75 741.41 60.69 740.69Q60.64 739.96 60.70 739.28Q60.76 738.60 60.84 737.96Q60.93 737.31 61.18 736.72Q61.42 736.14 61.82 735.67Q62.22 735.20 62.66 734.82Q63.10 734.44 63.56 734.10Q64.02 733.76 64.52 733.42Q65.02 733.07 65.61 732.68Q66.20 732.28 66.92 732.05Q67.64 731.83 68.34 732.05Q69.04 732.28 69.55 732.85Q70.06 733.42 70.41 734.06Q70.76 734.70 70.99 735.35Q71.23 736.01 71.32 736.67Q71.41 737.33 71.40 737.96Z" fill="url(#tumshade)"/>
<ellipse cx="68.24" cy="739.32" rx="0.73" ry="0.56" fill="#fff4e6" opacity="0.27"/>
<ellipse cx="66.17" cy="737.73" rx="1.27" ry="0.66" fill="#fff4e6" opacity="0.54"/>
<ellipse cx="67.36" cy="738.97" rx="0.62" ry="1.02" fill="#fff4e6" opacity="0.29"/>
<ellipse cx="89.80" cy="740.28" rx="3.91" ry="4.48" fill="#9a6a60" opacity="0.22"/>
<path d="M94.01 736.65Q93.91 737.40 93.68 738.04Q93.45 738.69 93.23 739.25Q93.02 739.82 92.84 740.42Q92.65 741.01 92.42 741.64Q92.19 742.26 91.81 742.78Q91.44 743.29 90.95 743.56Q90.46 743.83 89.93 743.90Q89.40 743.98 88.87 743.95Q88.33 743.92 87.80 743.75Q87.26 743.58 86.79 743.18Q86.32 742.77 86.00 742.15Q85.68 741.53 85.51 740.82Q85.34 740.12 85.25 739.43Q85.16 738.75 85.07 738.07Q84.98 737.40 84.94 736.69Q84.91 735.98 85.06 735.28Q85.21 734.59 85.55 734.05Q85.89 733.51 86.31 733.12Q86.72 732.73 87.13 732.38Q87.54 732.03 87.97 731.68Q88.40 731.33 88.90 731.08Q89.40 730.84 89.94 730.83Q90.48 730.82 90.99 731.08Q91.50 731.34 91.94 731.76Q92.39 732.18 92.80 732.68Q93.20 733.18 93.53 733.80Q93.85 734.42 93.98 735.16Q94.11 735.90 94.01 736.65Z" fill="url(#tumy)"/>
<path d="M94.01 736.65Q93.91 737.40 93.68 738.04Q93.45 738.69 93.23 739.25Q93.02 739.82 92.84 740.42Q92.65 741.01 92.42 741.64Q92.19 742.26 91.81 742.78Q91.44 743.29 90.95 743.56Q90.46 743.83 89.93 743.90Q89.40 743.98 88.87 743.95Q88.33 743.92 87.80 743.75Q87.26 743.58 86.79 743.18Q86.32 742.77 86.00 742.15Q85.68 741.53 85.51 740.82Q85.34 740.12 85.25 739.43Q85.16 738.75 85.07 738.07Q84.98 737.40 84.94 736.69Q84.91 735.98 85.06 735.28Q85.21 734.59 85.55 734.05Q85.89 733.51 86.31 733.12Q86.72 732.73 87.13 732.38Q87.54 732.03 87.97 731.68Q88.40 731.33 88.90 731.08Q89.40 730.84 89.94 730.83Q90.48 730.82 90.99 731.08Q91.50 731.34 91.94 731.76Q92.39 732.18 92.80 732.68Q93.20 733.18 93.53 733.80Q93.85 734.42 93.98 735.16Q94.11 735.90 94.01 736.65Z" fill="url(#tumshade)"/>
<ellipse cx="89.41" cy="736.39" rx="1.22" ry="0.82" fill="#fff4e6" opacity="0.53"/>
<ellipse cx="88.74" cy="737.63" rx="0.84" ry="0.99" fill="#fff4e6" opacity="0.51"/>
<ellipse cx="112.80" cy="744.50" rx="7.22" ry="7.00" fill="#9a6a60" opacity="0.22"/>
<path d="M120.08 739.03Q120.52 740.00 120.64 741.12Q120.77 742.25 120.56 743.38Q120.35 744.51 119.95 745.60Q119.54 746.70 118.83 747.57Q118.12 748.44 117.22 749.00Q116.31 749.55 115.36 749.95Q114.41 750.36 113.40 750.41Q112.40 750.46 111.49 749.92Q110.58 749.37 109.84 748.71Q109.10 748.05 108.31 747.62Q107.52 747.19 106.72 746.64Q105.92 746.08 105.32 745.22Q104.72 744.35 104.31 743.32Q103.91 742.28 103.82 741.14Q103.73 740.00 104.03 738.92Q104.34 737.84 104.69 736.83Q105.05 735.83 105.35 734.76Q105.66 733.68 106.27 732.76Q106.87 731.85 107.76 731.35Q108.65 730.85 109.57 730.47Q110.48 730.10 111.44 729.82Q112.40 729.54 113.39 729.65Q114.39 729.75 115.32 730.18Q116.24 730.61 117.04 731.30Q117.83 731.98 118.28 733.02Q118.73 734.06 118.87 735.16Q119.02 736.25 119.33 737.15Q119.63 738.06 120.08 739.03Z" fill="url(#tum)"/>
<path d="M120.08 739.03Q120.52 740.00 120.64 741.12Q120.77 742.25 120.56 743.38Q120.35 744.51 119.95 745.60Q119.54 746.70 118.83 747.57Q118.12 748.44 117.22 749.00Q116.31 749.55 115.36 749.95Q114.41 750.36 113.40 750.41Q112.40 750.46 111.49 749.92Q110.58 749.37 109.84 748.71Q109.10 748.05 108.31 747.62Q107.52 747.19 106.72 746.64Q105.92 746.08 105.32 745.22Q104.72 744.35 104.31 743.32Q103.91 742.28 103.82 741.14Q103.73 740.00 104.03 738.92Q104.34 737.84 104.69 736.83Q105.05 735.83 105.35 734.76Q105.66 733.68 106.27 732.76Q106.87 731.85 107.76 731.35Q108.65 730.85 109.57 730.47Q110.48 730.10 111.44 729.82Q112.40 729.54 113.39 729.65Q114.39 729.75 115.32 730.18Q116.24 730.61 117.04 731.30Q117.83 731.98 118.28 733.02Q118.73 734.06 118.87 735.16Q119.02 736.25 119.33 737.15Q119.63 738.06 120.08 739.03Z" fill="url(#tumshade)"/>
<ellipse cx="113.29" cy="736.36" rx="0.88" ry="0.81" fill="#fff4e6" opacity="0.36"/>
<ellipse cx="110.99" cy="733.90" rx="0.85" ry="0.90" fill="#fff4e6" opacity="0.52"/>
<ellipse cx="116.94" cy="739.73" rx="0.97" ry="0.64" fill="#fff4e6" opacity="0.55"/>
<ellipse cx="110.98" cy="738.32" rx="1.15" ry="0.83" fill="#fff4e6" opacity="0.33"/>
<ellipse cx="110.00" cy="739.99" rx="1.00" ry="0.54" fill="#fff4e6" opacity="0.27"/>
<ellipse cx="111.52" cy="738.11" rx="1.20" ry="0.73" fill="#fff4e6" opacity="0.37"/>
<ellipse cx="114.12" cy="737.68" rx="0.61" ry="0.63" fill="#fff4e6" opacity="0.44"/>
<ellipse cx="112.48" cy="737.20" rx="1.48" ry="0.66" fill="#fff4e6" opacity="0.54"/>
<ellipse cx="136.40" cy="743.05" rx="8.07" ry="6.30" fill="#9a6a60" opacity="0.22"/>
<path d="M144.77 738.09Q145.15 739.00 145.05 739.97Q144.95 740.93 144.70 741.89Q144.44 742.85 144.11 743.86Q143.77 744.87 143.04 745.69Q142.32 746.50 141.34 747.05Q140.37 747.61 139.33 748.04Q138.28 748.48 137.14 748.51Q136.00 748.53 134.97 748.06Q133.93 747.58 133.01 747.14Q132.09 746.70 131.10 746.34Q130.12 745.99 129.34 745.30Q128.57 744.61 128.13 743.70Q127.69 742.79 127.35 741.87Q127.00 740.95 126.92 739.97Q126.84 739.00 127.10 738.07Q127.37 737.13 127.60 736.20Q127.83 735.27 128.12 734.27Q128.41 733.27 129.16 732.51Q129.90 731.76 130.87 731.28Q131.84 730.81 132.81 730.29Q133.78 729.77 134.89 729.45Q136.00 729.12 137.14 729.34Q138.28 729.55 139.29 730.03Q140.31 730.52 141.16 731.19Q142.01 731.86 142.47 732.81Q142.93 733.76 143.18 734.69Q143.44 735.61 143.91 736.40Q144.39 737.19 144.77 738.09Z" fill="url(#tum)"/>
<path d="M144.77 738.09Q145.15 739.00 145.05 739.97Q144.95 740.93 144.70 741.89Q144.44 742.85 144.11 743.86Q143.77 744.87 143.04 745.69Q142.32 746.50 141.34 747.05Q140.37 747.61 139.33 748.04Q138.28 748.48 137.14 748.51Q136.00 748.53 134.97 748.06Q133.93 747.58 133.01 747.14Q132.09 746.70 131.10 746.34Q130.12 745.99 129.34 745.30Q128.57 744.61 128.13 743.70Q127.69 742.79 127.35 741.87Q127.00 740.95 126.92 739.97Q126.84 739.00 127.10 738.07Q127.37 737.13 127.60 736.20Q127.83 735.27 128.12 734.27Q128.41 733.27 129.16 732.51Q129.90 731.76 130.87 731.28Q131.84 730.81 132.81 730.29Q133.78 729.77 134.89 729.45Q136.00 729.12 137.14 729.34Q138.28 729.55 139.29 730.03Q140.31 730.52 141.16 731.19Q142.01 731.86 142.47 732.81Q142.93 733.76 143.18 734.69Q143.44 735.61 143.91 736.40Q144.39 737.19 144.77 738.09Z" fill="url(#tumshade)"/>
<ellipse cx="138.36" cy="736.46" rx="0.64" ry="0.88" fill="#fff4e6" opacity="0.49"/>
<ellipse cx="134.33" cy="739.17" rx="0.82" ry="0.72" fill="#fff4e6" opacity="0.37"/>
<ellipse cx="133.67" cy="739.13" rx="0.68" ry="0.74" fill="#fff4e6" opacity="0.55"/>
<ellipse cx="136.06" cy="739.38" rx="1.13" ry="1.00" fill="#fff4e6" opacity="0.36"/>
<ellipse cx="133.39" cy="734.54" rx="0.75" ry="0.66" fill="#fff4e6" opacity="0.56"/>
<ellipse cx="133.47" cy="738.31" rx="0.79" ry="0.81" fill="#fff4e6" opacity="0.59"/>
<ellipse cx="134.07" cy="735.58" rx="0.93" ry="0.92" fill="#fff4e6" opacity="0.38"/>
<ellipse cx="136.71" cy="738.54" rx="1.18" ry="0.84" fill="#fff4e6" opacity="0.51"/>
<ellipse cx="164.00" cy="743.73" rx="7.22" ry="7.35" fill="#9a6a60" opacity="0.22"/>
<path d="M172.15 737.82Q172.34 739.00 172.18 740.19Q172.02 741.37 171.57 742.42Q171.12 743.47 170.47 744.31Q169.83 745.14 169.11 745.77Q168.38 746.41 167.68 747.04Q166.98 747.67 166.22 748.39Q165.47 749.10 164.53 749.57Q163.60 750.05 162.58 750.03Q161.56 750.02 160.58 749.63Q159.60 749.25 158.73 748.57Q157.86 747.89 157.21 746.92Q156.56 745.94 156.18 744.79Q155.80 743.64 155.67 742.46Q155.54 741.27 155.68 740.14Q155.81 739.00 156.06 737.97Q156.31 736.94 156.48 735.90Q156.64 734.86 156.85 733.71Q157.07 732.56 157.59 731.53Q158.11 730.49 158.92 729.78Q159.73 729.07 160.68 728.69Q161.63 728.31 162.61 728.27Q163.60 728.24 164.55 728.46Q165.51 728.68 166.42 729.05Q167.34 729.41 168.17 730.01Q169.01 730.62 169.64 731.53Q170.27 732.43 170.72 733.47Q171.17 734.50 171.56 735.57Q171.95 736.65 172.15 737.82Z" fill="url(#tum)"/>
<path d="M172.15 737.82Q172.34 739.00 172.18 740.19Q172.02 741.37 171.57 742.42Q171.12 743.47 170.47 744.31Q169.83 745.14 169.11 745.77Q168.38 746.41 167.68 747.04Q166.98 747.67 166.22 748.39Q165.47 749.10 164.53 749.57Q163.60 750.05 162.58 750.03Q161.56 750.02 160.58 749.63Q159.60 749.25 158.73 748.57Q157.86 747.89 157.21 746.92Q156.56 745.94 156.18 744.79Q155.80 743.64 155.67 742.46Q155.54 741.27 155.68 740.14Q155.81 739.00 156.06 737.97Q156.31 736.94 156.48 735.90Q156.64 734.86 156.85 733.71Q157.07 732.56 157.59 731.53Q158.11 730.49 158.92 729.78Q159.73 729.07 160.68 728.69Q161.63 728.31 162.61 728.27Q163.60 728.24 164.55 728.46Q165.51 728.68 166.42 729.05Q167.34 729.41 168.17 730.01Q169.01 730.62 169.64 731.53Q170.27 732.43 170.72 733.47Q171.17 734.50 171.56 735.57Q171.95 736.65 172.15 737.82Z" fill="url(#tumshade)"/>
<ellipse cx="161.56" cy="734.32" rx="1.48" ry="1.00" fill="#fff4e6" opacity="0.39"/>
<ellipse cx="162.27" cy="735.39" rx="1.26" ry="0.66" fill="#fff4e6" opacity="0.53"/>
<ellipse cx="163.32" cy="742.19" rx="1.37" ry="0.90" fill="#fff4e6" opacity="0.34"/>
<ellipse cx="162.81" cy="737.80" rx="1.37" ry="1.01" fill="#fff4e6" opacity="0.59"/>
<ellipse cx="162.30" cy="740.85" rx="0.89" ry="1.06" fill="#fff4e6" opacity="0.27"/>
<ellipse cx="165.12" cy="742.15" rx="0.84" ry="1.01" fill="#fff4e6" opacity="0.46"/>
<ellipse cx="161.05" cy="736.88" rx="0.76" ry="1.00" fill="#fff4e6" opacity="0.36"/>
<ellipse cx="163.55" cy="737.37" rx="1.04" ry="0.63" fill="#fff4e6" opacity="0.30"/>
<ellipse cx="186.80" cy="744.32" rx="4.25" ry="4.55" fill="#9a6a60" opacity="0.22"/>
<path d="M191.52 740.67Q191.70 741.40 191.73 742.20Q191.76 742.99 191.55 743.74Q191.34 744.49 190.91 745.06Q190.49 745.64 189.99 746.03Q189.48 746.43 188.99 746.74Q188.50 747.06 187.99 747.34Q187.49 747.62 186.95 747.76Q186.40 747.90 185.85 747.78Q185.30 747.67 184.81 747.33Q184.33 746.99 183.92 746.55Q183.50 746.12 183.12 745.66Q182.73 745.21 182.36 744.68Q182.00 744.16 181.74 743.51Q181.48 742.86 181.39 742.13Q181.31 741.40 181.36 740.66Q181.42 739.92 181.56 739.19Q181.70 738.45 181.93 737.73Q182.16 737.00 182.55 736.39Q182.95 735.78 183.51 735.44Q184.07 735.10 184.68 735.09Q185.29 735.07 185.84 735.24Q186.40 735.41 186.89 735.59Q187.39 735.77 187.88 735.93Q188.37 736.09 188.85 736.36Q189.33 736.62 189.75 737.06Q190.17 737.49 190.49 738.06Q190.82 738.63 191.08 739.28Q191.33 739.94 191.52 740.67Z" fill="url(#tumy)"/>
<path d="M191.52 740.67Q191.70 741.40 191.73 742.20Q191.76 742.99 191.55 743.74Q191.34 744.49 190.91 745.06Q190.49 745.64 189.99 746.03Q189.48 746.43 188.99 746.74Q188.50 747.06 187.99 747.34Q187.49 747.62 186.95 747.76Q186.40 747.90 185.85 747.78Q185.30 747.67 184.81 747.33Q184.33 746.99 183.92 746.55Q183.50 746.12 183.12 745.66Q182.73 745.21 182.36 744.68Q182.00 744.16 181.74 743.51Q181.48 742.86 181.39 742.13Q181.31 741.40 181.36 740.66Q181.42 739.92 181.56 739.19Q181.70 738.45 181.93 737.73Q182.16 737.00 182.55 736.39Q182.95 735.78 183.51 735.44Q184.07 735.10 184.68 735.09Q185.29 735.07 185.84 735.24Q186.40 735.41 186.89 735.59Q187.39 735.77 187.88 735.93Q188.37 736.09 188.85 736.36Q189.33 736.62 189.75 737.06Q190.17 737.49 190.49 738.06Q190.82 738.63 191.08 739.28Q191.33 739.94 191.52 740.67Z" fill="url(#tumshade)"/>
<ellipse cx="187.25" cy="741.42" rx="1.37" ry="0.77" fill="#fff4e6" opacity="0.33"/>
<ellipse cx="185.95" cy="739.59" rx="1.13" ry="0.64" fill="#fff4e6" opacity="0.51"/>
<ellipse cx="187.22" cy="740.71" rx="1.44" ry="0.55" fill="#fff4e6" opacity="0.39"/>
<rect x="5.6" y="691.4" width="197.8" height="89.2" fill="none" stroke="#222" stroke-width="1.3"/>
<text x="209.00" y="723.40" font-size="11" fill="#1a1a1a">-PTX</text>
<text x="207.00" y="745.40" font-size="11" fill="#1a1a1a">+PTX</text>
<text x="32.40" y="409.40" font-size="10" fill="#1a1a1a" text-anchor="middle" stroke="#1a1a1a" stroke-width="0.12">EV-fused</text>
<text x="33.50" y="422.40" font-size="10.2" fill="#1a1a1a" text-anchor="middle" stroke="#1a1a1a" stroke-width="0.12">A549 cells</text>
<text x="33.70" y="436.00" font-size="10" fill="#1a1a1a" text-anchor="middle">(1 X10<tspan font-size="6.5" dy="-3.5">6</tspan><tspan dy="3.5">)</tspan></text>
<line x1="33.00" y1="491.30" x2="671.00" y2="491.30" stroke="#000" stroke-width="2.0"/>
<path d="M669 487.6L677.6 491.3L669 495Z" fill="#000"/>
<line x1="33.60" y1="491.00" x2="33.60" y2="501.00" stroke="#000" stroke-width="1.6"/>
<path d="M31.00 500.5L36.20 500.5L33.60 506.3Z" fill="#000"/>
<line x1="81.00" y1="491.00" x2="81.00" y2="501.00" stroke="#000" stroke-width="1.6"/>
<path d="M78.40 500.5L83.60 500.5L81.00 506.3Z" fill="#000"/>
<line x1="125.60" y1="491.00" x2="125.60" y2="501.00" stroke="#000" stroke-width="1.6"/>
<path d="M123.00 500.5L128.20 500.5L125.60 506.3Z" fill="#000"/>
<line x1="172.40" y1="491.00" x2="172.40" y2="501.00" stroke="#000" stroke-width="1.6"/>
<path d="M169.80 500.5L175.00 500.5L172.40 506.3Z" fill="#000"/>
<line x1="217.60" y1="491.00" x2="217.60" y2="501.00" stroke="#000" stroke-width="1.6"/>
<path d="M215.00 500.5L220.20 500.5L217.60 506.3Z" fill="#000"/>
<line x1="263.60" y1="491.00" x2="263.60" y2="501.00" stroke="#000" stroke-width="1.6"/>
<path d="M261.00 500.5L266.20 500.5L263.60 506.3Z" fill="#000"/>
<line x1="311.00" y1="491.00" x2="311.00" y2="501.00" stroke="#000" stroke-width="1.6"/>
<path d="M308.40 500.5L313.60 500.5L311.00 506.3Z" fill="#000"/>
<line x1="359.60" y1="491.00" x2="359.60" y2="501.00" stroke="#000" stroke-width="1.6"/>
<path d="M357.00 500.5L362.20 500.5L359.60 506.3Z" fill="#000"/>
<line x1="432.40" y1="491.00" x2="432.40" y2="501.00" stroke="#000" stroke-width="1.6"/>
<path d="M429.80 500.5L435.00 500.5L432.40 506.3Z" fill="#000"/>
<line x1="505.40" y1="491.00" x2="505.40" y2="501.00" stroke="#000" stroke-width="1.6"/>
<path d="M502.80 500.5L508.00 500.5L505.40 506.3Z" fill="#000"/>
<line x1="645.50" y1="492.30" x2="645.50" y2="501.00" stroke="#e51d1d" stroke-width="1.6"/>
<path d="M642.90 500.5L648.10 500.5L645.50 506.3Z" fill="#e51d1d"/>
<text x="33.40" y="518.60" font-size="11" fill="#1a1a1a" text-anchor="middle" stroke="#1a1a1a" stroke-width="0.12">Day 0</text>
<text x="81.00" y="518.60" font-size="11" fill="#1a1a1a" text-anchor="middle" stroke="#1a1a1a" stroke-width="0.12">Day 2</text>
<text x="126.00" y="518.60" font-size="11" fill="#1a1a1a" text-anchor="middle" stroke="#1a1a1a" stroke-width="0.12">Day 4</text>
<text x="172.70" y="518.60" font-size="11" fill="#1a1a1a" text-anchor="middle" stroke="#1a1a1a" stroke-width="0.12">Day 6</text>
<text x="218.00" y="518.60" font-size="11" fill="#1a1a1a" text-anchor="middle" stroke="#1a1a1a" stroke-width="0.12">Day 8</text>
<text x="268.30" y="518.60" font-size="11" fill="#1a1a1a" text-anchor="middle" stroke="#1a1a1a" stroke-width="0.12">Day 10</text>
<text x="314.70" y="518.60" font-size="11" fill="#1a1a1a" text-anchor="middle" stroke="#1a1a1a" stroke-width="0.12">Day 12</text>
<text x="359.70" y="518.60" font-size="11" fill="#1a1a1a" text-anchor="middle" stroke="#1a1a1a" stroke-width="0.12">Day 14</text>
<text x="433.00" y="518.60" font-size="11" fill="#1a1a1a" text-anchor="middle" stroke="#1a1a1a" stroke-width="0.12">Day 17</text>
<text x="506.20" y="518.60" font-size="11" fill="#1a1a1a" text-anchor="middle" stroke="#1a1a1a" stroke-width="0.12">Day 20</text>
<text x="647.40" y="518.60" font-size="11" fill="#1a1a1a" text-anchor="middle" stroke="#1a1a1a" stroke-width="0.12">Day 26</text>
<path d="M32.4 528 L32.4 535.4 Q32.4 537.4 34.4 537.4 L358 537.4 Q360 537.4 360 535.4 L360 529" fill="none" stroke="#333" stroke-width="1.3"/>
<line x1="196.00" y1="537.40" x2="196.00" y2="546.00" stroke="#333" stroke-width="1.3"/>
<text x="196.20" y="558.00" font-size="10.1" fill="#1a1a1a" text-anchor="middle" stroke="#1a1a1a" stroke-width="0.12">Tumor volume</text>
<text x="196.20" y="569.40" font-size="10.1" fill="#1a1a1a" text-anchor="middle" stroke="#1a1a1a" stroke-width="0.12">measurement</text>
<text x="362.20" y="558.00" font-size="10.1" fill="#1a1a1a" text-anchor="middle" stroke="#1a1a1a" stroke-width="0.12">Tumor volume</text>
<text x="362.50" y="570.40" font-size="10.2" fill="#1a1a1a" text-anchor="middle">~100 mm<tspan font-size="6.5" dy="-3.5">3</tspan></text>
<text x="404.00" y="398.00" font-size="9.6" fill="#1a1a1a" text-anchor="middle" stroke="#1a1a1a" stroke-width="0.12">PTX (10 mg/kg</text>
<text x="404.00" y="411.00" font-size="10" fill="#1a1a1a" text-anchor="middle" stroke="#1a1a1a" stroke-width="0.12">body weight)</text>
<path d="M331.4 432 L331.4 425 Q331.4 423 333.4 423 L475 423 Q477 423 477 425 L477 432" fill="none" stroke="#333" stroke-width="1.3"/>
<line x1="404.00" y1="423.00" x2="404.00" y2="415.00" stroke="#333" stroke-width="1.3"/>
<text x="333.50" y="445.00" font-size="9.8" fill="#3a7bc8" text-anchor="middle">Dose 1</text>
<text x="405.00" y="445.00" font-size="9.8" fill="#3a7bc8" text-anchor="middle">Dose 2</text>
<text x="477.30" y="445.00" font-size="9.8" fill="#3a7bc8" text-anchor="middle">Dose 3</text>
<text x="647.40" y="540.50" font-size="10.3" fill="#1a1a1a" text-anchor="middle" stroke="#1a1a1a" stroke-width="0.12">Mice sacrificed,</text>
<text x="647.30" y="552.60" font-size="10" fill="#1a1a1a" text-anchor="middle" stroke="#1a1a1a" stroke-width="0.12">Tumor excised</text>
<ellipse cx="444.9" cy="581.2" rx="4.4" ry="3.7" fill="#000"/>
<text x="456.90" y="585.30" font-size="11" fill="#1a1a1a">-PTX</text>
<path d="M444.20 589.20L449.40 597.00L439.00 597.00Z" fill="#000"/>
<text x="453.70" y="598.60" font-size="11" fill="#1a1a1a">+PTX</text>
<line x1="431.60" y1="690.80" x2="431.60" y2="597.40" stroke="#1a1a1a" stroke-width="1.4"/>
<line x1="427.60" y1="690.20" x2="431.60" y2="690.20" stroke="#1a1a1a" stroke-width="1.2"/>
<text x="425.60" y="693.66" font-size="9.6" fill="#1a1a1a" text-anchor="end">0</text>
<line x1="429.30" y1="684.05" x2="431.60" y2="684.05" stroke="#1a1a1a" stroke-width="1.1"/>
<line x1="429.30" y1="677.91" x2="431.60" y2="677.91" stroke="#1a1a1a" stroke-width="1.1"/>
<line x1="429.30" y1="671.76" x2="431.60" y2="671.76" stroke="#1a1a1a" stroke-width="1.1"/>
<line x1="429.30" y1="665.61" x2="431.60" y2="665.61" stroke="#1a1a1a" stroke-width="1.1"/>
<line x1="427.60" y1="659.47" x2="431.60" y2="659.47" stroke="#1a1a1a" stroke-width="1.2"/>
<text x="425.60" y="662.92" font-size="9.6" fill="#1a1a1a" text-anchor="end">500</text>
<line x1="429.30" y1="653.32" x2="431.60" y2="653.32" stroke="#1a1a1a" stroke-width="1.1"/>
<line x1="429.30" y1="647.17" x2="431.60" y2="647.17" stroke="#1a1a1a" stroke-width="1.1"/>
<line x1="429.30" y1="641.03" x2="431.60" y2="641.03" stroke="#1a1a1a" stroke-width="1.1"/>
<line x1="429.30" y1="634.88" x2="431.60" y2="634.88" stroke="#1a1a1a" stroke-width="1.1"/>
<line x1="427.60" y1="628.73" x2="431.60" y2="628.73" stroke="#1a1a1a" stroke-width="1.2"/>
<text x="425.60" y="632.19" font-size="9.6" fill="#1a1a1a" text-anchor="end">1000</text>
<line x1="429.30" y1="622.59" x2="431.60" y2="622.59" stroke="#1a1a1a" stroke-width="1.1"/>
<line x1="429.30" y1="616.44" x2="431.60" y2="616.44" stroke="#1a1a1a" stroke-width="1.1"/>
<line x1="429.30" y1="610.29" x2="431.60" y2="610.29" stroke="#1a1a1a" stroke-width="1.1"/>
<line x1="429.30" y1="604.15" x2="431.60" y2="604.15" stroke="#1a1a1a" stroke-width="1.1"/>
<line x1="427.60" y1="598.00" x2="431.60" y2="598.00" stroke="#1a1a1a" stroke-width="1.2"/>
<text x="425.60" y="601.46" font-size="9.6" fill="#1a1a1a" text-anchor="end">1500</text>
<line x1="430.90" y1="690.40" x2="657.00" y2="690.40" stroke="#1a1a1a" stroke-width="1.4"/>
<line x1="443.80" y1="690.40" x2="443.80" y2="693.40" stroke="#1a1a1a" stroke-width="1.1"/>
<text transform="translate(447.10,694.20) rotate(-90) scale(0.98,1)" font-size="10" fill="#1a1a1a" text-anchor="end">No EVs</text>
<line x1="472.70" y1="690.40" x2="472.70" y2="693.40" stroke="#1a1a1a" stroke-width="1.1"/>
<text transform="translate(476.00,694.20) rotate(-90) scale(0.98,1)" font-size="10" fill="#1a1a1a" text-anchor="end">Con EVs</text>
<line x1="501.30" y1="690.40" x2="501.30" y2="693.40" stroke="#1a1a1a" stroke-width="1.1"/>
<text transform="translate(504.60,694.20) rotate(-90) scale(0.98,1)" font-size="10" fill="#1a1a1a" text-anchor="end">Scr miR Con EVs</text>
<line x1="530.00" y1="690.40" x2="530.00" y2="693.40" stroke="#1a1a1a" stroke-width="1.1"/>
<text transform="translate(533.30,694.20) rotate(-90) scale(0.98,1)" font-size="10" fill="#1a1a1a" text-anchor="end">Anti-miR Con EVs</text>
<line x1="558.60" y1="690.40" x2="558.60" y2="693.40" stroke="#1a1a1a" stroke-width="1.1"/>
<text transform="translate(561.90,694.20) rotate(-90) scale(0.98,1)" font-size="10" fill="#1a1a1a" text-anchor="end">Mimic Con EVs</text>
<line x1="587.50" y1="690.40" x2="587.50" y2="693.40" stroke="#1a1a1a" stroke-width="1.1"/>
<text transform="translate(590.80,694.20) rotate(-90) scale(0.98,1)" font-size="10" fill="#1a1a1a" text-anchor="end">aPC EVs</text>
<line x1="615.80" y1="690.40" x2="615.80" y2="693.40" stroke="#1a1a1a" stroke-width="1.1"/>
<text transform="translate(619.10,694.20) rotate(-90) scale(0.98,1)" font-size="10" fill="#1a1a1a" text-anchor="end">Scr miR aPC EVs</text>
<line x1="644.60" y1="690.40" x2="644.60" y2="693.40" stroke="#1a1a1a" stroke-width="1.1"/>
<text transform="translate(647.90,694.20) rotate(-90) scale(0.98,1)" font-size="10" fill="#1a1a1a" text-anchor="end">Anti-miR aPC EVs</text>
<text transform="translate(399.80,688.70) rotate(-90) scale(0.965,1)" font-size="10" fill="#1a1a1a">Tumor Volume (mm<tspan font-size="6.8" dy="-5">3</tspan><tspan dy="5">)</tspan></text>
<circle cx="438.60" cy="630.10" r="2.7" fill="#3fa3b0"/>
<circle cx="436.90" cy="637.70" r="2.7" fill="#3fa3b0"/>
<circle cx="440.60" cy="641.20" r="2.7" fill="#3fa3b0"/>
<circle cx="436.70" cy="642.80" r="2.7" fill="#3fa3b0"/>
<circle cx="438.60" cy="653.20" r="2.7" fill="#3fa3b0"/>
<circle cx="438.60" cy="659.60" r="2.7" fill="#3fa3b0"/>
<line x1="435.10" y1="641.80" x2="441.80" y2="641.80" stroke="#1a1a1a" stroke-width="1.3"/>
<path d="M449.30 667.40L452.10 672.40L446.50 672.40Z" fill="#8cbcf2"/>
<path d="M447.40 673.10L450.20 678.10L444.60 678.10Z" fill="#8cbcf2"/>
<path d="M451.00 674.10L453.80 679.10L448.20 679.10Z" fill="#8cbcf2"/>
<path d="M447.50 677.70L450.30 682.70L444.70 682.70Z" fill="#8cbcf2"/>
<path d="M451.20 680.60L454.00 685.60L448.40 685.60Z" fill="#8cbcf2"/>
<path d="M447.40 683.60L450.20 688.60L444.60 688.60Z" fill="#8cbcf2"/>
<line x1="446.00" y1="678.20" x2="453.00" y2="678.20" stroke="#1a1a1a" stroke-width="1.3"/>
<circle cx="467.40" cy="623.40" r="2.7" fill="#f07d1e"/>
<circle cx="467.40" cy="630.00" r="2.7" fill="#f07d1e"/>
<circle cx="467.40" cy="636.00" r="2.7" fill="#f07d1e"/>
<circle cx="467.40" cy="643.00" r="2.7" fill="#f07d1e"/>
<circle cx="467.40" cy="649.40" r="2.7" fill="#f07d1e"/>
<circle cx="467.40" cy="658.60" r="2.7" fill="#f07d1e"/>
<line x1="464.00" y1="640.00" x2="471.00" y2="640.00" stroke="#1a1a1a" stroke-width="1.3"/>
<path d="M479.60 669.50L482.40 674.50L476.80 674.50Z" fill="#eeb474"/>
<path d="M476.00 672.00L478.80 677.00L473.20 677.00Z" fill="#eeb474"/>
<path d="M479.60 676.00L482.40 681.00L476.80 681.00Z" fill="#eeb474"/>
<path d="M476.60 681.50L479.40 686.50L473.80 686.50Z" fill="#eeb474"/>
<path d="M479.20 679.50L482.00 684.50L476.40 684.50Z" fill="#eeb474"/>
<path d="M476.00 677.50L478.80 682.50L473.20 682.50Z" fill="#eeb474"/>
<line x1="474.40" y1="678.40" x2="482.00" y2="678.40" stroke="#1a1a1a" stroke-width="1.3"/>
<circle cx="496.00" cy="624.00" r="2.7" fill="#55dd22"/>
<circle cx="496.00" cy="629.40" r="2.7" fill="#55dd22"/>
<circle cx="496.00" cy="637.00" r="2.7" fill="#55dd22"/>
<circle cx="496.00" cy="642.60" r="2.7" fill="#55dd22"/>
<circle cx="496.00" cy="647.40" r="2.7" fill="#55dd22"/>
<circle cx="496.00" cy="654.00" r="2.7" fill="#55dd22"/>
<line x1="492.60" y1="641.00" x2="499.40" y2="641.00" stroke="#1a1a1a" stroke-width="1.3"/>
<path d="M508.00 666.50L510.80 671.50L505.20 671.50Z" fill="#9cf09c"/>
<path d="M505.00 668.00L507.80 673.00L502.20 673.00Z" fill="#9cf09c"/>
<path d="M505.00 674.90L507.80 679.90L502.20 679.90Z" fill="#9cf09c"/>
<path d="M509.40 676.50L512.20 681.50L506.60 681.50Z" fill="#9cf09c"/>
<path d="M506.60 684.90L509.40 689.90L503.80 689.90Z" fill="#9cf09c"/>
<path d="M507.00 670.50L509.80 675.50L504.20 675.50Z" fill="#9cf09c"/>
<line x1="503.00" y1="674.40" x2="510.00" y2="674.40" stroke="#1a1a1a" stroke-width="1.3"/>
<circle cx="524.60" cy="612.60" r="2.7" fill="#5f5f5f"/>
<circle cx="524.60" cy="630.00" r="2.7" fill="#5f5f5f"/>
<circle cx="526.60" cy="638.40" r="2.7" fill="#5f5f5f"/>
<circle cx="522.60" cy="641.00" r="2.7" fill="#5f5f5f"/>
<circle cx="524.60" cy="647.40" r="2.7" fill="#5f5f5f"/>
<circle cx="524.60" cy="658.00" r="2.7" fill="#5f5f5f"/>
<line x1="521.00" y1="640.60" x2="528.00" y2="640.60" stroke="#1a1a1a" stroke-width="1.3"/>
<path d="M537.40 670.10L540.20 675.10L534.60 675.10Z" fill="#a9a9a9"/>
<path d="M533.00 671.90L535.80 676.90L530.20 676.90Z" fill="#a9a9a9"/>
<path d="M536.00 676.50L538.80 681.50L533.20 681.50Z" fill="#a9a9a9"/>
<path d="M534.00 682.10L536.80 687.10L531.20 687.10Z" fill="#a9a9a9"/>
<path d="M537.00 680.50L539.80 685.50L534.20 685.50Z" fill="#a9a9a9"/>
<path d="M535.00 674.50L537.80 679.50L532.20 679.50Z" fill="#a9a9a9"/>
<line x1="532.00" y1="679.40" x2="539.00" y2="679.40" stroke="#1a1a1a" stroke-width="1.3"/>
<circle cx="553.00" cy="620.00" r="2.7" fill="#cc22ee"/>
<circle cx="551.00" cy="634.00" r="2.7" fill="#cc22ee"/>
<circle cx="555.00" cy="637.40" r="2.7" fill="#cc22ee"/>
<circle cx="553.60" cy="646.40" r="2.7" fill="#cc22ee"/>
<circle cx="555.00" cy="650.60" r="2.7" fill="#cc22ee"/>
<circle cx="551.40" cy="654.00" r="2.7" fill="#cc22ee"/>
<line x1="549.60" y1="642.40" x2="556.60" y2="642.40" stroke="#1a1a1a" stroke-width="1.3"/>
<path d="M564.00 625.50L566.80 630.50L561.20 630.50Z" fill="#d899f2"/>
<path d="M564.00 639.90L566.80 644.90L561.20 644.90Z" fill="#d899f2"/>
<path d="M564.00 646.90L566.80 651.90L561.20 651.90Z" fill="#d899f2"/>
<path d="M564.00 653.50L566.80 658.50L561.20 658.50Z" fill="#d899f2"/>
<path d="M564.00 658.90L566.80 663.90L561.20 663.90Z" fill="#d899f2"/>
<path d="M564.00 663.50L566.80 668.50L561.20 668.50Z" fill="#d899f2"/>
<line x1="560.60" y1="652.40" x2="567.60" y2="652.40" stroke="#1a1a1a" stroke-width="1.3"/>
<circle cx="581.80" cy="610.30" r="2.7" fill="#1010f5"/>
<circle cx="581.80" cy="630.00" r="2.7" fill="#1010f5"/>
<circle cx="583.80" cy="638.50" r="2.7" fill="#1010f5"/>
<circle cx="580.00" cy="641.60" r="2.7" fill="#1010f5"/>
<circle cx="580.00" cy="653.40" r="2.7" fill="#1010f5"/>
<circle cx="583.80" cy="653.40" r="2.7" fill="#1010f5"/>
<line x1="578.40" y1="640.00" x2="586.00" y2="640.00" stroke="#1a1a1a" stroke-width="1.3"/>
<path d="M592.70 620.70L595.50 625.70L589.90 625.70Z" fill="#8a8af5"/>
<path d="M592.70 627.40L595.50 632.40L589.90 632.40Z" fill="#8a8af5"/>
<path d="M592.70 635.80L595.50 640.80L589.90 640.80Z" fill="#8a8af5"/>
<path d="M592.70 646.00L595.50 651.00L589.90 651.00Z" fill="#8a8af5"/>
<path d="M594.80 654.40L597.60 659.40L592.00 659.40Z" fill="#8a8af5"/>
<path d="M591.00 657.60L593.80 662.60L588.20 662.60Z" fill="#8a8af5"/>
<line x1="589.40" y1="643.00" x2="596.00" y2="643.00" stroke="#1a1a1a" stroke-width="1.3"/>
<circle cx="610.60" cy="622.80" r="2.7" fill="#1f6a1f"/>
<circle cx="610.60" cy="629.90" r="2.7" fill="#1f6a1f"/>
<circle cx="610.60" cy="639.60" r="2.7" fill="#1f6a1f"/>
<circle cx="610.60" cy="644.20" r="2.7" fill="#1f6a1f"/>
<circle cx="610.60" cy="648.90" r="2.7" fill="#1f6a1f"/>
<circle cx="610.60" cy="654.20" r="2.7" fill="#1f6a1f"/>
<line x1="607.00" y1="642.50" x2="614.00" y2="642.50" stroke="#1a1a1a" stroke-width="1.3"/>
<path d="M621.50 627.10L624.30 632.10L618.70 632.10Z" fill="#33ee11"/>
<path d="M621.50 635.50L624.30 640.50L618.70 640.50Z" fill="#33ee11"/>
<path d="M621.50 639.60L624.30 644.60L618.70 644.60Z" fill="#33ee11"/>
<path d="M621.50 648.90L624.30 653.90L618.70 653.90Z" fill="#33ee11"/>
<path d="M621.50 653.90L624.30 658.90L618.70 658.90Z" fill="#33ee11"/>
<path d="M621.50 659.00L624.30 664.00L618.70 664.00Z" fill="#33ee11"/>
<line x1="618.00" y1="646.30" x2="625.00" y2="646.30" stroke="#1a1a1a" stroke-width="1.3"/>
<circle cx="639.30" cy="622.50" r="2.7" fill="#a01818"/>
<circle cx="639.30" cy="632.00" r="2.7" fill="#a01818"/>
<circle cx="639.30" cy="640.50" r="2.7" fill="#a01818"/>
<circle cx="639.30" cy="647.50" r="2.7" fill="#a01818"/>
<circle cx="639.30" cy="652.60" r="2.7" fill="#a01818"/>
<circle cx="639.30" cy="656.90" r="2.7" fill="#a01818"/>
<line x1="636.00" y1="643.80" x2="643.00" y2="643.80" stroke="#777" stroke-width="1.3"/>
<path d="M648.00 667.30L650.80 672.30L645.20 672.30Z" fill="#f2a0a0"/>
<path d="M652.30 667.30L655.10 672.30L649.50 672.30Z" fill="#f2a0a0"/>
<path d="M650.20 674.90L653.00 679.90L647.40 679.90Z" fill="#f2a0a0"/>
<path d="M648.00 679.90L650.80 684.90L645.20 684.90Z" fill="#f2a0a0"/>
<path d="M652.30 679.90L655.10 684.90L649.50 684.90Z" fill="#f2a0a0"/>
<path d="M650.00 671.50L652.80 676.50L647.20 676.50Z" fill="#f2a0a0"/>
<line x1="647.00" y1="676.60" x2="654.00" y2="676.60" stroke="#1a1a1a" stroke-width="1.3"/>
<line x1="431.60" y1="690.20" x2="657.00" y2="690.20" stroke="#333" stroke-width="1.1"/>
<line x1="438.90" y1="622.60" x2="449.70" y2="622.60" stroke="#1a1a1a" stroke-width="1.2"/>
<polygon points="439.30,614.55 439.92,616.15 441.63,616.24 440.30,617.32 440.74,618.98 439.30,618.05 437.86,618.98 438.30,617.32 436.97,616.24 438.68,616.15" fill="#1a1a1a"/>
<polygon points="444.30,614.55 444.92,616.15 446.63,616.24 445.30,617.32 445.74,618.98 444.30,618.05 442.86,618.98 443.30,617.32 441.97,616.24 443.68,616.15" fill="#1a1a1a"/>
<polygon points="449.30,614.55 449.92,616.15 451.63,616.24 450.30,617.32 450.74,618.98 449.30,618.05 447.86,618.98 448.30,617.32 446.97,616.24 448.68,616.15" fill="#1a1a1a"/>
<line x1="467.40" y1="616.00" x2="478.00" y2="616.00" stroke="#1a1a1a" stroke-width="1.2"/>
<polygon points="465.20,607.95 465.82,609.55 467.53,609.64 466.20,610.72 466.64,612.38 465.20,611.45 463.76,612.38 464.20,610.72 462.87,609.64 464.58,609.55" fill="#1a1a1a"/>
<polygon points="470.20,607.95 470.82,609.55 472.53,609.64 471.20,610.72 471.64,612.38 470.20,611.45 468.76,612.38 469.20,610.72 467.87,609.64 469.58,609.55" fill="#1a1a1a"/>
<polygon points="475.20,607.95 475.82,609.55 477.53,609.64 476.20,610.72 476.64,612.38 475.20,611.45 473.76,612.38 474.20,610.72 472.87,609.64 474.58,609.55" fill="#1a1a1a"/>
<polygon points="480.20,607.95 480.82,609.55 482.53,609.64 481.20,610.72 481.64,612.38 480.20,611.45 478.76,612.38 479.20,610.72 477.87,609.64 479.58,609.55" fill="#1a1a1a"/>
<line x1="496.00" y1="616.60" x2="506.60" y2="616.60" stroke="#1a1a1a" stroke-width="1.2"/>
<polygon points="493.80,608.55 494.42,610.15 496.13,610.24 494.80,611.32 495.24,612.98 493.80,612.05 492.36,612.98 492.80,611.32 491.47,610.24 493.18,610.15" fill="#1a1a1a"/>
<polygon points="498.80,608.55 499.42,610.15 501.13,610.24 499.80,611.32 500.24,612.98 498.80,612.05 497.36,612.98 497.80,611.32 496.47,610.24 498.18,610.15" fill="#1a1a1a"/>
<polygon points="503.80,608.55 504.42,610.15 506.13,610.24 504.80,611.32 505.24,612.98 503.80,612.05 502.36,612.98 502.80,611.32 501.47,610.24 503.18,610.15" fill="#1a1a1a"/>
<polygon points="508.80,608.55 509.42,610.15 511.13,610.24 509.80,611.32 510.24,612.98 508.80,612.05 507.36,612.98 507.80,611.32 506.47,610.24 508.18,610.15" fill="#1a1a1a"/>
<line x1="524.60" y1="606.00" x2="535.00" y2="606.00" stroke="#1a1a1a" stroke-width="1.2"/>
<polygon points="522.30,597.95 522.92,599.55 524.63,599.64 523.30,600.72 523.74,602.38 522.30,601.45 520.86,602.38 521.30,600.72 519.97,599.64 521.68,599.55" fill="#1a1a1a"/>
<polygon points="527.30,597.95 527.92,599.55 529.63,599.64 528.30,600.72 528.74,602.38 527.30,601.45 525.86,602.38 526.30,600.72 524.97,599.64 526.68,599.55" fill="#1a1a1a"/>
<polygon points="532.30,597.95 532.92,599.55 534.63,599.64 533.30,600.72 533.74,602.38 532.30,601.45 530.86,602.38 531.30,600.72 529.97,599.64 531.68,599.55" fill="#1a1a1a"/>
<polygon points="537.30,597.95 537.92,599.55 539.63,599.64 538.30,600.72 538.74,602.38 537.30,601.45 535.86,602.38 536.30,600.72 534.97,599.64 536.68,599.55" fill="#1a1a1a"/>
<line x1="507.00" y1="593.60" x2="565.00" y2="593.60" stroke="#555" stroke-width="1.2"/>
<polygon points="536.00,585.55 536.62,587.15 538.33,587.24 537.00,588.32 537.44,589.98 536.00,589.05 534.56,589.98 535.00,588.32 533.67,587.24 535.38,587.15" fill="#1a1a1a"/>
<line x1="553.00" y1="613.60" x2="563.40" y2="613.60" stroke="#1a1a1a" stroke-width="1.2"/>
<text x="558.20" y="610.60" font-size="13" fill="#1a1a1a" text-anchor="middle">ns</text>
<line x1="581.60" y1="604.00" x2="592.00" y2="604.00" stroke="#1a1a1a" stroke-width="1.2"/>
<text x="586.80" y="601.00" font-size="13" fill="#1a1a1a" text-anchor="middle">ns</text>
<line x1="610.30" y1="616.10" x2="621.20" y2="616.10" stroke="#1a1a1a" stroke-width="1.2"/>
<text x="615.75" y="613.10" font-size="13" fill="#1a1a1a" text-anchor="middle">ns</text>
<line x1="639.20" y1="615.30" x2="649.70" y2="615.30" stroke="#1a1a1a" stroke-width="1.2"/>
<polygon points="639.45,607.25 640.07,608.85 641.78,608.94 640.45,610.02 640.89,611.68 639.45,610.75 638.01,611.68 638.45,610.02 637.12,608.94 638.83,608.85" fill="#1a1a1a"/>
<polygon points="644.45,607.25 645.07,608.85 646.78,608.94 645.45,610.02 645.89,611.68 644.45,610.75 643.01,611.68 643.45,610.02 642.12,608.94 643.83,608.85" fill="#1a1a1a"/>
<polygon points="649.45,607.25 650.07,608.85 651.78,608.94 650.45,610.02 650.89,611.68 649.45,610.75 648.01,611.68 648.45,610.02 647.12,608.94 648.83,608.85" fill="#1a1a1a"/>
<line x1="621.50" y1="600.70" x2="649.40" y2="600.70" stroke="#555" stroke-width="1.2"/>
<polygon points="632.95,592.65 633.57,594.25 635.28,594.34 633.95,595.42 634.39,597.08 632.95,596.15 631.51,597.08 631.95,595.42 630.62,594.34 632.33,594.25" fill="#1a1a1a"/>
<polygon points="637.95,592.65 638.57,594.25 640.28,594.34 638.95,595.42 639.39,597.08 637.95,596.15 636.51,597.08 636.95,595.42 635.62,594.34 637.33,594.25" fill="#1a1a1a"/>
<ellipse cx="280.9" cy="760.3" rx="4.4" ry="3.7" fill="#000"/>
<text x="291.60" y="764.60" font-size="11" fill="#1a1a1a">-PTX</text>
<path d="M281.00 771.60L286.20 779.40L275.80 779.40Z" fill="#000"/>
<text x="289.60" y="779.50" font-size="11" fill="#1a1a1a">+PTX</text>
<line x1="269.50" y1="876.40" x2="269.50" y2="785.50" stroke="#1a1a1a" stroke-width="1.4"/>
<line x1="265.50" y1="875.80" x2="269.50" y2="875.80" stroke="#1a1a1a" stroke-width="1.2"/>
<text x="264.30" y="879.26" font-size="9.6" fill="#1a1a1a" text-anchor="end">0</text>
<line x1="267.20" y1="869.82" x2="269.50" y2="869.82" stroke="#1a1a1a" stroke-width="1.1"/>
<line x1="267.20" y1="863.84" x2="269.50" y2="863.84" stroke="#1a1a1a" stroke-width="1.1"/>
<line x1="267.20" y1="857.86" x2="269.50" y2="857.86" stroke="#1a1a1a" stroke-width="1.1"/>
<line x1="267.20" y1="851.88" x2="269.50" y2="851.88" stroke="#1a1a1a" stroke-width="1.1"/>
<line x1="265.50" y1="845.90" x2="269.50" y2="845.90" stroke="#1a1a1a" stroke-width="1.2"/>
<text x="264.30" y="849.36" font-size="9.6" fill="#1a1a1a" text-anchor="end">500</text>
<line x1="267.20" y1="839.92" x2="269.50" y2="839.92" stroke="#1a1a1a" stroke-width="1.1"/>
<line x1="267.20" y1="833.94" x2="269.50" y2="833.94" stroke="#1a1a1a" stroke-width="1.1"/>
<line x1="267.20" y1="827.96" x2="269.50" y2="827.96" stroke="#1a1a1a" stroke-width="1.1"/>
<line x1="267.20" y1="821.98" x2="269.50" y2="821.98" stroke="#1a1a1a" stroke-width="1.1"/>
<line x1="265.50" y1="816.00" x2="269.50" y2="816.00" stroke="#1a1a1a" stroke-width="1.2"/>
<text x="264.30" y="819.46" font-size="9.6" fill="#1a1a1a" text-anchor="end">1000</text>
<line x1="267.20" y1="810.02" x2="269.50" y2="810.02" stroke="#1a1a1a" stroke-width="1.1"/>
<line x1="267.20" y1="804.04" x2="269.50" y2="804.04" stroke="#1a1a1a" stroke-width="1.1"/>
<line x1="267.20" y1="798.06" x2="269.50" y2="798.06" stroke="#1a1a1a" stroke-width="1.1"/>
<line x1="267.20" y1="792.08" x2="269.50" y2="792.08" stroke="#1a1a1a" stroke-width="1.1"/>
<line x1="265.50" y1="786.10" x2="269.50" y2="786.10" stroke="#1a1a1a" stroke-width="1.2"/>
<text x="264.30" y="789.56" font-size="9.6" fill="#1a1a1a" text-anchor="end">1500</text>
<line x1="268.80" y1="875.80" x2="502.50" y2="875.80" stroke="#1a1a1a" stroke-width="1.4"/>
<line x1="283.00" y1="875.80" x2="283.00" y2="878.80" stroke="#1a1a1a" stroke-width="1.1"/>
<text transform="translate(286.50,879.20) rotate(-90) scale(0.94,1)" font-size="10" fill="#1a1a1a" text-anchor="end">No EVs</text>
<line x1="312.40" y1="875.80" x2="312.40" y2="878.80" stroke="#1a1a1a" stroke-width="1.1"/>
<text transform="translate(315.90,879.20) rotate(-90) scale(0.94,1)" font-size="10" fill="#1a1a1a" text-anchor="end">Con EVs</text>
<line x1="342.00" y1="875.80" x2="342.00" y2="878.80" stroke="#1a1a1a" stroke-width="1.1"/>
<text transform="translate(345.50,879.20) rotate(-90) scale(0.94,1)" font-size="10" fill="#1a1a1a" text-anchor="end">Scr miR Con EVs</text>
<line x1="371.30" y1="875.80" x2="371.30" y2="878.80" stroke="#1a1a1a" stroke-width="1.1"/>
<text transform="translate(374.80,879.20) rotate(-90) scale(0.94,1)" font-size="10" fill="#1a1a1a" text-anchor="end">Anti-miR Con EVs</text>
<line x1="401.40" y1="875.80" x2="401.40" y2="878.80" stroke="#1a1a1a" stroke-width="1.1"/>
<text transform="translate(404.90,879.20) rotate(-90) scale(0.94,1)" font-size="10" fill="#1a1a1a" text-anchor="end">Mimic Con EVs</text>
<line x1="430.80" y1="875.80" x2="430.80" y2="878.80" stroke="#1a1a1a" stroke-width="1.1"/>
<text transform="translate(434.30,879.20) rotate(-90) scale(0.94,1)" font-size="10" fill="#1a1a1a" text-anchor="end">aPC EVs</text>
<line x1="459.50" y1="875.80" x2="459.50" y2="878.80" stroke="#1a1a1a" stroke-width="1.1"/>
<text transform="translate(463.00,879.20) rotate(-90) scale(0.94,1)" font-size="10" fill="#1a1a1a" text-anchor="end">Scr miR aPC EVs</text>
<line x1="489.00" y1="875.80" x2="489.00" y2="878.80" stroke="#1a1a1a" stroke-width="1.1"/>
<text transform="translate(492.50,879.20) rotate(-90) scale(0.94,1)" font-size="10" fill="#1a1a1a" text-anchor="end">Anti-miR aPC EVs</text>
<text transform="translate(236.20,869.60) rotate(-90) scale(0.928,1)" font-size="10" fill="#1a1a1a">Tumor Weight (mg)</text>
<circle cx="277.40" cy="813.40" r="2.7" fill="#3fa3b0"/>
<circle cx="277.40" cy="822.00" r="2.7" fill="#3fa3b0"/>
<circle cx="275.00" cy="828.60" r="2.7" fill="#3fa3b0"/>
<circle cx="279.60" cy="828.60" r="2.7" fill="#3fa3b0"/>
<circle cx="277.40" cy="835.00" r="2.7" fill="#3fa3b0"/>
<circle cx="277.40" cy="841.00" r="2.7" fill="#3fa3b0"/>
<line x1="273.00" y1="828.40" x2="281.00" y2="828.40" stroke="#1a1a1a" stroke-width="1.3"/>
<path d="M288.00 856.50L290.80 861.50L285.20 861.50Z" fill="#8cbcf2"/>
<path d="M286.00 860.50L288.80 865.50L283.20 865.50Z" fill="#8cbcf2"/>
<path d="M290.00 860.50L292.80 865.50L287.20 865.50Z" fill="#8cbcf2"/>
<path d="M286.00 866.50L288.80 871.50L283.20 871.50Z" fill="#8cbcf2"/>
<path d="M290.00 866.50L292.80 871.50L287.20 871.50Z" fill="#8cbcf2"/>
<path d="M288.00 863.50L290.80 868.50L285.20 868.50Z" fill="#8cbcf2"/>
<line x1="284.50" y1="865.00" x2="291.50" y2="865.00" stroke="#1a1a1a" stroke-width="1.3"/>
<circle cx="306.00" cy="805.00" r="2.7" fill="#f07d1e"/>
<circle cx="306.00" cy="818.00" r="2.7" fill="#f07d1e"/>
<circle cx="306.00" cy="828.00" r="2.7" fill="#f07d1e"/>
<circle cx="309.00" cy="828.00" r="2.7" fill="#f07d1e"/>
<circle cx="306.00" cy="840.00" r="2.7" fill="#f07d1e"/>
<circle cx="309.00" cy="839.40" r="2.7" fill="#f07d1e"/>
<line x1="302.00" y1="828.00" x2="310.00" y2="828.00" stroke="#1a1a1a" stroke-width="1.3"/>
<path d="M318.00 855.50L320.80 860.50L315.20 860.50Z" fill="#eeb474"/>
<path d="M315.00 858.00L317.80 863.00L312.20 863.00Z" fill="#eeb474"/>
<path d="M318.00 862.50L320.80 867.50L315.20 867.50Z" fill="#eeb474"/>
<path d="M318.00 867.50L320.80 872.50L315.20 872.50Z" fill="#eeb474"/>
<path d="M315.00 868.50L317.80 873.50L312.20 873.50Z" fill="#eeb474"/>
<path d="M320.00 860.50L322.80 865.50L317.20 865.50Z" fill="#eeb474"/>
<line x1="314.50" y1="863.40" x2="321.50" y2="863.40" stroke="#1a1a1a" stroke-width="1.3"/>
<circle cx="336.00" cy="818.00" r="2.7" fill="#55dd22"/>
<circle cx="336.00" cy="821.40" r="2.7" fill="#55dd22"/>
<circle cx="336.00" cy="826.00" r="2.7" fill="#55dd22"/>
<circle cx="336.00" cy="830.60" r="2.7" fill="#55dd22"/>
<circle cx="336.00" cy="836.00" r="2.7" fill="#55dd22"/>
<circle cx="336.00" cy="845.40" r="2.7" fill="#55dd22"/>
<line x1="332.50" y1="828.40" x2="339.50" y2="828.40" stroke="#1a1a1a" stroke-width="1.3"/>
<path d="M347.00 853.50L349.80 858.50L344.20 858.50Z" fill="#9cf09c"/>
<path d="M347.00 858.90L349.80 863.90L344.20 863.90Z" fill="#9cf09c"/>
<path d="M347.00 862.50L349.80 867.50L344.20 867.50Z" fill="#9cf09c"/>
<path d="M347.00 867.50L349.80 872.50L344.20 872.50Z" fill="#9cf09c"/>
<path d="M347.00 863.50L349.80 868.50L344.20 868.50Z" fill="#9cf09c"/>
<path d="M347.00 856.50L349.80 861.50L344.20 861.50Z" fill="#9cf09c"/>
<line x1="343.50" y1="864.40" x2="350.50" y2="864.40" stroke="#1a1a1a" stroke-width="1.3"/>
<circle cx="365.40" cy="810.60" r="2.7" fill="#5f5f5f"/>
<circle cx="365.40" cy="821.40" r="2.7" fill="#5f5f5f"/>
<circle cx="368.00" cy="824.00" r="2.7" fill="#5f5f5f"/>
<circle cx="365.40" cy="828.60" r="2.7" fill="#5f5f5f"/>
<circle cx="365.40" cy="835.40" r="2.7" fill="#5f5f5f"/>
<circle cx="365.40" cy="845.40" r="2.7" fill="#5f5f5f"/>
<line x1="362.00" y1="826.00" x2="369.00" y2="826.00" stroke="#1a1a1a" stroke-width="1.3"/>
<path d="M376.60 852.50L379.40 857.50L373.80 857.50Z" fill="#a9a9a9"/>
<path d="M376.60 856.50L379.40 861.50L373.80 861.50Z" fill="#a9a9a9"/>
<path d="M376.60 860.50L379.40 865.50L373.80 865.50Z" fill="#a9a9a9"/>
<path d="M376.60 863.50L379.40 868.50L373.80 868.50Z" fill="#a9a9a9"/>
<path d="M376.60 866.90L379.40 871.90L373.80 871.90Z" fill="#a9a9a9"/>
<path d="M376.60 858.50L379.40 863.50L373.80 863.50Z" fill="#a9a9a9"/>
<line x1="373.00" y1="864.00" x2="380.00" y2="864.00" stroke="#1a1a1a" stroke-width="1.3"/>
<circle cx="395.00" cy="808.00" r="2.7" fill="#cc22ee"/>
<circle cx="393.00" cy="821.60" r="2.7" fill="#cc22ee"/>
<circle cx="397.00" cy="824.60" r="2.7" fill="#cc22ee"/>
<circle cx="395.00" cy="833.00" r="2.7" fill="#cc22ee"/>
<circle cx="397.00" cy="837.00" r="2.7" fill="#cc22ee"/>
<circle cx="393.00" cy="840.60" r="2.7" fill="#cc22ee"/>
<line x1="391.40" y1="829.40" x2="398.60" y2="829.40" stroke="#1a1a1a" stroke-width="1.3"/>
<path d="M406.00 813.50L408.80 818.50L403.20 818.50Z" fill="#d899f2"/>
<path d="M406.00 826.90L408.80 831.90L403.20 831.90Z" fill="#d899f2"/>
<path d="M406.00 832.10L408.80 837.10L403.20 837.10Z" fill="#d899f2"/>
<path d="M406.00 839.50L408.80 844.50L403.20 844.50Z" fill="#d899f2"/>
<path d="M406.00 844.90L408.80 849.90L403.20 849.90Z" fill="#d899f2"/>
<path d="M406.00 850.10L408.80 855.10L403.20 855.10Z" fill="#d899f2"/>
<line x1="402.50" y1="839.40" x2="409.50" y2="839.40" stroke="#1a1a1a" stroke-width="1.3"/>
<circle cx="424.60" cy="804.60" r="2.7" fill="#1010f5"/>
<circle cx="424.60" cy="818.00" r="2.7" fill="#1010f5"/>
<circle cx="424.60" cy="826.40" r="2.7" fill="#1010f5"/>
<circle cx="424.60" cy="830.60" r="2.7" fill="#1010f5"/>
<circle cx="424.60" cy="839.40" r="2.7" fill="#1010f5"/>
<circle cx="424.60" cy="846.00" r="2.7" fill="#1010f5"/>
<line x1="421.00" y1="829.00" x2="428.40" y2="829.00" stroke="#1a1a1a" stroke-width="1.3"/>
<path d="M436.00 814.10L438.80 819.10L433.20 819.10Z" fill="#8a8af5"/>
<path d="M436.00 822.90L438.80 827.90L433.20 827.90Z" fill="#8a8af5"/>
<path d="M436.00 828.10L438.80 833.10L433.20 833.10Z" fill="#8a8af5"/>
<path d="M436.00 833.50L438.80 838.50L433.20 838.50Z" fill="#8a8af5"/>
<path d="M436.00 840.10L438.80 845.10L433.20 845.10Z" fill="#8a8af5"/>
<path d="M436.00 844.90L438.80 849.90L433.20 849.90Z" fill="#8a8af5"/>
<line x1="432.50" y1="833.40" x2="439.50" y2="833.40" stroke="#1a1a1a" stroke-width="1.3"/>
<circle cx="454.40" cy="798.00" r="2.7" fill="#1f6a1f"/>
<circle cx="454.40" cy="817.60" r="2.7" fill="#1f6a1f"/>
<circle cx="454.40" cy="827.00" r="2.7" fill="#1f6a1f"/>
<circle cx="454.40" cy="829.00" r="2.7" fill="#1f6a1f"/>
<circle cx="454.40" cy="834.40" r="2.7" fill="#1f6a1f"/>
<circle cx="454.40" cy="844.40" r="2.7" fill="#1f6a1f"/>
<line x1="451.00" y1="829.00" x2="458.00" y2="829.00" stroke="#1a1a1a" stroke-width="1.3"/>
<path d="M465.40 814.10L468.20 819.10L462.60 819.10Z" fill="#33ee11"/>
<path d="M465.40 823.50L468.20 828.50L462.60 828.50Z" fill="#33ee11"/>
<path d="M465.40 826.10L468.20 831.10L462.60 831.10Z" fill="#33ee11"/>
<path d="M465.40 836.50L468.20 841.50L462.60 841.50Z" fill="#33ee11"/>
<path d="M465.40 840.50L468.20 845.50L462.60 845.50Z" fill="#33ee11"/>
<path d="M465.40 827.50L468.20 832.50L462.60 832.50Z" fill="#33ee11"/>
<line x1="462.00" y1="828.60" x2="469.00" y2="828.60" stroke="#1a1a1a" stroke-width="1.3"/>
<circle cx="484.00" cy="815.60" r="2.7" fill="#a01818"/>
<circle cx="484.00" cy="819.60" r="2.7" fill="#a01818"/>
<circle cx="484.00" cy="826.00" r="2.7" fill="#a01818"/>
<circle cx="484.00" cy="830.00" r="2.7" fill="#a01818"/>
<circle cx="484.00" cy="839.60" r="2.7" fill="#a01818"/>
<circle cx="484.00" cy="845.00" r="2.7" fill="#a01818"/>
<line x1="480.50" y1="829.40" x2="487.50" y2="829.40" stroke="#1a1a1a" stroke-width="1.3"/>
<path d="M493.00 855.50L495.80 860.50L490.20 860.50Z" fill="#f2a0a0"/>
<path d="M497.00 855.50L499.80 860.50L494.20 860.50Z" fill="#f2a0a0"/>
<path d="M495.00 857.50L497.80 862.50L492.20 862.50Z" fill="#f2a0a0"/>
<path d="M493.00 861.90L495.80 866.90L490.20 866.90Z" fill="#f2a0a0"/>
<path d="M497.00 867.10L499.80 872.10L494.20 872.10Z" fill="#f2a0a0"/>
<path d="M495.00 863.50L497.80 868.50L492.20 868.50Z" fill="#f2a0a0"/>
<line x1="491.50" y1="864.00" x2="498.50" y2="864.00" stroke="#1a1a1a" stroke-width="1.3"/>
<line x1="269.50" y1="875.80" x2="502.50" y2="875.80" stroke="#333" stroke-width="1.1"/>
<line x1="277.40" y1="807.00" x2="288.00" y2="807.00" stroke="#666" stroke-width="1.2"/>
<polygon points="275.20,798.95 275.82,800.55 277.53,800.64 276.20,801.72 276.64,803.38 275.20,802.45 273.76,803.38 274.20,801.72 272.87,800.64 274.58,800.55" fill="#1a1a1a"/>
<polygon points="280.20,798.95 280.82,800.55 282.53,800.64 281.20,801.72 281.64,803.38 280.20,802.45 278.76,803.38 279.20,801.72 277.87,800.64 279.58,800.55" fill="#1a1a1a"/>
<polygon points="285.20,798.95 285.82,800.55 287.53,800.64 286.20,801.72 286.64,803.38 285.20,802.45 283.76,803.38 284.20,801.72 282.87,800.64 284.58,800.55" fill="#1a1a1a"/>
<polygon points="290.20,798.95 290.82,800.55 292.53,800.64 291.20,801.72 291.64,803.38 290.20,802.45 288.76,803.38 289.20,801.72 287.87,800.64 289.58,800.55" fill="#1a1a1a"/>
<line x1="306.00" y1="798.40" x2="317.00" y2="798.40" stroke="#1a1a1a" stroke-width="1.2"/>
<polygon points="304.00,790.35 304.62,791.95 306.33,792.04 305.00,793.12 305.44,794.78 304.00,793.85 302.56,794.78 303.00,793.12 301.67,792.04 303.38,791.95" fill="#1a1a1a"/>
<polygon points="309.00,790.35 309.62,791.95 311.33,792.04 310.00,793.12 310.44,794.78 309.00,793.85 307.56,794.78 308.00,793.12 306.67,792.04 308.38,791.95" fill="#1a1a1a"/>
<polygon points="314.00,790.35 314.62,791.95 316.33,792.04 315.00,793.12 315.44,794.78 314.00,793.85 312.56,794.78 313.00,793.12 311.67,792.04 313.38,791.95" fill="#1a1a1a"/>
<polygon points="319.00,790.35 319.62,791.95 321.33,792.04 320.00,793.12 320.44,794.78 319.00,793.85 317.56,794.78 318.00,793.12 316.67,792.04 318.38,791.95" fill="#1a1a1a"/>
<line x1="336.00" y1="811.00" x2="346.60" y2="811.00" stroke="#666" stroke-width="1.2"/>
<polygon points="333.80,802.95 334.42,804.55 336.13,804.64 334.80,805.72 335.24,807.38 333.80,806.45 332.36,807.38 332.80,805.72 331.47,804.64 333.18,804.55" fill="#1a1a1a"/>
<polygon points="338.80,802.95 339.42,804.55 341.13,804.64 339.80,805.72 340.24,807.38 338.80,806.45 337.36,807.38 337.80,805.72 336.47,804.64 338.18,804.55" fill="#1a1a1a"/>
<polygon points="343.80,802.95 344.42,804.55 346.13,804.64 344.80,805.72 345.24,807.38 343.80,806.45 342.36,807.38 342.80,805.72 341.47,804.64 343.18,804.55" fill="#1a1a1a"/>
<polygon points="348.80,802.95 349.42,804.55 351.13,804.64 349.80,805.72 350.24,807.38 348.80,806.45 347.36,807.38 347.80,805.72 346.47,804.64 348.18,804.55" fill="#1a1a1a"/>
<line x1="347.40" y1="786.00" x2="407.40" y2="786.00" stroke="#555" stroke-width="1.2"/>
<polygon points="374.90,777.95 375.52,779.55 377.23,779.64 375.90,780.72 376.34,782.38 374.90,781.45 373.46,782.38 373.90,780.72 372.57,779.64 374.28,779.55" fill="#1a1a1a"/>
<polygon points="379.90,777.95 380.52,779.55 382.23,779.64 380.90,780.72 381.34,782.38 379.90,781.45 378.46,782.38 378.90,780.72 377.57,779.64 379.28,779.55" fill="#1a1a1a"/>
<line x1="365.40" y1="803.40" x2="376.00" y2="803.40" stroke="#1a1a1a" stroke-width="1.2"/>
<polygon points="363.20,795.35 363.82,796.95 365.53,797.04 364.20,798.12 364.64,799.78 363.20,798.85 361.76,799.78 362.20,798.12 360.87,797.04 362.58,796.95" fill="#1a1a1a"/>
<polygon points="368.20,795.35 368.82,796.95 370.53,797.04 369.20,798.12 369.64,799.78 368.20,798.85 366.76,799.78 367.20,798.12 365.87,797.04 367.58,796.95" fill="#1a1a1a"/>
<polygon points="373.20,795.35 373.82,796.95 375.53,797.04 374.20,798.12 374.64,799.78 373.20,798.85 371.76,799.78 372.20,798.12 370.87,797.04 372.58,796.95" fill="#1a1a1a"/>
<polygon points="378.20,795.35 378.82,796.95 380.53,797.04 379.20,798.12 379.64,799.78 378.20,798.85 376.76,799.78 377.20,798.12 375.87,797.04 377.58,796.95" fill="#1a1a1a"/>
<line x1="395.00" y1="801.40" x2="406.00" y2="801.40" stroke="#1a1a1a" stroke-width="1.2"/>
<text x="400.50" y="798.40" font-size="13" fill="#1a1a1a" text-anchor="middle">ns</text>
<line x1="424.60" y1="798.00" x2="435.40" y2="798.00" stroke="#1a1a1a" stroke-width="1.2"/>
<text x="430.00" y="795.00" font-size="13" fill="#1a1a1a" text-anchor="middle">ns</text>
<line x1="454.40" y1="791.00" x2="465.00" y2="791.00" stroke="#1a1a1a" stroke-width="1.2"/>
<text x="459.70" y="788.00" font-size="13" fill="#1a1a1a" text-anchor="middle">ns</text>
<line x1="484.00" y1="808.60" x2="494.40" y2="808.60" stroke="#777" stroke-width="1.2"/>
<polygon points="481.70,800.55 482.32,802.15 484.03,802.24 482.70,803.32 483.14,804.98 481.70,804.05 480.26,804.98 480.70,803.32 479.37,802.24 481.08,802.15" fill="#1a1a1a"/>
<polygon points="486.70,800.55 487.32,802.15 489.03,802.24 487.70,803.32 488.14,804.98 486.70,804.05 485.26,804.98 485.70,803.32 484.37,802.24 486.08,802.15" fill="#1a1a1a"/>
<polygon points="491.70,800.55 492.32,802.15 494.03,802.24 492.70,803.32 493.14,804.98 491.70,804.05 490.26,804.98 490.70,803.32 489.37,802.24 491.08,802.15" fill="#1a1a1a"/>
<polygon points="496.70,800.55 497.32,802.15 499.03,802.24 497.70,803.32 498.14,804.98 496.70,804.05 495.26,804.98 495.70,803.32 494.37,802.24 496.08,802.15" fill="#1a1a1a"/>
<line x1="465.60" y1="777.40" x2="494.00" y2="777.40" stroke="#1a1a1a" stroke-width="1.2"/>
<polygon points="472.30,769.35 472.92,770.95 474.63,771.04 473.30,772.12 473.74,773.78 472.30,772.85 470.86,773.78 471.30,772.12 469.97,771.04 471.68,770.95" fill="#1a1a1a"/>
<polygon points="477.30,769.35 477.92,770.95 479.63,771.04 478.30,772.12 478.74,773.78 477.30,772.85 475.86,773.78 476.30,772.12 474.97,771.04 476.68,770.95" fill="#1a1a1a"/>
<polygon points="482.30,769.35 482.92,770.95 484.63,771.04 483.30,772.12 483.74,773.78 482.30,772.85 480.86,773.78 481.30,772.12 479.97,771.04 481.68,770.95" fill="#1a1a1a"/>
<polygon points="487.30,769.35 487.92,770.95 489.63,771.04 488.30,772.12 488.74,773.78 487.30,772.85 485.86,773.78 486.30,772.12 484.97,771.04 486.68,770.95" fill="#1a1a1a"/>
<path d="M27.5 460 L31 463.8 L34 464 Z" fill="#f7e6e6"/>
<circle cx="34.6" cy="454" r="10.3" fill="#fcf4f4" stroke="#efcaca" stroke-width="0.8"/>
<circle cx="34.6" cy="454" r="7.4" fill="url(#cells)"/>
<g transform="translate(13.10,455.80) rotate(44.08)"><rect x="0" y="-1.2" width="2.64" height="2.4" fill="#e4e4e4" stroke="#b0b0b0" stroke-width="0.4"/><rect x="2.64" y="-0.5" width="2.20" height="1" fill="#d0d0d0"/><rect x="4.84" y="-1.9" width="9.90" height="3.8" fill="#f2f2f2" stroke="#a8a8a8" stroke-width="0.45"/><rect x="12.76" y="-1.9" width="1.98" height="3.8" fill="#555"/><path d="M14.74 -1.6 L17.16 -0.9 L17.16 0.9 L14.74 1.6Z" fill="#d86060"/><line x1="17.16" y1="0" x2="21.99" y2="0" stroke="#5fb8a8" stroke-width="0.7"/></g>
<g transform="translate(26.30,483.40) scale(1.0)"><path d="M0.8 -1.6 C-6 -0.2 -14 -1.6 -23 -0.4" fill="none" stroke="#e1abab" stroke-width="1.1" stroke-linecap="round"/><path d="M2.5 0 C-0.5 -1 -1 -6 1.3 -9.5 C4 -13 10 -14.2 15 -13.3 C16.5 -14.3 18 -14.6 19.2 -14.2 C21.3 -13.6 23.8 -12.9 25.8 -12 C25 -10.6 23 -9.6 21 -9.1 C20 -7 19.6 -4 20.2 -1.6 L21.8 0 L18 0 L17.6 -2.4 C15 -1 12 -0.2 9 0 L8 -1.5 L5.5 0 Z" fill="#e1abab" stroke="#cc9393" stroke-width="0.4"/><ellipse cx="16.7" cy="-15" rx="2.1" ry="2.5" fill="#e1abab" stroke="#cc9393" stroke-width="0.4"/><circle cx="21.6" cy="-13" r="0.65" fill="#6a3a3a"/></g>
<path d="M325.00 467.70 L326.20 475.70 L331.00 471.50Z" fill="#f6f0c4" stroke="#e2d88e" stroke-width="0.5"/>
<circle cx="333.50" cy="460.70" r="11.3" fill="#fdfbea" stroke="#e0d68a" stroke-width="0.8"/>
<circle cx="333.80" cy="453.80" r="1.75" fill="#d9b02e" stroke="#c09a25" stroke-width="0.3"/>
<circle cx="328.00" cy="456.00" r="1.75" fill="#d9b02e" stroke="#c09a25" stroke-width="0.3"/>
<circle cx="339.30" cy="456.30" r="1.75" fill="#d9b02e" stroke="#c09a25" stroke-width="0.3"/>
<circle cx="326.80" cy="461.10" r="1.75" fill="#d9b02e" stroke="#c09a25" stroke-width="0.3"/>
<circle cx="333.70" cy="460.20" r="1.75" fill="#d9b02e" stroke="#c09a25" stroke-width="0.3"/>
<circle cx="339.90" cy="463.10" r="1.75" fill="#d9b02e" stroke="#c09a25" stroke-width="0.3"/>
<circle cx="329.00" cy="465.80" r="1.75" fill="#d9b02e" stroke="#c09a25" stroke-width="0.3"/>
<circle cx="334.90" cy="467.30" r="1.75" fill="#d9b02e" stroke="#c09a25" stroke-width="0.3"/>
<g transform="translate(310.50,468.40) rotate(29.33)"><rect x="0" y="-1.2" width="3.11" height="2.4" fill="#e4e4e4" stroke="#b0b0b0" stroke-width="0.4"/><rect x="3.11" y="-0.5" width="2.59" height="1" fill="#d0d0d0"/><rect x="5.70" y="-1.9" width="11.67" height="3.8" fill="#ededed" stroke="#a8a8a8" stroke-width="0.45"/><rect x="15.04" y="-1.9" width="2.33" height="3.8" fill="#555"/><path d="M17.37 -1.6 L20.22 -0.9 L20.22 0.9 L17.37 1.6Z" fill="#e8dca0"/><line x1="20.22" y1="0" x2="25.92" y2="0" stroke="#5fb8a8" stroke-width="0.7"/></g>
<g transform="translate(351.90,484.20) scale(1.0)"><path d="M0.8 -1.6 C-6 -0.2 -14 -1.6 -23 -0.4" fill="none" stroke="#e1abab" stroke-width="1.1" stroke-linecap="round"/><path d="M2.5 0 C-0.5 -1 -1 -6 1.3 -9.5 C4 -13 10 -14.2 15 -13.3 C16.5 -14.3 18 -14.6 19.2 -14.2 C21.3 -13.6 23.8 -12.9 25.8 -12 C25 -10.6 23 -9.6 21 -9.1 C20 -7 19.6 -4 20.2 -1.6 L21.8 0 L18 0 L17.6 -2.4 C15 -1 12 -0.2 9 0 L8 -1.5 L5.5 0 Z" fill="#e1abab" stroke="#cc9393" stroke-width="0.4"/><ellipse cx="16.7" cy="-15" rx="2.1" ry="2.5" fill="#e1abab" stroke="#cc9393" stroke-width="0.4"/><circle cx="21.6" cy="-13" r="0.65" fill="#6a3a3a"/></g>
<path d="M397.00 467.70 L398.20 475.70 L403.00 471.50Z" fill="#f6f0c4" stroke="#e2d88e" stroke-width="0.5"/>
<circle cx="405.50" cy="460.70" r="11.3" fill="#fdfbea" stroke="#e0d68a" stroke-width="0.8"/>
<circle cx="405.80" cy="453.80" r="1.75" fill="#d9b02e" stroke="#c09a25" stroke-width="0.3"/>
<circle cx="400.00" cy="456.00" r="1.75" fill="#d9b02e" stroke="#c09a25" stroke-width="0.3"/>
<circle cx="411.30" cy="456.30" r="1.75" fill="#d9b02e" stroke="#c09a25" stroke-width="0.3"/>
<circle cx="398.80" cy="461.10" r="1.75" fill="#d9b02e" stroke="#c09a25" stroke-width="0.3"/>
<circle cx="405.70" cy="460.20" r="1.75" fill="#d9b02e" stroke="#c09a25" stroke-width="0.3"/>
<circle cx="411.90" cy="463.10" r="1.75" fill="#d9b02e" stroke="#c09a25" stroke-width="0.3"/>
<circle cx="401.00" cy="465.80" r="1.75" fill="#d9b02e" stroke="#c09a25" stroke-width="0.3"/>
<circle cx="406.90" cy="467.30" r="1.75" fill="#d9b02e" stroke="#c09a25" stroke-width="0.3"/>
<g transform="translate(382.50,468.40) rotate(29.33)"><rect x="0" y="-1.2" width="3.11" height="2.4" fill="#e4e4e4" stroke="#b0b0b0" stroke-width="0.4"/><rect x="3.11" y="-0.5" width="2.59" height="1" fill="#d0d0d0"/><rect x="5.70" y="-1.9" width="11.67" height="3.8" fill="#ededed" stroke="#a8a8a8" stroke-width="0.45"/><rect x="15.04" y="-1.9" width="2.33" height="3.8" fill="#555"/><path d="M17.37 -1.6 L20.22 -0.9 L20.22 0.9 L17.37 1.6Z" fill="#e8dca0"/><line x1="20.22" y1="0" x2="25.92" y2="0" stroke="#5fb8a8" stroke-width="0.7"/></g>
<g transform="translate(424.20,484.20) scale(1.0)"><path d="M0.8 -1.6 C-6 -0.2 -14 -1.6 -23 -0.4" fill="none" stroke="#e1abab" stroke-width="1.1" stroke-linecap="round"/><path d="M2.5 0 C-0.5 -1 -1 -6 1.3 -9.5 C4 -13 10 -14.2 15 -13.3 C16.5 -14.3 18 -14.6 19.2 -14.2 C21.3 -13.6 23.8 -12.9 25.8 -12 C25 -10.6 23 -9.6 21 -9.1 C20 -7 19.6 -4 20.2 -1.6 L21.8 0 L18 0 L17.6 -2.4 C15 -1 12 -0.2 9 0 L8 -1.5 L5.5 0 Z" fill="#e1abab" stroke="#cc9393" stroke-width="0.4"/><ellipse cx="16.7" cy="-15" rx="2.1" ry="2.5" fill="#e1abab" stroke="#cc9393" stroke-width="0.4"/><circle cx="21.6" cy="-13" r="0.65" fill="#6a3a3a"/></g>
<path d="M470.90 467.70 L472.10 475.70 L476.90 471.50Z" fill="#f6f0c4" stroke="#e2d88e" stroke-width="0.5"/>
<circle cx="479.40" cy="460.70" r="11.3" fill="#fdfbea" stroke="#e0d68a" stroke-width="0.8"/>
<circle cx="479.70" cy="453.80" r="1.75" fill="#d9b02e" stroke="#c09a25" stroke-width="0.3"/>
<circle cx="473.90" cy="456.00" r="1.75" fill="#d9b02e" stroke="#c09a25" stroke-width="0.3"/>
<circle cx="485.20" cy="456.30" r="1.75" fill="#d9b02e" stroke="#c09a25" stroke-width="0.3"/>
<circle cx="472.70" cy="461.10" r="1.75" fill="#d9b02e" stroke="#c09a25" stroke-width="0.3"/>
<circle cx="479.60" cy="460.20" r="1.75" fill="#d9b02e" stroke="#c09a25" stroke-width="0.3"/>
<circle cx="485.80" cy="463.10" r="1.75" fill="#d9b02e" stroke="#c09a25" stroke-width="0.3"/>
<circle cx="474.90" cy="465.80" r="1.75" fill="#d9b02e" stroke="#c09a25" stroke-width="0.3"/>
<circle cx="480.80" cy="467.30" r="1.75" fill="#d9b02e" stroke="#c09a25" stroke-width="0.3"/>
<g transform="translate(456.00,468.40) rotate(29.33)"><rect x="0" y="-1.2" width="3.11" height="2.4" fill="#e4e4e4" stroke="#b0b0b0" stroke-width="0.4"/><rect x="3.11" y="-0.5" width="2.59" height="1" fill="#d0d0d0"/><rect x="5.70" y="-1.9" width="11.67" height="3.8" fill="#ededed" stroke="#a8a8a8" stroke-width="0.45"/><rect x="15.04" y="-1.9" width="2.33" height="3.8" fill="#555"/><path d="M17.37 -1.6 L20.22 -0.9 L20.22 0.9 L17.37 1.6Z" fill="#e8dca0"/><line x1="20.22" y1="0" x2="25.92" y2="0" stroke="#5fb8a8" stroke-width="0.7"/></g>
<g transform="translate(497.20,484.20) scale(1.0)"><path d="M0.8 -1.6 C-6 -0.2 -14 -1.6 -23 -0.4" fill="none" stroke="#e1abab" stroke-width="1.1" stroke-linecap="round"/><path d="M2.5 0 C-0.5 -1 -1 -6 1.3 -9.5 C4 -13 10 -14.2 15 -13.3 C16.5 -14.3 18 -14.6 19.2 -14.2 C21.3 -13.6 23.8 -12.9 25.8 -12 C25 -10.6 23 -9.6 21 -9.1 C20 -7 19.6 -4 20.2 -1.6 L21.8 0 L18 0 L17.6 -2.4 C15 -1 12 -0.2 9 0 L8 -1.5 L5.5 0 Z" fill="#e1abab" stroke="#cc9393" stroke-width="0.4"/><ellipse cx="16.7" cy="-15" rx="2.1" ry="2.5" fill="#e1abab" stroke="#cc9393" stroke-width="0.4"/><circle cx="21.6" cy="-13" r="0.65" fill="#6a3a3a"/></g>
<g fill="#e1abab" stroke="#cc9393" stroke-width="0.35"><path d="M644.4 436.3 C643 438.5 640.5 440.5 640 443 C639.5 445 640 446.5 640.3 448 C640 451 640 455 640.5 457.5 C638.5 458.5 637.3 460.5 637.8 462.5 C638.5 464.3 641 464.5 643.5 464.2 L644.6 465 L646 464.2 C648.5 464.5 651 464.3 651.8 462.5 C652.3 460.5 651 458.5 649 457.5 C649.5 455 649.6 451 649.3 448 C649.6 446.5 650 445 649.6 443 C649 440.5 646 438.5 644.4 436.3 Z"/><path d="M640.6 446.6 L635.8 442.6 L634.4 443.4 L635.2 444.2 L640.2 448.6 Z"/><path d="M648.8 446.6 L653.4 442.6 L654.8 443.4 L654 444.2 L649.2 448.6 Z"/><path d="M639 462.5 L635.3 466 L634.2 467.2 L636.5 467.3 L640.5 464 Z"/><path d="M650.4 462.5 L654 466 L655 467.2 L652.8 467.3 L649 464 Z"/></g>
<path d="M644.6 464 C645 471 645.4 478 646.1 485.3" fill="none" stroke="#e1abab" stroke-width="1.2" stroke-linecap="round"/>
<ellipse cx="640.6" cy="443" rx="1.5" ry="1.3" fill="#e1abab" stroke="#cc9393" stroke-width="0.3"/>
<ellipse cx="648.4" cy="443" rx="1.5" ry="1.3" fill="#e1abab" stroke="#cc9393" stroke-width="0.3"/>
</svg></body></html>
